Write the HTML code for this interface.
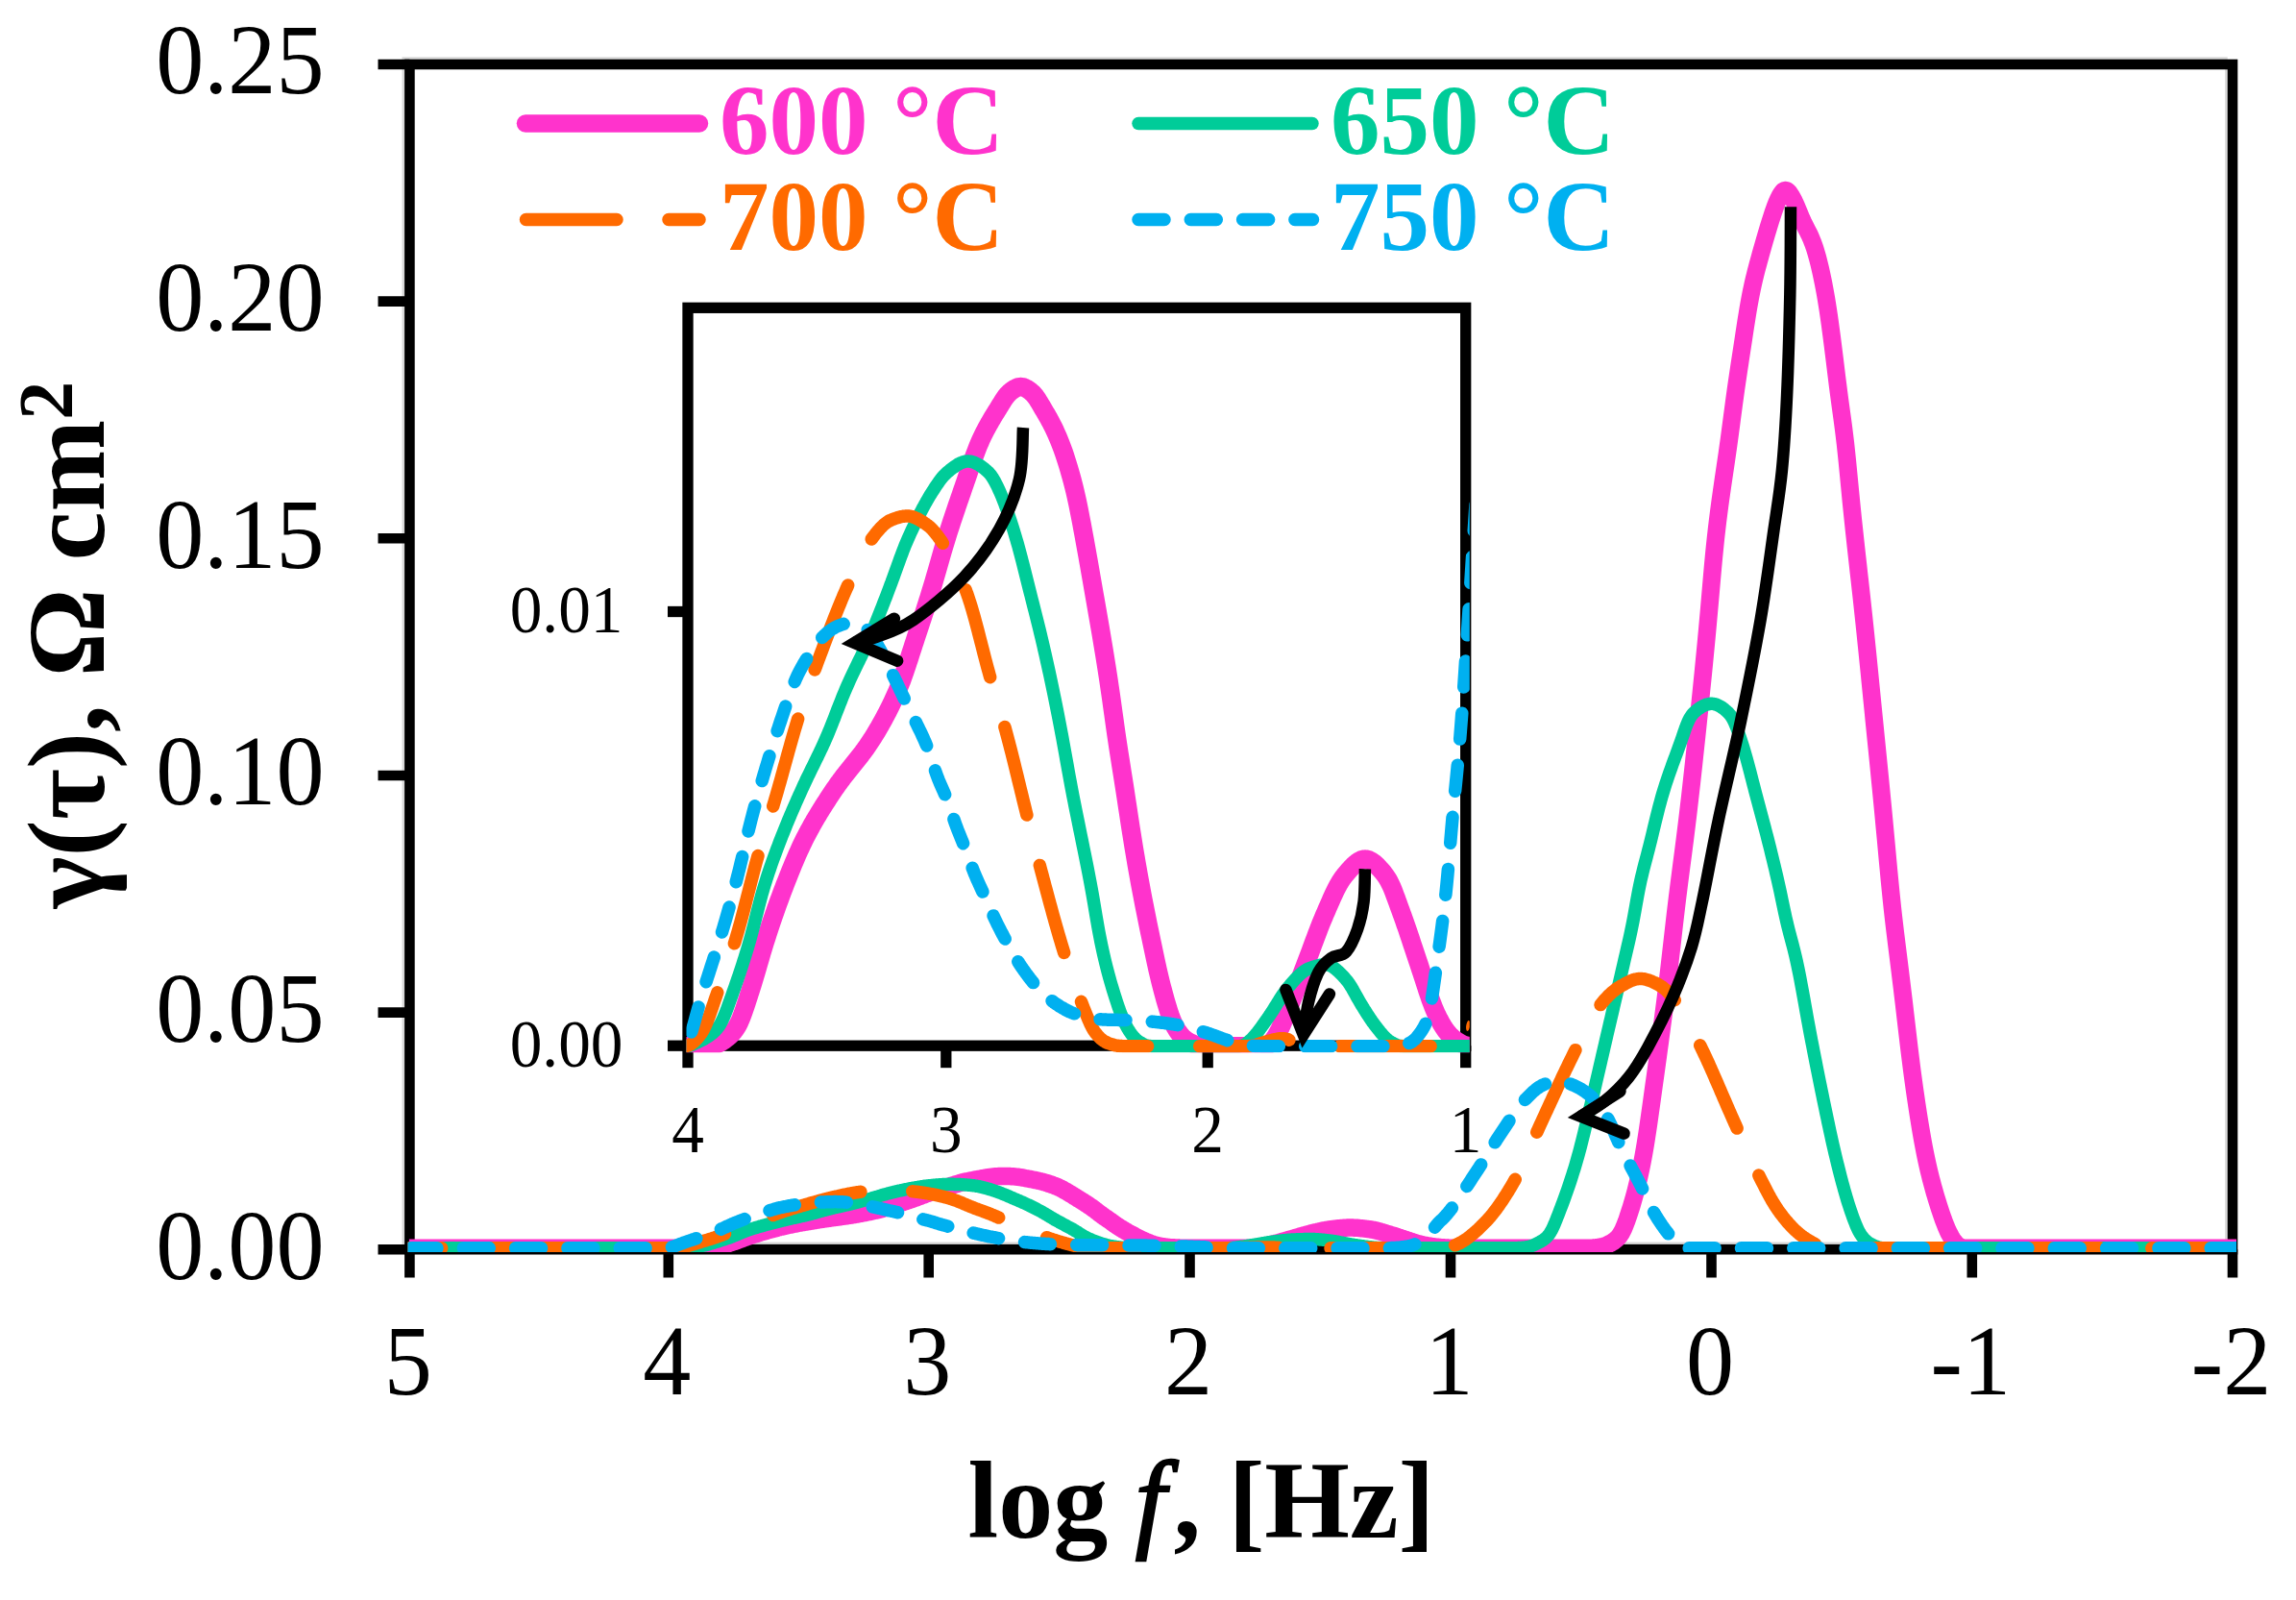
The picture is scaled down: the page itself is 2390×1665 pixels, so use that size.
<!DOCTYPE html>
<html lang="en">
<head>
<meta charset="utf-8">
<title>DRT spectra: γ(τ) vs log f</title>
<style>
html,body{margin:0;padding:0;background:#fff;}
body{width:2390px;height:1665px;overflow:hidden;font-family:'Liberation Serif','Times New Roman',serif;}
svg{display:block;}
</style>
</head>
<body>
<svg width="2390" height="1665" viewBox="0 0 2390 1665">
<rect width="2390" height="1665" fill="#fff"/>
<defs>
<clipPath id="cm"><rect x="424.4" y="67.0" width="1903.6" height="1236.1"/></clipPath>
<clipPath id="ci"><rect x="714.5" y="320.3" width="815.3" height="775.0"/></clipPath>
</defs>
<rect x="419.79999999999995" y="60.6" width="1897.6" height="1233.2" fill="none" stroke="#d9d9d9" stroke-width="2.6"/>
<g stroke="#000" stroke-width="10.6" fill="none" stroke-linecap="butt">
<rect x="426.4" y="67.0" width="1897.6" height="1233.2"/>
<line x1="426.4" y1="1300.2" x2="426.4" y2="1329.5"/>
<line x1="695.8" y1="1300.2" x2="695.8" y2="1329.5"/>
<line x1="966.7" y1="1300.2" x2="966.7" y2="1329.5"/>
<line x1="1238.5" y1="1300.2" x2="1238.5" y2="1329.5"/>
<line x1="1510.0" y1="1300.2" x2="1510.0" y2="1329.5"/>
<line x1="1781.5" y1="1300.2" x2="1781.5" y2="1329.5"/>
<line x1="2052.8" y1="1300.2" x2="2052.8" y2="1329.5"/>
<line x1="2324.0" y1="1300.2" x2="2324.0" y2="1329.5"/>
<line x1="393.5" y1="67.0" x2="426.4" y2="67.0"/>
<line x1="393.5" y1="313.6" x2="426.4" y2="313.6"/>
<line x1="393.5" y1="560.3" x2="426.4" y2="560.3"/>
<line x1="393.5" y1="807.0" x2="426.4" y2="807.0"/>
<line x1="393.5" y1="1053.6" x2="426.4" y2="1053.6"/>
<line x1="393.5" y1="1300.2" x2="426.4" y2="1300.2"/>
</g>
<g clip-path="url(#cm)" fill="none" stroke-linejoin="round">
<path d="M425.9,1298.8 L426.9,1298.8 L427.9,1298.8 L428.9,1298.8 L429.9,1298.8 L430.9,1298.8 L431.9,1298.8 L432.9,1298.8 L433.9,1298.8 L434.9,1298.8 L435.9,1298.8 L436.9,1298.8 L437.9,1298.8 L438.9,1298.8 L439.9,1298.8 L440.9,1298.8 L441.9,1298.8 L442.9,1298.8 L443.9,1298.8 L444.9,1298.8 L445.9,1298.8 L446.9,1298.8 L447.9,1298.8 L448.9,1298.8 L449.9,1298.8 L450.9,1298.8 L451.9,1298.8 L452.9,1298.8 L453.9,1298.8 L454.9,1298.8 L455.9,1298.8 L456.9,1298.8 L457.9,1298.8 L458.9,1298.8 L459.9,1298.8 L460.9,1298.8 L461.9,1298.8 L462.9,1298.8 L463.9,1298.8 L464.9,1298.8 L465.9,1298.8 L466.9,1298.8 L467.9,1298.8 L468.9,1298.8 L469.9,1298.8 L470.9,1298.8 L471.9,1298.8 L472.9,1298.8 L473.9,1298.8 L474.9,1298.8 L475.9,1298.8 L476.9,1298.8 L477.9,1298.8 L478.9,1298.8 L479.9,1298.8 L480.9,1298.8 L481.9,1298.8 L482.9,1298.8 L483.9,1298.8 L484.9,1298.8 L485.9,1298.8 L486.9,1298.8 L487.9,1298.8 L488.9,1298.8 L489.9,1298.8 L490.9,1298.8 L491.9,1298.8 L492.9,1298.8 L493.9,1298.8 L494.9,1298.8 L495.9,1298.8 L496.9,1298.8 L497.9,1298.8 L498.9,1298.8 L499.9,1298.8 L500.9,1298.8 L501.9,1298.8 L502.9,1298.8 L503.9,1298.8 L504.9,1298.8 L505.9,1298.8 L506.9,1298.8 L507.9,1298.8 L508.9,1298.8 L509.9,1298.8 L510.9,1298.8 L511.9,1298.8 L512.9,1298.8 L513.9,1298.8 L514.9,1298.8 L515.9,1298.8 L516.9,1298.8 L517.9,1298.8 L518.9,1298.8 L519.9,1298.8 L520.9,1298.8 L521.9,1298.8 L522.9,1298.8 L523.9,1298.8 L524.9,1298.8 L525.9,1298.8 L526.9,1298.8 L527.9,1298.8 L528.9,1298.8 L529.9,1298.8 L530.9,1298.8 L531.9,1298.8 L532.9,1298.8 L533.9,1298.8 L534.9,1298.8 L535.9,1298.8 L536.9,1298.8 L537.9,1298.8 L538.9,1298.8 L539.9,1298.8 L540.9,1298.8 L541.9,1298.8 L542.9,1298.8 L543.9,1298.8 L544.9,1298.8 L545.9,1298.8 L546.9,1298.8 L547.9,1298.8 L548.9,1298.8 L549.9,1298.8 L550.9,1298.8 L551.9,1298.8 L552.9,1298.8 L553.9,1298.8 L554.9,1298.8 L555.9,1298.8 L556.9,1298.8 L557.9,1298.8 L558.9,1298.8 L559.9,1298.8 L560.9,1298.8 L561.9,1298.8 L562.9,1298.8 L563.9,1298.8 L564.9,1298.8 L565.9,1298.8 L566.9,1298.8 L567.9,1298.8 L568.9,1298.8 L569.9,1298.8 L570.9,1298.8 L571.9,1298.8 L572.9,1298.8 L573.9,1298.8 L574.9,1298.8 L575.9,1298.8 L576.9,1298.8 L577.9,1298.8 L578.9,1298.8 L579.9,1298.8 L580.9,1298.8 L581.9,1298.8 L582.9,1298.8 L583.9,1298.8 L584.9,1298.8 L585.9,1298.8 L586.9,1298.8 L587.9,1298.8 L588.9,1298.8 L589.9,1298.8 L590.9,1298.8 L591.9,1298.8 L592.9,1298.8 L593.9,1298.8 L594.9,1298.8 L595.9,1298.8 L596.9,1298.8 L597.9,1298.8 L598.9,1298.8 L599.9,1298.8 L600.9,1298.8 L601.9,1298.8 L602.9,1298.8 L603.9,1298.8 L604.9,1298.8 L605.9,1298.8 L606.9,1298.8 L607.9,1298.8 L608.9,1298.8 L609.9,1298.8 L610.9,1298.8 L611.9,1298.8 L612.9,1298.8 L613.9,1298.8 L614.9,1298.8 L615.9,1298.8 L616.9,1298.8 L617.9,1298.8 L618.9,1298.8 L619.9,1298.8 L620.9,1298.8 L621.9,1298.8 L622.9,1298.8 L623.9,1298.8 L624.9,1298.8 L625.9,1298.8 L626.9,1298.8 L627.9,1298.8 L628.9,1298.8 L629.9,1298.8 L630.9,1298.8 L631.9,1298.8 L632.9,1298.8 L633.9,1298.8 L634.9,1298.8 L635.9,1298.8 L636.9,1298.8 L637.9,1298.8 L638.9,1298.8 L639.9,1298.8 L640.9,1298.8 L641.9,1298.8 L642.9,1298.8 L643.9,1298.8 L644.9,1298.8 L645.9,1298.8 L646.9,1298.8 L647.9,1298.8 L648.9,1298.8 L649.9,1298.8 L650.9,1298.8 L651.9,1298.8 L652.9,1298.8 L653.9,1298.8 L654.9,1298.8 L655.9,1298.8 L656.9,1298.8 L657.9,1298.8 L658.9,1298.8 L659.9,1298.8 L660.9,1298.8 L661.9,1298.8 L662.9,1298.8 L663.9,1298.8 L664.9,1298.8 L665.9,1298.8 L666.9,1298.8 L667.9,1298.8 L668.9,1298.8 L669.9,1298.8 L670.9,1298.8 L671.9,1298.8 L672.9,1298.8 L673.9,1298.8 L674.9,1298.8 L675.9,1298.8 L676.9,1298.8 L677.9,1298.8 L678.9,1298.8 L679.9,1298.8 L680.9,1298.8 L681.9,1298.8 L682.9,1298.8 L683.9,1298.8 L684.9,1298.8 L685.9,1298.8 L686.9,1298.8 L687.9,1298.8 L688.9,1298.8 L689.9,1298.8 L690.9,1298.8 L691.9,1298.8 L692.9,1298.8 L693.9,1298.8 L694.9,1298.8 L695.9,1298.8 L696.9,1298.8 L697.9,1298.8 L698.9,1298.8 L699.9,1298.8 L700.9,1298.8 L701.9,1298.8 L702.9,1298.8 L703.9,1298.8 L704.9,1298.8 L705.9,1298.8 L706.9,1298.8 L707.9,1298.8 L708.9,1298.8 L709.9,1298.8 L710.9,1298.8 L711.9,1298.8 L712.9,1298.8 L713.9,1298.8 L714.9,1298.8 L715.9,1298.8 L716.9,1298.8 L717.9,1298.8 L718.9,1298.8 L719.9,1298.8 L720.9,1298.7 L721.9,1298.7 L722.9,1298.7 L723.9,1298.7 L724.9,1298.7 L725.9,1298.6 L726.9,1298.6 L727.9,1298.6 L728.9,1298.5 L729.9,1298.5 L730.9,1298.4 L731.9,1298.4 L732.9,1298.3 L733.9,1298.2 L734.9,1298.1 L735.9,1298.1 L736.9,1298.0 L737.9,1297.9 L738.9,1297.8 L739.9,1297.7 L740.9,1297.6 L741.9,1297.5 L742.9,1297.4 L743.9,1297.3 L744.9,1297.2 L745.9,1297.0 L746.9,1296.9 L747.9,1296.7 L748.9,1296.6 L749.9,1296.4 L750.9,1296.2 L751.9,1295.9 L752.9,1295.7 L753.9,1295.4 L754.9,1295.1 L755.9,1294.8 L756.9,1294.5 L757.9,1294.2 L758.9,1293.8 L759.9,1293.5 L760.9,1293.2 L761.9,1292.8 L762.9,1292.5 L763.9,1292.1 L764.9,1291.8 L765.9,1291.4 L766.9,1291.1 L767.9,1290.7 L768.9,1290.3 L769.9,1290.0 L770.9,1289.6 L771.9,1289.2 L772.9,1288.9 L773.9,1288.5 L774.9,1288.1 L775.9,1287.7 L776.9,1287.4 L777.9,1287.0 L778.9,1286.7 L779.9,1286.3 L780.9,1286.0 L781.9,1285.7 L782.9,1285.4 L783.9,1285.0 L784.9,1284.7 L785.9,1284.4 L786.9,1284.1 L787.9,1283.8 L788.9,1283.4 L789.9,1283.1 L790.9,1282.8 L791.9,1282.5 L792.9,1282.2 L793.9,1281.9 L794.9,1281.6 L795.9,1281.4 L796.9,1281.1 L797.9,1280.8 L798.9,1280.5 L799.9,1280.2 L800.9,1279.9 L801.9,1279.7 L802.9,1279.4 L803.9,1279.1 L804.9,1278.9 L805.9,1278.6 L806.9,1278.3 L807.9,1278.1 L808.9,1277.8 L809.9,1277.5 L810.9,1277.3 L811.9,1277.0 L812.9,1276.8 L813.9,1276.6 L814.9,1276.3 L815.9,1276.1 L816.9,1275.8 L817.9,1275.6 L818.9,1275.4 L819.9,1275.2 L820.9,1275.0 L821.9,1274.8 L822.9,1274.6 L823.9,1274.4 L824.9,1274.2 L825.9,1274.0 L826.9,1273.8 L827.9,1273.6 L828.9,1273.4 L829.9,1273.2 L830.9,1273.0 L831.9,1272.8 L832.9,1272.6 L833.9,1272.4 L834.9,1272.3 L835.9,1272.1 L836.9,1271.9 L837.9,1271.7 L838.9,1271.6 L839.9,1271.4 L840.9,1271.2 L841.9,1271.1 L842.9,1270.9 L843.9,1270.7 L844.9,1270.6 L845.9,1270.4 L846.9,1270.2 L847.9,1270.1 L848.9,1269.9 L849.9,1269.7 L850.9,1269.6 L851.9,1269.4 L852.9,1269.3 L853.9,1269.1 L854.9,1269.0 L855.9,1268.8 L856.9,1268.7 L857.9,1268.5 L858.9,1268.4 L859.9,1268.2 L860.9,1268.1 L861.9,1267.9 L862.9,1267.8 L863.9,1267.7 L864.9,1267.5 L865.9,1267.4 L866.9,1267.3 L867.9,1267.1 L868.9,1267.0 L869.9,1266.9 L870.9,1266.7 L871.9,1266.6 L872.9,1266.5 L873.9,1266.3 L874.9,1266.2 L875.9,1266.0 L876.9,1265.9 L877.9,1265.8 L878.9,1265.6 L879.9,1265.5 L880.9,1265.3 L881.9,1265.2 L882.9,1265.0 L883.9,1264.9 L884.9,1264.7 L885.9,1264.6 L886.9,1264.4 L887.9,1264.3 L888.9,1264.1 L889.9,1263.9 L890.9,1263.7 L891.9,1263.6 L892.9,1263.4 L893.9,1263.2 L894.9,1263.0 L895.9,1262.9 L896.9,1262.7 L897.9,1262.5 L898.9,1262.3 L899.9,1262.1 L900.9,1261.9 L901.9,1261.7 L902.9,1261.5 L903.9,1261.3 L904.9,1261.1 L905.9,1260.9 L906.9,1260.7 L907.9,1260.5 L908.9,1260.2 L909.9,1260.0 L910.9,1259.8 L911.9,1259.6 L912.9,1259.3 L913.9,1259.1 L914.9,1258.8 L915.9,1258.6 L916.9,1258.3 L917.9,1258.1 L918.9,1257.8 L919.9,1257.5 L920.9,1257.3 L921.9,1257.0 L922.9,1256.7 L923.9,1256.4 L924.9,1256.0 L925.9,1255.7 L926.9,1255.4 L927.9,1255.1 L928.9,1254.7 L929.9,1254.4 L930.9,1254.0 L931.9,1253.7 L932.9,1253.4 L933.9,1253.0 L934.9,1252.7 L935.9,1252.4 L936.9,1252.1 L937.9,1251.7 L938.9,1251.4 L939.9,1251.1 L940.9,1250.7 L941.9,1250.4 L942.9,1250.1 L943.9,1249.7 L944.9,1249.4 L945.9,1249.1 L946.9,1248.7 L947.9,1248.4 L948.9,1248.1 L949.9,1247.7 L950.9,1247.4 L951.9,1247.0 L952.9,1246.6 L953.9,1246.3 L954.9,1245.9 L955.9,1245.5 L956.9,1245.2 L957.9,1244.8 L958.9,1244.4 L959.9,1244.0 L960.9,1243.6 L961.9,1243.3 L962.9,1242.9 L963.9,1242.5 L964.9,1242.1 L965.9,1241.8 L966.9,1241.4 L967.9,1241.1 L968.9,1240.7 L969.9,1240.4 L970.9,1240.0 L971.9,1239.7 L972.9,1239.4 L973.9,1239.0 L974.9,1238.7 L975.9,1238.4 L976.9,1238.1 L977.9,1237.7 L978.9,1237.4 L979.9,1237.1 L980.9,1236.8 L981.9,1236.5 L982.9,1236.2 L983.9,1235.8 L984.9,1235.5 L985.9,1235.2 L986.9,1234.9 L987.9,1234.6 L988.9,1234.3 L989.9,1233.9 L990.9,1233.6 L991.9,1233.3 L992.9,1233.0 L993.9,1232.7 L994.9,1232.4 L995.9,1232.1 L996.9,1231.8 L997.9,1231.5 L998.9,1231.2 L999.9,1230.9 L1000.9,1230.6 L1001.9,1230.4 L1002.9,1230.1 L1003.9,1229.9 L1004.9,1229.6 L1005.9,1229.4 L1006.9,1229.2 L1007.9,1229.0 L1008.9,1228.8 L1009.9,1228.6 L1010.9,1228.4 L1011.9,1228.2 L1012.9,1228.0 L1013.9,1227.8 L1014.9,1227.6 L1015.9,1227.4 L1016.9,1227.2 L1017.9,1227.1 L1018.9,1226.9 L1019.9,1226.7 L1020.9,1226.5 L1021.9,1226.3 L1022.9,1226.2 L1023.9,1226.0 L1024.9,1225.8 L1025.9,1225.6 L1026.9,1225.5 L1027.9,1225.3 L1028.9,1225.1 L1029.9,1225.0 L1030.9,1224.9 L1031.9,1224.7 L1032.9,1224.6 L1033.9,1224.5 L1034.9,1224.4 L1035.9,1224.3 L1036.9,1224.2 L1037.9,1224.2 L1038.9,1224.1 L1039.9,1224.0 L1040.9,1224.0 L1041.9,1223.9 L1042.9,1223.9 L1043.9,1223.9 L1044.9,1223.9 L1045.9,1223.9 L1046.9,1223.9 L1047.9,1223.9 L1048.9,1223.9 L1049.9,1224.0 L1050.9,1224.0 L1051.9,1224.1 L1052.9,1224.2 L1053.9,1224.2 L1054.9,1224.3 L1055.9,1224.4 L1056.9,1224.5 L1057.9,1224.6 L1058.9,1224.7 L1059.9,1224.8 L1060.9,1225.0 L1061.9,1225.1 L1062.9,1225.3 L1063.9,1225.4 L1064.9,1225.6 L1065.9,1225.8 L1066.9,1226.0 L1067.9,1226.2 L1068.9,1226.4 L1069.9,1226.5 L1070.9,1226.7 L1071.9,1226.9 L1072.9,1227.1 L1073.9,1227.3 L1074.9,1227.5 L1075.9,1227.7 L1076.9,1227.9 L1077.9,1228.1 L1078.9,1228.3 L1079.9,1228.5 L1080.9,1228.8 L1081.9,1229.0 L1082.9,1229.2 L1083.9,1229.5 L1084.9,1229.7 L1085.9,1230.0 L1086.9,1230.3 L1087.9,1230.5 L1088.9,1230.8 L1089.9,1231.1 L1090.9,1231.4 L1091.9,1231.8 L1092.9,1232.1 L1093.9,1232.4 L1094.9,1232.8 L1095.9,1233.2 L1096.9,1233.5 L1097.9,1233.9 L1098.9,1234.3 L1099.9,1234.7 L1100.9,1235.1 L1101.9,1235.6 L1102.9,1236.0 L1103.9,1236.5 L1104.9,1237.0 L1105.9,1237.6 L1106.9,1238.1 L1107.9,1238.7 L1108.9,1239.2 L1109.9,1239.8 L1110.9,1240.4 L1111.9,1241.0 L1112.9,1241.6 L1113.9,1242.2 L1114.9,1242.8 L1115.9,1243.4 L1116.9,1244.0 L1117.9,1244.6 L1118.9,1245.3 L1119.9,1245.9 L1120.9,1246.5 L1121.9,1247.1 L1122.9,1247.8 L1123.9,1248.4 L1124.9,1249.0 L1125.9,1249.6 L1126.9,1250.2 L1127.9,1250.9 L1128.9,1251.5 L1129.9,1252.1 L1130.9,1252.8 L1131.9,1253.4 L1132.9,1254.1 L1133.9,1254.8 L1134.9,1255.5 L1135.9,1256.2 L1136.9,1256.9 L1137.9,1257.6 L1138.9,1258.3 L1139.9,1259.1 L1140.9,1259.9 L1141.9,1260.6 L1142.9,1261.4 L1143.9,1262.2 L1144.9,1263.0 L1145.9,1263.7 L1146.9,1264.4 L1147.9,1265.2 L1148.9,1265.9 L1149.9,1266.6 L1150.9,1267.2 L1151.9,1267.9 L1152.9,1268.6 L1153.9,1269.3 L1154.9,1270.0 L1155.9,1270.7 L1156.9,1271.4 L1157.9,1272.2 L1158.9,1272.9 L1159.9,1273.6 L1160.9,1274.3 L1161.9,1275.0 L1162.9,1275.6 L1163.9,1276.3 L1164.9,1277.0 L1165.9,1277.6 L1166.9,1278.2 L1167.9,1278.8 L1168.9,1279.5 L1169.9,1280.1 L1170.9,1280.6 L1171.9,1281.2 L1172.9,1281.8 L1173.9,1282.4 L1174.9,1282.9 L1175.9,1283.5 L1176.9,1284.0 L1177.9,1284.6 L1178.9,1285.1 L1179.9,1285.6 L1180.9,1286.1 L1181.9,1286.7 L1182.9,1287.2 L1183.9,1287.7 L1184.9,1288.2 L1185.9,1288.7 L1186.9,1289.2 L1187.9,1289.7 L1188.9,1290.2 L1189.9,1290.7 L1190.9,1291.1 L1191.9,1291.6 L1192.9,1292.0 L1193.9,1292.4 L1194.9,1292.8 L1195.9,1293.2 L1196.9,1293.6 L1197.9,1294.0 L1198.9,1294.3 L1199.9,1294.7 L1200.9,1295.0 L1201.9,1295.3 L1202.9,1295.6 L1203.9,1295.9 L1204.9,1296.2 L1205.9,1296.4 L1206.9,1296.6 L1207.9,1296.8 L1208.9,1297.0 L1209.9,1297.1 L1210.9,1297.3 L1211.9,1297.4 L1212.9,1297.6 L1213.9,1297.7 L1214.9,1297.8 L1215.9,1297.9 L1216.9,1298.0 L1217.9,1298.1 L1218.9,1298.2 L1219.9,1298.2 L1220.9,1298.3 L1221.9,1298.3 L1222.9,1298.4 L1223.9,1298.4 L1224.9,1298.5 L1225.9,1298.5 L1226.9,1298.6 L1227.9,1298.6 L1228.9,1298.7 L1229.9,1298.7 L1230.9,1298.7 L1231.9,1298.7 L1232.9,1298.8 L1233.9,1298.8 L1234.9,1298.8 L1235.9,1298.8 L1236.9,1298.8 L1237.9,1298.8 L1238.9,1298.8 L1239.9,1298.8 L1240.9,1298.8 L1241.9,1298.8 L1242.9,1298.8 L1243.9,1298.8 L1244.9,1298.8 L1245.9,1298.8 L1246.9,1298.8 L1247.9,1298.8 L1248.9,1298.8 L1249.9,1298.8 L1250.9,1298.8 L1251.9,1298.8 L1252.9,1298.8 L1253.9,1298.8 L1254.9,1298.8 L1255.9,1298.8 L1256.9,1298.8 L1257.9,1298.8 L1258.9,1298.8 L1259.9,1298.8 L1260.9,1298.8 L1261.9,1298.8 L1262.9,1298.8 L1263.9,1298.8 L1264.9,1298.8 L1265.9,1298.8 L1266.9,1298.8 L1267.9,1298.8 L1268.9,1298.8 L1269.9,1298.8 L1270.9,1298.8 L1271.9,1298.8 L1272.9,1298.8 L1273.9,1298.8 L1274.9,1298.8 L1275.9,1298.8 L1276.9,1298.8 L1277.9,1298.8 L1278.9,1298.8 L1279.9,1298.8 L1280.9,1298.8 L1281.9,1298.8 L1282.9,1298.8 L1283.9,1298.8 L1284.9,1298.8 L1285.9,1298.8 L1286.9,1298.8 L1287.9,1298.8 L1288.9,1298.8 L1289.9,1298.8 L1290.9,1298.8 L1291.9,1298.8 L1292.9,1298.8 L1293.9,1298.8 L1294.9,1298.8 L1295.9,1298.8 L1296.9,1298.8 L1297.9,1298.8 L1298.9,1298.8 L1299.9,1298.8 L1300.9,1298.8 L1301.9,1298.8 L1302.9,1298.7 L1303.9,1298.7 L1304.9,1298.6 L1305.9,1298.5 L1306.9,1298.4 L1307.9,1298.3 L1308.9,1298.2 L1309.9,1298.1 L1310.9,1297.9 L1311.9,1297.7 L1312.9,1297.6 L1313.9,1297.4 L1314.9,1297.2 L1315.9,1297.0 L1316.9,1296.7 L1317.9,1296.5 L1318.9,1296.2 L1319.9,1296.0 L1320.9,1295.7 L1321.9,1295.5 L1322.9,1295.2 L1323.9,1294.9 L1324.9,1294.7 L1325.9,1294.4 L1326.9,1294.1 L1327.9,1293.9 L1328.9,1293.6 L1329.9,1293.3 L1330.9,1293.0 L1331.9,1292.8 L1332.9,1292.5 L1333.9,1292.2 L1334.9,1291.9 L1335.9,1291.6 L1336.9,1291.3 L1337.9,1291.0 L1338.9,1290.8 L1339.9,1290.5 L1340.9,1290.2 L1341.9,1289.9 L1342.9,1289.6 L1343.9,1289.3 L1344.9,1289.0 L1345.9,1288.8 L1346.9,1288.5 L1347.9,1288.2 L1348.9,1287.9 L1349.9,1287.6 L1350.9,1287.3 L1351.9,1287.0 L1352.9,1286.7 L1353.9,1286.4 L1354.9,1286.1 L1355.9,1285.8 L1356.9,1285.6 L1357.9,1285.3 L1358.9,1285.0 L1359.9,1284.7 L1360.9,1284.5 L1361.9,1284.2 L1362.9,1284.0 L1363.9,1283.7 L1364.9,1283.4 L1365.9,1283.2 L1366.9,1282.9 L1367.9,1282.7 L1368.9,1282.4 L1369.9,1282.2 L1370.9,1282.0 L1371.9,1281.7 L1372.9,1281.5 L1373.9,1281.3 L1374.9,1281.0 L1375.9,1280.8 L1376.9,1280.6 L1377.9,1280.4 L1378.9,1280.2 L1379.9,1280.0 L1380.9,1279.9 L1381.9,1279.7 L1382.9,1279.6 L1383.9,1279.4 L1384.9,1279.3 L1385.9,1279.2 L1386.9,1279.0 L1387.9,1278.9 L1388.9,1278.8 L1389.9,1278.7 L1390.9,1278.6 L1391.9,1278.4 L1392.9,1278.3 L1393.9,1278.2 L1394.9,1278.1 L1395.9,1278.0 L1396.9,1277.9 L1397.9,1277.9 L1398.9,1277.8 L1399.9,1277.7 L1400.9,1277.7 L1401.9,1277.6 L1402.9,1277.6 L1403.9,1277.6 L1404.9,1277.6 L1405.9,1277.6 L1406.9,1277.6 L1407.9,1277.6 L1408.9,1277.6 L1409.9,1277.7 L1410.9,1277.7 L1411.9,1277.8 L1412.9,1277.8 L1413.9,1277.9 L1414.9,1278.0 L1415.9,1278.1 L1416.9,1278.2 L1417.9,1278.3 L1418.9,1278.4 L1419.9,1278.5 L1420.9,1278.6 L1421.9,1278.7 L1422.9,1278.9 L1423.9,1279.0 L1424.9,1279.1 L1425.9,1279.3 L1426.9,1279.4 L1427.9,1279.6 L1428.9,1279.7 L1429.9,1279.9 L1430.9,1280.1 L1431.9,1280.3 L1432.9,1280.6 L1433.9,1280.8 L1434.9,1281.1 L1435.9,1281.4 L1436.9,1281.7 L1437.9,1282.0 L1438.9,1282.2 L1439.9,1282.5 L1440.9,1282.8 L1441.9,1283.1 L1442.9,1283.5 L1443.9,1283.8 L1444.9,1284.1 L1445.9,1284.4 L1446.9,1284.7 L1447.9,1285.0 L1448.9,1285.3 L1449.9,1285.6 L1450.9,1285.9 L1451.9,1286.2 L1452.9,1286.6 L1453.9,1286.9 L1454.9,1287.2 L1455.9,1287.5 L1456.9,1287.9 L1457.9,1288.2 L1458.9,1288.5 L1459.9,1288.9 L1460.9,1289.2 L1461.9,1289.5 L1462.9,1289.8 L1463.9,1290.2 L1464.9,1290.5 L1465.9,1290.8 L1466.9,1291.2 L1467.9,1291.5 L1468.9,1291.8 L1469.9,1292.2 L1470.9,1292.5 L1471.9,1292.8 L1472.9,1293.1 L1473.9,1293.5 L1474.9,1293.8 L1475.9,1294.0 L1476.9,1294.3 L1477.9,1294.6 L1478.9,1294.8 L1479.9,1295.1 L1480.9,1295.3 L1481.9,1295.5 L1482.9,1295.7 L1483.9,1295.9 L1484.9,1296.1 L1485.9,1296.3 L1486.9,1296.5 L1487.9,1296.7 L1488.9,1296.8 L1489.9,1297.0 L1490.9,1297.1 L1491.9,1297.3 L1492.9,1297.4 L1493.9,1297.5 L1494.9,1297.6 L1495.9,1297.7 L1496.9,1297.8 L1497.9,1297.9 L1498.9,1298.0 L1499.9,1298.1 L1500.9,1298.2 L1501.9,1298.2 L1502.9,1298.3 L1503.9,1298.4 L1504.9,1298.4 L1505.9,1298.5 L1506.9,1298.6 L1507.9,1298.6 L1508.9,1298.7 L1509.9,1298.7 L1510.9,1298.7 L1511.9,1298.8 L1512.9,1298.8 L1513.9,1298.8 L1514.9,1298.8 L1515.9,1298.8 L1516.9,1298.8 L1517.9,1298.8 L1518.9,1298.8 L1519.9,1298.8 L1520.9,1298.8 L1521.9,1298.8 L1522.9,1298.8 L1523.9,1298.8 L1524.9,1298.8 L1525.9,1298.8 L1526.9,1298.8 L1527.9,1298.8 L1528.9,1298.8 L1529.9,1298.8 L1530.9,1298.8 L1531.9,1298.8 L1532.9,1298.8 L1533.9,1298.8 L1534.9,1298.8 L1535.9,1298.8 L1536.9,1298.8 L1537.9,1298.8 L1538.9,1298.8 L1539.9,1298.8 L1540.9,1298.8 L1541.9,1298.8 L1542.9,1298.8 L1543.9,1298.8 L1544.9,1298.8 L1545.9,1298.8 L1546.9,1298.8 L1547.9,1298.8 L1548.9,1298.8 L1549.9,1298.8 L1550.9,1298.8 L1551.9,1298.8 L1552.9,1298.8 L1553.9,1298.8 L1554.9,1298.8 L1555.9,1298.8 L1556.9,1298.8 L1557.9,1298.8 L1558.9,1298.8 L1559.9,1298.8 L1560.9,1298.8 L1561.9,1298.8 L1562.9,1298.8 L1563.9,1298.8 L1564.9,1298.8 L1565.9,1298.8 L1566.9,1298.8 L1567.9,1298.8 L1568.9,1298.8 L1569.9,1298.8 L1570.9,1298.8 L1571.9,1298.8 L1572.9,1298.8 L1573.9,1298.8 L1574.9,1298.8 L1575.9,1298.8 L1576.9,1298.8 L1577.9,1298.8 L1578.9,1298.8 L1579.9,1298.8 L1580.9,1298.8 L1581.9,1298.8 L1582.9,1298.8 L1583.9,1298.8 L1584.9,1298.8 L1585.9,1298.8 L1586.9,1298.8 L1587.9,1298.8 L1588.9,1298.8 L1589.9,1298.8 L1590.9,1298.8 L1591.9,1298.8 L1592.9,1298.8 L1593.9,1298.8 L1594.9,1298.8 L1595.9,1298.8 L1596.9,1298.8 L1597.9,1298.8 L1598.9,1298.8 L1599.9,1298.8 L1600.9,1298.8 L1601.9,1298.8 L1602.9,1298.8 L1603.9,1298.8 L1604.9,1298.8 L1605.9,1298.8 L1606.9,1298.8 L1607.9,1298.8 L1608.9,1298.8 L1609.9,1298.8 L1610.9,1298.8 L1611.9,1298.8 L1612.9,1298.8 L1613.9,1298.8 L1614.9,1298.8 L1615.9,1298.8 L1616.9,1298.8 L1617.9,1298.8 L1618.9,1298.8 L1619.9,1298.8 L1620.9,1298.8 L1621.9,1298.8 L1622.9,1298.8 L1623.9,1298.8 L1624.9,1298.8 L1625.9,1298.8 L1626.9,1298.8 L1627.9,1298.8 L1628.9,1298.8 L1629.9,1298.8 L1630.9,1298.8 L1631.9,1298.8 L1632.9,1298.8 L1633.9,1298.8 L1634.9,1298.8 L1635.9,1298.8 L1636.9,1298.8 L1637.9,1298.8 L1638.9,1298.8 L1639.9,1298.8 L1640.9,1298.8 L1641.9,1298.8 L1642.9,1298.8 L1643.9,1298.8 L1644.9,1298.8 L1645.9,1298.8 L1646.9,1298.8 L1647.9,1298.8 L1648.9,1298.8 L1649.9,1298.8 L1650.9,1298.8 L1651.9,1298.8 L1652.9,1298.8 L1653.9,1298.8 L1654.9,1298.8 L1655.9,1298.7 L1656.9,1298.7 L1657.9,1298.6 L1658.9,1298.6 L1659.9,1298.5 L1660.9,1298.4 L1661.9,1298.3 L1662.9,1298.1 L1663.9,1298.0 L1664.9,1297.8 L1665.9,1297.6 L1666.9,1297.4 L1667.9,1297.2 L1668.9,1297.0 L1669.9,1296.7 L1670.9,1296.3 L1671.9,1296.0 L1672.9,1295.6 L1673.9,1295.1 L1674.9,1294.6 L1675.9,1294.1 L1676.9,1293.5 L1677.9,1293.0 L1678.9,1292.3 L1679.9,1291.6 L1680.9,1290.9 L1681.9,1290.1 L1682.9,1289.2 L1683.9,1288.2 L1684.9,1287.1 L1685.9,1285.8 L1686.9,1284.4 L1687.9,1282.7 L1688.9,1280.8 L1689.9,1278.7 L1690.9,1276.4 L1691.9,1273.9 L1692.9,1271.3 L1693.9,1268.5 L1694.9,1265.5 L1695.9,1262.5 L1696.9,1259.4 L1697.9,1256.3 L1698.9,1253.0 L1699.9,1249.5 L1700.9,1246.0 L1701.9,1242.3 L1702.9,1238.5 L1703.9,1234.5 L1704.9,1230.4 L1705.9,1226.1 L1706.9,1221.6 L1707.9,1217.0 L1708.9,1212.1 L1709.9,1207.0 L1710.9,1201.6 L1711.9,1195.9 L1712.9,1189.9 L1713.9,1183.6 L1714.9,1177.1 L1715.9,1170.3 L1716.9,1163.4 L1717.9,1156.3 L1718.9,1149.2 L1719.9,1142.0 L1720.9,1134.8 L1721.9,1127.6 L1722.9,1120.4 L1723.9,1113.2 L1724.9,1106.0 L1725.9,1098.7 L1726.9,1091.3 L1727.9,1083.9 L1728.9,1076.4 L1729.9,1068.9 L1730.9,1061.3 L1731.9,1053.5 L1732.9,1045.7 L1733.9,1037.8 L1734.9,1029.7 L1735.9,1021.4 L1736.9,1013.1 L1737.9,1004.5 L1738.9,995.8 L1739.9,987.1 L1740.9,978.3 L1741.9,969.5 L1742.9,960.7 L1743.9,952.1 L1744.9,943.7 L1745.9,935.4 L1746.9,927.4 L1747.9,919.4 L1748.9,911.7 L1749.9,904.0 L1750.9,896.3 L1751.9,888.7 L1752.9,881.0 L1753.9,873.2 L1754.9,865.2 L1755.9,857.1 L1756.9,848.8 L1757.9,840.4 L1758.9,831.7 L1759.9,823.0 L1760.9,814.1 L1761.9,805.0 L1762.9,795.9 L1763.9,786.6 L1764.9,777.3 L1765.9,767.9 L1766.9,758.5 L1767.9,748.9 L1768.9,739.3 L1769.9,729.6 L1770.9,719.9 L1771.9,710.0 L1772.9,700.1 L1773.9,690.0 L1774.9,679.7 L1775.9,669.3 L1776.9,658.6 L1777.9,647.7 L1778.9,636.5 L1779.9,625.1 L1780.9,613.6 L1781.9,602.1 L1782.9,590.9 L1783.9,580.2 L1784.9,570.0 L1785.9,560.4 L1786.9,551.5 L1787.9,543.0 L1788.9,535.1 L1789.9,527.4 L1790.9,520.1 L1791.9,512.9 L1792.9,506.0 L1793.9,499.1 L1794.9,492.4 L1795.9,485.6 L1796.9,478.9 L1797.9,472.0 L1798.9,464.9 L1799.9,457.7 L1800.9,450.3 L1801.9,442.7 L1802.9,435.1 L1803.9,427.6 L1804.9,420.1 L1805.9,412.8 L1806.9,405.6 L1807.9,398.6 L1808.9,391.8 L1809.9,385.1 L1810.9,378.5 L1811.9,371.9 L1812.9,365.4 L1813.9,358.8 L1814.9,352.3 L1815.9,345.7 L1816.9,339.2 L1817.9,332.8 L1818.9,326.6 L1819.9,320.6 L1820.9,314.9 L1821.9,309.5 L1822.9,304.4 L1823.9,299.6 L1824.9,295.0 L1825.9,290.7 L1826.9,286.6 L1827.9,282.6 L1828.9,278.7 L1829.9,275.0 L1830.9,271.3 L1831.9,267.7 L1832.9,264.1 L1833.9,260.5 L1834.9,257.0 L1835.9,253.5 L1836.9,250.0 L1837.9,246.6 L1838.9,243.2 L1839.9,239.8 L1840.9,236.5 L1841.9,233.3 L1842.9,230.1 L1843.9,226.9 L1844.9,223.8 L1845.9,220.8 L1846.9,217.9 L1847.9,215.1 L1848.9,212.5 L1849.9,210.0 L1850.9,207.8 L1851.9,205.7 L1852.9,203.8 L1853.9,202.1 L1854.9,200.6 L1855.9,199.4 L1856.9,198.5 L1857.9,198.1 L1858.9,198.0 L1859.9,198.3 L1860.9,199.0 L1861.9,200.0 L1862.9,201.3 L1863.9,202.8 L1864.9,204.4 L1865.9,206.2 L1866.9,208.1 L1867.9,210.2 L1868.9,212.4 L1869.9,214.6 L1870.9,217.0 L1871.9,219.5 L1872.9,221.9 L1873.9,224.3 L1874.9,226.6 L1875.9,228.9 L1876.9,231.1 L1877.9,233.1 L1878.9,235.1 L1879.9,237.1 L1880.9,239.1 L1881.9,241.0 L1882.9,243.0 L1883.9,245.1 L1884.9,247.3 L1885.9,249.7 L1886.9,252.2 L1887.9,254.9 L1888.9,257.8 L1889.9,261.0 L1890.9,264.4 L1891.9,267.9 L1892.9,271.8 L1893.9,275.8 L1894.9,280.0 L1895.9,284.5 L1896.9,289.2 L1897.9,294.0 L1898.9,299.2 L1899.9,304.6 L1900.9,310.3 L1901.9,316.4 L1902.9,322.9 L1903.9,329.7 L1904.9,336.8 L1905.9,344.2 L1906.9,351.8 L1907.9,359.6 L1908.9,367.6 L1909.9,375.7 L1910.9,383.8 L1911.9,392.0 L1912.9,400.0 L1913.9,407.8 L1914.9,415.4 L1915.9,422.8 L1916.9,430.0 L1917.9,437.3 L1918.9,444.8 L1919.9,452.8 L1920.9,461.2 L1921.9,470.4 L1922.9,480.1 L1923.9,490.3 L1924.9,500.8 L1925.9,511.2 L1926.9,521.5 L1927.9,531.4 L1928.9,541.1 L1929.9,550.5 L1930.9,559.8 L1931.9,568.9 L1932.9,578.0 L1933.9,586.9 L1934.9,595.9 L1935.9,604.8 L1936.9,613.8 L1937.9,622.8 L1938.9,632.0 L1939.9,641.3 L1940.9,650.7 L1941.9,660.3 L1942.9,670.0 L1943.9,679.8 L1944.9,689.7 L1945.9,699.7 L1946.9,709.8 L1947.9,719.8 L1948.9,729.9 L1949.9,739.9 L1950.9,750.0 L1951.9,760.0 L1952.9,770.0 L1953.9,779.9 L1954.9,789.9 L1955.9,799.9 L1956.9,810.0 L1957.9,820.1 L1958.9,830.3 L1959.9,840.6 L1960.9,851.1 L1961.9,861.8 L1962.9,872.5 L1963.9,883.4 L1964.9,894.3 L1965.9,905.0 L1966.9,915.5 L1967.9,925.7 L1968.9,935.5 L1969.9,944.9 L1970.9,953.9 L1971.9,962.6 L1972.9,971.0 L1973.9,979.2 L1974.9,987.2 L1975.9,995.2 L1976.9,1003.2 L1977.9,1011.2 L1978.9,1019.3 L1979.9,1027.5 L1980.9,1035.8 L1981.9,1044.2 L1982.9,1052.8 L1983.9,1061.3 L1984.9,1069.9 L1985.9,1078.4 L1986.9,1086.9 L1987.9,1095.1 L1988.9,1103.2 L1989.9,1111.1 L1990.9,1118.7 L1991.9,1126.1 L1992.9,1133.3 L1993.9,1140.2 L1994.9,1147.0 L1995.9,1153.6 L1996.9,1160.1 L1997.9,1166.4 L1998.9,1172.5 L1999.9,1178.4 L2000.9,1184.1 L2001.9,1189.6 L2002.9,1194.9 L2003.9,1200.0 L2004.9,1204.9 L2005.9,1209.5 L2006.9,1214.0 L2007.9,1218.3 L2008.9,1222.4 L2009.9,1226.4 L2010.9,1230.2 L2011.9,1234.0 L2012.9,1237.6 L2013.9,1241.1 L2014.9,1244.5 L2015.9,1247.9 L2016.9,1251.1 L2017.9,1254.3 L2018.9,1257.4 L2019.9,1260.4 L2020.9,1263.4 L2021.9,1266.3 L2022.9,1269.1 L2023.9,1271.7 L2024.9,1274.3 L2025.9,1276.8 L2026.9,1279.1 L2027.9,1281.3 L2028.9,1283.4 L2029.9,1285.3 L2030.9,1287.1 L2031.9,1288.8 L2032.9,1290.3 L2033.9,1291.7 L2034.9,1293.0 L2035.9,1294.1 L2036.9,1295.1 L2037.9,1296.0 L2038.9,1296.7 L2039.9,1297.3 L2040.9,1297.7 L2041.9,1298.1 L2042.9,1298.3 L2043.9,1298.5 L2044.9,1298.6 L2045.9,1298.7 L2046.9,1298.7 L2047.9,1298.8 L2048.9,1298.8 L2049.9,1298.8 L2050.9,1298.8 L2051.9,1298.8 L2052.9,1298.8 L2053.9,1298.8 L2054.9,1298.8 L2055.9,1298.8 L2056.9,1298.8 L2057.9,1298.8 L2058.9,1298.8 L2059.9,1298.8 L2060.9,1298.8 L2061.9,1298.8 L2062.9,1298.8 L2063.9,1298.8 L2064.9,1298.8 L2065.9,1298.8 L2066.9,1298.8 L2067.9,1298.8 L2068.9,1298.8 L2069.9,1298.8 L2070.9,1298.8 L2071.9,1298.8 L2072.9,1298.8 L2073.9,1298.8 L2074.9,1298.8 L2075.9,1298.8 L2076.9,1298.8 L2077.9,1298.8 L2078.9,1298.8 L2079.9,1298.8 L2080.9,1298.8 L2081.9,1298.8 L2082.9,1298.8 L2083.9,1298.8 L2084.9,1298.8 L2085.9,1298.8 L2086.9,1298.8 L2087.9,1298.8 L2088.9,1298.8 L2089.9,1298.8 L2090.9,1298.8 L2091.9,1298.8 L2092.9,1298.8 L2093.9,1298.8 L2094.9,1298.8 L2095.9,1298.8 L2096.9,1298.8 L2097.9,1298.8 L2098.9,1298.8 L2099.9,1298.8 L2100.9,1298.8 L2101.9,1298.8 L2102.9,1298.8 L2103.9,1298.8 L2104.9,1298.8 L2105.9,1298.8 L2106.9,1298.8 L2107.9,1298.8 L2108.9,1298.8 L2109.9,1298.8 L2110.9,1298.8 L2111.9,1298.8 L2112.9,1298.8 L2113.9,1298.8 L2114.9,1298.8 L2115.9,1298.8 L2116.9,1298.8 L2117.9,1298.8 L2118.9,1298.8 L2119.9,1298.8 L2120.9,1298.8 L2121.9,1298.8 L2122.9,1298.8 L2123.9,1298.8 L2124.9,1298.8 L2125.9,1298.8 L2126.9,1298.8 L2127.9,1298.8 L2128.9,1298.8 L2129.9,1298.8 L2130.9,1298.8 L2131.9,1298.8 L2132.9,1298.8 L2133.9,1298.8 L2134.9,1298.8 L2135.9,1298.8 L2136.9,1298.8 L2137.9,1298.8 L2138.9,1298.8 L2139.9,1298.8 L2140.9,1298.8 L2141.9,1298.8 L2142.9,1298.8 L2143.9,1298.8 L2144.9,1298.8 L2145.9,1298.8 L2146.9,1298.8 L2147.9,1298.8 L2148.9,1298.8 L2149.9,1298.8 L2150.9,1298.8 L2151.9,1298.8 L2152.9,1298.8 L2153.9,1298.8 L2154.9,1298.8 L2155.9,1298.8 L2156.9,1298.8 L2157.9,1298.8 L2158.9,1298.8 L2159.9,1298.8 L2160.9,1298.8 L2161.9,1298.8 L2162.9,1298.8 L2163.9,1298.8 L2164.9,1298.8 L2165.9,1298.8 L2166.9,1298.8 L2167.9,1298.8 L2168.9,1298.8 L2169.9,1298.8 L2170.9,1298.8 L2171.9,1298.8 L2172.9,1298.8 L2173.9,1298.8 L2174.9,1298.8 L2175.9,1298.8 L2176.9,1298.8 L2177.9,1298.8 L2178.9,1298.8 L2179.9,1298.8 L2180.9,1298.8 L2181.9,1298.8 L2182.9,1298.8 L2183.9,1298.8 L2184.9,1298.8 L2185.9,1298.8 L2186.9,1298.8 L2187.9,1298.8 L2188.9,1298.8 L2189.9,1298.8 L2190.9,1298.8 L2191.9,1298.8 L2192.9,1298.8 L2193.9,1298.8 L2194.9,1298.8 L2195.9,1298.8 L2196.9,1298.8 L2197.9,1298.8 L2198.9,1298.8 L2199.9,1298.8 L2200.9,1298.8 L2201.9,1298.8 L2202.9,1298.8 L2203.9,1298.8 L2204.9,1298.8 L2205.9,1298.8 L2206.9,1298.8 L2207.9,1298.8 L2208.9,1298.8 L2209.9,1298.8 L2210.9,1298.8 L2211.9,1298.8 L2212.9,1298.8 L2213.9,1298.8 L2214.9,1298.8 L2215.9,1298.8 L2216.9,1298.8 L2217.9,1298.8 L2218.9,1298.8 L2219.9,1298.8 L2220.9,1298.8 L2221.9,1298.8 L2222.9,1298.8 L2223.9,1298.8 L2224.9,1298.8 L2225.9,1298.8 L2226.9,1298.8 L2227.9,1298.8 L2228.9,1298.8 L2229.9,1298.8 L2230.9,1298.8 L2231.9,1298.8 L2232.9,1298.8 L2233.9,1298.8 L2234.9,1298.8 L2235.9,1298.8 L2236.9,1298.8 L2237.9,1298.8 L2238.9,1298.8 L2239.9,1298.8 L2240.9,1298.8 L2241.9,1298.8 L2242.9,1298.8 L2243.9,1298.8 L2244.9,1298.8 L2245.9,1298.8 L2246.9,1298.8 L2247.9,1298.8 L2248.9,1298.8 L2249.9,1298.8 L2250.9,1298.8 L2251.9,1298.8 L2252.9,1298.8 L2253.9,1298.8 L2254.9,1298.8 L2255.9,1298.8 L2256.9,1298.8 L2257.9,1298.8 L2258.9,1298.8 L2259.9,1298.8 L2260.9,1298.8 L2261.9,1298.8 L2262.9,1298.8 L2263.9,1298.8 L2264.9,1298.8 L2265.9,1298.8 L2266.9,1298.8 L2267.9,1298.8 L2268.9,1298.8 L2269.9,1298.8 L2270.9,1298.8 L2271.9,1298.8 L2272.9,1298.8 L2273.9,1298.8 L2274.9,1298.8 L2275.9,1298.8 L2276.9,1298.8 L2277.9,1298.8 L2278.9,1298.8 L2279.9,1298.8 L2280.9,1298.8 L2281.9,1298.8 L2282.9,1298.8 L2283.9,1298.8 L2284.9,1298.8 L2285.9,1298.8 L2286.9,1298.8 L2287.9,1298.8 L2288.9,1298.8 L2289.9,1298.8 L2290.9,1298.8 L2291.9,1298.8 L2292.9,1298.8 L2293.9,1298.8 L2294.9,1298.8 L2295.9,1298.8 L2296.9,1298.8 L2297.9,1298.8 L2298.9,1298.8 L2299.9,1298.8 L2300.9,1298.8 L2301.9,1298.8 L2302.9,1298.8 L2303.9,1298.8 L2304.9,1298.8 L2305.9,1298.8 L2306.9,1298.8 L2307.9,1298.8 L2308.9,1298.8 L2309.9,1298.8 L2310.9,1298.8 L2311.9,1298.8 L2312.9,1298.8 L2313.9,1298.8 L2314.9,1298.8 L2315.9,1298.8 L2316.9,1298.8 L2317.9,1298.8 L2318.9,1298.8 L2319.9,1298.8 L2320.9,1298.8 L2321.9,1298.8 L2322.9,1298.8 L2323.9,1298.8 L2324.9,1298.8 L2325.9,1298.8 L2326.9,1298.8 L2327.9,1298.8 L2328.9,1298.8 L2329.9,1298.8 L2330.9,1298.8 L2331.9,1298.8 L2332.9,1298.8 L2333.9,1298.8 L2334.9,1298.8 L2335.9,1298.8 L2336.9,1298.8 L2337.9,1298.8 L2338.9,1298.8 L2339.9,1298.8 L2340.0,1298.8" stroke="#ff33cc" stroke-width="18.5"/>
<path d="M425.9,1298.8 L426.9,1298.8 L427.9,1298.8 L428.9,1298.8 L429.9,1298.8 L430.9,1298.8 L431.9,1298.8 L432.9,1298.8 L433.9,1298.8 L434.9,1298.8 L435.9,1298.8 L436.9,1298.8 L437.9,1298.8 L438.9,1298.8 L439.9,1298.8 L440.9,1298.8 L441.9,1298.8 L442.9,1298.8 L443.9,1298.8 L444.9,1298.8 L445.9,1298.8 L446.9,1298.8 L447.9,1298.8 L448.9,1298.8 L449.9,1298.8 L450.9,1298.8 L451.9,1298.8 L452.9,1298.8 L453.9,1298.8 L454.9,1298.8 L455.9,1298.8 L456.9,1298.8 L457.9,1298.8 L458.9,1298.8 L459.9,1298.8 L460.9,1298.8 L461.9,1298.8 L462.9,1298.8 L463.9,1298.8 L464.9,1298.8 L465.9,1298.8 L466.9,1298.8 L467.9,1298.8 L468.9,1298.8 L469.9,1298.8 L470.9,1298.8 L471.9,1298.8 L472.9,1298.8 L473.9,1298.8 L474.9,1298.8 L475.9,1298.8 L476.9,1298.8 L477.9,1298.8 L478.9,1298.8 L479.9,1298.8 L480.9,1298.8 L481.9,1298.8 L482.9,1298.8 L483.9,1298.8 L484.9,1298.8 L485.9,1298.8 L486.9,1298.8 L487.9,1298.8 L488.9,1298.8 L489.9,1298.8 L490.9,1298.8 L491.9,1298.8 L492.9,1298.8 L493.9,1298.8 L494.9,1298.8 L495.9,1298.8 L496.9,1298.8 L497.9,1298.8 L498.9,1298.8 L499.9,1298.8 L500.9,1298.8 L501.9,1298.8 L502.9,1298.8 L503.9,1298.8 L504.9,1298.8 L505.9,1298.8 L506.9,1298.8 L507.9,1298.8 L508.9,1298.8 L509.9,1298.8 L510.9,1298.8 L511.9,1298.8 L512.9,1298.8 L513.9,1298.8 L514.9,1298.8 L515.9,1298.8 L516.9,1298.8 L517.9,1298.8 L518.9,1298.8 L519.9,1298.8 L520.9,1298.8 L521.9,1298.8 L522.9,1298.8 L523.9,1298.8 L524.9,1298.8 L525.9,1298.8 L526.9,1298.8 L527.9,1298.8 L528.9,1298.8 L529.9,1298.8 L530.9,1298.8 L531.9,1298.8 L532.9,1298.8 L533.9,1298.8 L534.9,1298.8 L535.9,1298.8 L536.9,1298.8 L537.9,1298.8 L538.9,1298.8 L539.9,1298.8 L540.9,1298.8 L541.9,1298.8 L542.9,1298.8 L543.9,1298.8 L544.9,1298.8 L545.9,1298.8 L546.9,1298.8 L547.9,1298.8 L548.9,1298.8 L549.9,1298.8 L550.9,1298.8 L551.9,1298.8 L552.9,1298.8 L553.9,1298.8 L554.9,1298.8 L555.9,1298.8 L556.9,1298.8 L557.9,1298.8 L558.9,1298.8 L559.9,1298.8 L560.9,1298.8 L561.9,1298.8 L562.9,1298.8 L563.9,1298.8 L564.9,1298.8 L565.9,1298.8 L566.9,1298.8 L567.9,1298.8 L568.9,1298.8 L569.9,1298.8 L570.9,1298.8 L571.9,1298.8 L572.9,1298.8 L573.9,1298.8 L574.9,1298.8 L575.9,1298.8 L576.9,1298.8 L577.9,1298.8 L578.9,1298.8 L579.9,1298.8 L580.9,1298.8 L581.9,1298.8 L582.9,1298.8 L583.9,1298.8 L584.9,1298.8 L585.9,1298.8 L586.9,1298.8 L587.9,1298.8 L588.9,1298.8 L589.9,1298.8 L590.9,1298.8 L591.9,1298.8 L592.9,1298.8 L593.9,1298.8 L594.9,1298.8 L595.9,1298.8 L596.9,1298.8 L597.9,1298.8 L598.9,1298.8 L599.9,1298.8 L600.9,1298.8 L601.9,1298.8 L602.9,1298.8 L603.9,1298.8 L604.9,1298.8 L605.9,1298.8 L606.9,1298.8 L607.9,1298.8 L608.9,1298.8 L609.9,1298.8 L610.9,1298.8 L611.9,1298.8 L612.9,1298.8 L613.9,1298.8 L614.9,1298.8 L615.9,1298.8 L616.9,1298.8 L617.9,1298.8 L618.9,1298.8 L619.9,1298.8 L620.9,1298.8 L621.9,1298.8 L622.9,1298.8 L623.9,1298.8 L624.9,1298.8 L625.9,1298.8 L626.9,1298.8 L627.9,1298.8 L628.9,1298.8 L629.9,1298.8 L630.9,1298.8 L631.9,1298.8 L632.9,1298.8 L633.9,1298.8 L634.9,1298.8 L635.9,1298.8 L636.9,1298.8 L637.9,1298.8 L638.9,1298.8 L639.9,1298.8 L640.9,1298.8 L641.9,1298.8 L642.9,1298.8 L643.9,1298.8 L644.9,1298.8 L645.9,1298.8 L646.9,1298.8 L647.9,1298.8 L648.9,1298.8 L649.9,1298.8 L650.9,1298.8 L651.9,1298.8 L652.9,1298.8 L653.9,1298.8 L654.9,1298.8 L655.9,1298.8 L656.9,1298.8 L657.9,1298.8 L658.9,1298.8 L659.9,1298.8 L660.9,1298.8 L661.9,1298.8 L662.9,1298.8 L663.9,1298.8 L664.9,1298.8 L665.9,1298.8 L666.9,1298.8 L667.9,1298.8 L668.9,1298.8 L669.9,1298.8 L670.9,1298.8 L671.9,1298.8 L672.9,1298.8 L673.9,1298.8 L674.9,1298.8 L675.9,1298.8 L676.9,1298.8 L677.9,1298.8 L678.9,1298.8 L679.9,1298.8 L680.9,1298.8 L681.9,1298.8 L682.9,1298.8 L683.9,1298.8 L684.9,1298.8 L685.9,1298.8 L686.9,1298.8 L687.9,1298.8 L688.9,1298.8 L689.9,1298.8 L690.9,1298.8 L691.9,1298.8 L692.9,1298.8 L693.9,1298.8 L694.9,1298.8 L695.9,1298.8 L696.9,1298.8 L697.9,1298.8 L698.9,1298.7 L699.9,1298.7 L700.9,1298.7 L701.9,1298.6 L702.9,1298.6 L703.9,1298.5 L704.9,1298.5 L705.9,1298.4 L706.9,1298.4 L707.9,1298.3 L708.9,1298.3 L709.9,1298.2 L710.9,1298.2 L711.9,1298.1 L712.9,1298.1 L713.9,1298.0 L714.9,1297.9 L715.9,1297.9 L716.9,1297.8 L717.9,1297.8 L718.9,1297.7 L719.9,1297.6 L720.9,1297.5 L721.9,1297.4 L722.9,1297.4 L723.9,1297.3 L724.9,1297.2 L725.9,1297.1 L726.9,1296.9 L727.9,1296.8 L728.9,1296.7 L729.9,1296.5 L730.9,1296.4 L731.9,1296.2 L732.9,1296.0 L733.9,1295.8 L734.9,1295.5 L735.9,1295.3 L736.9,1295.0 L737.9,1294.7 L738.9,1294.4 L739.9,1294.1 L740.9,1293.8 L741.9,1293.5 L742.9,1293.2 L743.9,1292.9 L744.9,1292.6 L745.9,1292.3 L746.9,1292.0 L747.9,1291.7 L748.9,1291.4 L749.9,1291.1 L750.9,1290.7 L751.9,1290.4 L752.9,1290.1 L753.9,1289.8 L754.9,1289.4 L755.9,1289.1 L756.9,1288.7 L757.9,1288.4 L758.9,1288.0 L759.9,1287.7 L760.9,1287.3 L761.9,1286.9 L762.9,1286.5 L763.9,1286.1 L764.9,1285.7 L765.9,1285.3 L766.9,1284.9 L767.9,1284.5 L768.9,1284.0 L769.9,1283.6 L770.9,1283.2 L771.9,1282.7 L772.9,1282.3 L773.9,1281.9 L774.9,1281.5 L775.9,1281.1 L776.9,1280.8 L777.9,1280.4 L778.9,1280.1 L779.9,1279.7 L780.9,1279.4 L781.9,1279.1 L782.9,1278.7 L783.9,1278.4 L784.9,1278.1 L785.9,1277.8 L786.9,1277.5 L787.9,1277.2 L788.9,1276.9 L789.9,1276.6 L790.9,1276.3 L791.9,1276.0 L792.9,1275.8 L793.9,1275.5 L794.9,1275.2 L795.9,1274.9 L796.9,1274.6 L797.9,1274.4 L798.9,1274.1 L799.9,1273.8 L800.9,1273.6 L801.9,1273.3 L802.9,1273.0 L803.9,1272.8 L804.9,1272.5 L805.9,1272.3 L806.9,1272.0 L807.9,1271.8 L808.9,1271.5 L809.9,1271.3 L810.9,1271.0 L811.9,1270.8 L812.9,1270.5 L813.9,1270.3 L814.9,1270.0 L815.9,1269.8 L816.9,1269.6 L817.9,1269.3 L818.9,1269.1 L819.9,1268.9 L820.9,1268.6 L821.9,1268.4 L822.9,1268.2 L823.9,1267.9 L824.9,1267.7 L825.9,1267.5 L826.9,1267.3 L827.9,1267.1 L828.9,1266.8 L829.9,1266.6 L830.9,1266.4 L831.9,1266.2 L832.9,1265.9 L833.9,1265.7 L834.9,1265.5 L835.9,1265.3 L836.9,1265.0 L837.9,1264.8 L838.9,1264.6 L839.9,1264.3 L840.9,1264.1 L841.9,1263.8 L842.9,1263.6 L843.9,1263.3 L844.9,1263.1 L845.9,1262.8 L846.9,1262.5 L847.9,1262.3 L848.9,1262.0 L849.9,1261.7 L850.9,1261.4 L851.9,1261.1 L852.9,1260.9 L853.9,1260.6 L854.9,1260.3 L855.9,1260.0 L856.9,1259.7 L857.9,1259.5 L858.9,1259.2 L859.9,1258.9 L860.9,1258.7 L861.9,1258.4 L862.9,1258.2 L863.9,1257.9 L864.9,1257.7 L865.9,1257.4 L866.9,1257.2 L867.9,1256.9 L868.9,1256.7 L869.9,1256.5 L870.9,1256.2 L871.9,1256.0 L872.9,1255.8 L873.9,1255.6 L874.9,1255.3 L875.9,1255.1 L876.9,1254.9 L877.9,1254.7 L878.9,1254.4 L879.9,1254.2 L880.9,1254.0 L881.9,1253.8 L882.9,1253.5 L883.9,1253.3 L884.9,1253.0 L885.9,1252.8 L886.9,1252.5 L887.9,1252.3 L888.9,1252.0 L889.9,1251.8 L890.9,1251.5 L891.9,1251.3 L892.9,1251.0 L893.9,1250.7 L894.9,1250.4 L895.9,1250.2 L896.9,1249.9 L897.9,1249.6 L898.9,1249.4 L899.9,1249.1 L900.9,1248.8 L901.9,1248.5 L902.9,1248.2 L903.9,1248.0 L904.9,1247.7 L905.9,1247.4 L906.9,1247.1 L907.9,1246.8 L908.9,1246.5 L909.9,1246.2 L910.9,1245.9 L911.9,1245.7 L912.9,1245.4 L913.9,1245.1 L914.9,1244.7 L915.9,1244.4 L916.9,1244.1 L917.9,1243.8 L918.9,1243.5 L919.9,1243.2 L920.9,1243.0 L921.9,1242.7 L922.9,1242.4 L923.9,1242.1 L924.9,1241.8 L925.9,1241.6 L926.9,1241.3 L927.9,1241.1 L928.9,1240.8 L929.9,1240.6 L930.9,1240.3 L931.9,1240.1 L932.9,1239.9 L933.9,1239.6 L934.9,1239.4 L935.9,1239.2 L936.9,1239.0 L937.9,1238.8 L938.9,1238.5 L939.9,1238.3 L940.9,1238.1 L941.9,1237.9 L942.9,1237.7 L943.9,1237.5 L944.9,1237.3 L945.9,1237.1 L946.9,1236.9 L947.9,1236.7 L948.9,1236.5 L949.9,1236.4 L950.9,1236.2 L951.9,1236.0 L952.9,1235.8 L953.9,1235.7 L954.9,1235.5 L955.9,1235.3 L956.9,1235.2 L957.9,1235.0 L958.9,1234.8 L959.9,1234.7 L960.9,1234.5 L961.9,1234.4 L962.9,1234.2 L963.9,1234.1 L964.9,1234.0 L965.9,1233.9 L966.9,1233.8 L967.9,1233.7 L968.9,1233.6 L969.9,1233.5 L970.9,1233.4 L971.9,1233.3 L972.9,1233.2 L973.9,1233.1 L974.9,1233.1 L975.9,1233.0 L976.9,1232.9 L977.9,1232.8 L978.9,1232.8 L979.9,1232.7 L980.9,1232.6 L981.9,1232.6 L982.9,1232.5 L983.9,1232.5 L984.9,1232.4 L985.9,1232.4 L986.9,1232.4 L987.9,1232.3 L988.9,1232.3 L989.9,1232.3 L990.9,1232.3 L991.9,1232.3 L992.9,1232.4 L993.9,1232.4 L994.9,1232.4 L995.9,1232.4 L996.9,1232.5 L997.9,1232.5 L998.9,1232.6 L999.9,1232.6 L1000.9,1232.7 L1001.9,1232.7 L1002.9,1232.8 L1003.9,1232.9 L1004.9,1233.0 L1005.9,1233.0 L1006.9,1233.1 L1007.9,1233.2 L1008.9,1233.3 L1009.9,1233.4 L1010.9,1233.5 L1011.9,1233.6 L1012.9,1233.7 L1013.9,1233.8 L1014.9,1234.0 L1015.9,1234.2 L1016.9,1234.3 L1017.9,1234.5 L1018.9,1234.7 L1019.9,1234.9 L1020.9,1235.1 L1021.9,1235.4 L1022.9,1235.6 L1023.9,1235.9 L1024.9,1236.1 L1025.9,1236.4 L1026.9,1236.6 L1027.9,1236.9 L1028.9,1237.2 L1029.9,1237.5 L1030.9,1237.8 L1031.9,1238.1 L1032.9,1238.4 L1033.9,1238.8 L1034.9,1239.1 L1035.9,1239.4 L1036.9,1239.8 L1037.9,1240.1 L1038.9,1240.5 L1039.9,1240.8 L1040.9,1241.2 L1041.9,1241.6 L1042.9,1242.0 L1043.9,1242.4 L1044.9,1242.8 L1045.9,1243.2 L1046.9,1243.6 L1047.9,1244.0 L1048.9,1244.4 L1049.9,1244.9 L1050.9,1245.3 L1051.9,1245.8 L1052.9,1246.2 L1053.9,1246.6 L1054.9,1247.1 L1055.9,1247.5 L1056.9,1247.9 L1057.9,1248.3 L1058.9,1248.8 L1059.9,1249.2 L1060.9,1249.6 L1061.9,1250.1 L1062.9,1250.5 L1063.9,1250.9 L1064.9,1251.4 L1065.9,1251.8 L1066.9,1252.3 L1067.9,1252.7 L1068.9,1253.2 L1069.9,1253.7 L1070.9,1254.1 L1071.9,1254.6 L1072.9,1255.1 L1073.9,1255.6 L1074.9,1256.1 L1075.9,1256.6 L1076.9,1257.1 L1077.9,1257.6 L1078.9,1258.1 L1079.9,1258.7 L1080.9,1259.2 L1081.9,1259.7 L1082.9,1260.3 L1083.9,1260.8 L1084.9,1261.4 L1085.9,1262.0 L1086.9,1262.5 L1087.9,1263.1 L1088.9,1263.7 L1089.9,1264.3 L1090.9,1264.9 L1091.9,1265.5 L1092.9,1266.1 L1093.9,1266.7 L1094.9,1267.3 L1095.9,1267.9 L1096.9,1268.5 L1097.9,1269.1 L1098.9,1269.6 L1099.9,1270.2 L1100.9,1270.8 L1101.9,1271.3 L1102.9,1271.9 L1103.9,1272.4 L1104.9,1272.9 L1105.9,1273.5 L1106.9,1274.0 L1107.9,1274.5 L1108.9,1275.1 L1109.9,1275.6 L1110.9,1276.2 L1111.9,1276.7 L1112.9,1277.2 L1113.9,1277.8 L1114.9,1278.3 L1115.9,1278.9 L1116.9,1279.4 L1117.9,1280.0 L1118.9,1280.6 L1119.9,1281.2 L1120.9,1281.8 L1121.9,1282.4 L1122.9,1283.1 L1123.9,1283.7 L1124.9,1284.4 L1125.9,1285.0 L1126.9,1285.6 L1127.9,1286.2 L1128.9,1286.7 L1129.9,1287.3 L1130.9,1287.8 L1131.9,1288.3 L1132.9,1288.7 L1133.9,1289.2 L1134.9,1289.6 L1135.9,1290.1 L1136.9,1290.5 L1137.9,1290.9 L1138.9,1291.3 L1139.9,1291.7 L1140.9,1292.0 L1141.9,1292.4 L1142.9,1292.7 L1143.9,1293.1 L1144.9,1293.4 L1145.9,1293.8 L1146.9,1294.1 L1147.9,1294.4 L1148.9,1294.7 L1149.9,1295.0 L1150.9,1295.3 L1151.9,1295.6 L1152.9,1295.8 L1153.9,1296.1 L1154.9,1296.3 L1155.9,1296.5 L1156.9,1296.7 L1157.9,1296.9 L1158.9,1297.1 L1159.9,1297.2 L1160.9,1297.4 L1161.9,1297.5 L1162.9,1297.7 L1163.9,1297.8 L1164.9,1297.9 L1165.9,1298.0 L1166.9,1298.1 L1167.9,1298.2 L1168.9,1298.3 L1169.9,1298.3 L1170.9,1298.4 L1171.9,1298.5 L1172.9,1298.5 L1173.9,1298.6 L1174.9,1298.6 L1175.9,1298.7 L1176.9,1298.7 L1177.9,1298.7 L1178.9,1298.8 L1179.9,1298.8 L1180.9,1298.8 L1181.9,1298.8 L1182.9,1298.8 L1183.9,1298.8 L1184.9,1298.8 L1185.9,1298.8 L1186.9,1298.8 L1187.9,1298.8 L1188.9,1298.8 L1189.9,1298.8 L1190.9,1298.8 L1191.9,1298.8 L1192.9,1298.8 L1193.9,1298.8 L1194.9,1298.8 L1195.9,1298.8 L1196.9,1298.8 L1197.9,1298.8 L1198.9,1298.8 L1199.9,1298.8 L1200.9,1298.8 L1201.9,1298.8 L1202.9,1298.8 L1203.9,1298.8 L1204.9,1298.8 L1205.9,1298.8 L1206.9,1298.8 L1207.9,1298.8 L1208.9,1298.8 L1209.9,1298.8 L1210.9,1298.8 L1211.9,1298.8 L1212.9,1298.8 L1213.9,1298.8 L1214.9,1298.8 L1215.9,1298.8 L1216.9,1298.8 L1217.9,1298.8 L1218.9,1298.8 L1219.9,1298.8 L1220.9,1298.8 L1221.9,1298.8 L1222.9,1298.8 L1223.9,1298.8 L1224.9,1298.8 L1225.9,1298.8 L1226.9,1298.8 L1227.9,1298.8 L1228.9,1298.8 L1229.9,1298.8 L1230.9,1298.8 L1231.9,1298.8 L1232.9,1298.8 L1233.9,1298.8 L1234.9,1298.8 L1235.9,1298.8 L1236.9,1298.8 L1237.9,1298.8 L1238.9,1298.8 L1239.9,1298.8 L1240.9,1298.8 L1241.9,1298.8 L1242.9,1298.8 L1243.9,1298.8 L1244.9,1298.8 L1245.9,1298.8 L1246.9,1298.8 L1247.9,1298.8 L1248.9,1298.8 L1249.9,1298.8 L1250.9,1298.8 L1251.9,1298.8 L1252.9,1298.8 L1253.9,1298.8 L1254.9,1298.8 L1255.9,1298.8 L1256.9,1298.8 L1257.9,1298.8 L1258.9,1298.8 L1259.9,1298.8 L1260.9,1298.8 L1261.9,1298.8 L1262.9,1298.8 L1263.9,1298.8 L1264.9,1298.8 L1265.9,1298.8 L1266.9,1298.8 L1267.9,1298.8 L1268.9,1298.8 L1269.9,1298.8 L1270.9,1298.8 L1271.9,1298.8 L1272.9,1298.8 L1273.9,1298.8 L1274.9,1298.8 L1275.9,1298.8 L1276.9,1298.7 L1277.9,1298.7 L1278.9,1298.7 L1279.9,1298.6 L1280.9,1298.5 L1281.9,1298.5 L1282.9,1298.4 L1283.9,1298.3 L1284.9,1298.2 L1285.9,1298.1 L1286.9,1298.0 L1287.9,1297.9 L1288.9,1297.8 L1289.9,1297.6 L1290.9,1297.5 L1291.9,1297.4 L1292.9,1297.2 L1293.9,1297.1 L1294.9,1297.0 L1295.9,1296.8 L1296.9,1296.7 L1297.9,1296.5 L1298.9,1296.4 L1299.9,1296.2 L1300.9,1296.0 L1301.9,1295.9 L1302.9,1295.7 L1303.9,1295.6 L1304.9,1295.4 L1305.9,1295.3 L1306.9,1295.1 L1307.9,1294.9 L1308.9,1294.8 L1309.9,1294.6 L1310.9,1294.4 L1311.9,1294.3 L1312.9,1294.1 L1313.9,1293.9 L1314.9,1293.7 L1315.9,1293.6 L1316.9,1293.4 L1317.9,1293.2 L1318.9,1293.0 L1319.9,1292.9 L1320.9,1292.7 L1321.9,1292.6 L1322.9,1292.4 L1323.9,1292.3 L1324.9,1292.2 L1325.9,1292.0 L1326.9,1291.9 L1327.9,1291.8 L1328.9,1291.6 L1329.9,1291.5 L1330.9,1291.4 L1331.9,1291.3 L1332.9,1291.2 L1333.9,1291.0 L1334.9,1290.9 L1335.9,1290.8 L1336.9,1290.7 L1337.9,1290.6 L1338.9,1290.5 L1339.9,1290.4 L1340.9,1290.3 L1341.9,1290.3 L1342.9,1290.2 L1343.9,1290.1 L1344.9,1290.1 L1345.9,1290.0 L1346.9,1290.0 L1347.9,1289.9 L1348.9,1289.9 L1349.9,1289.8 L1350.9,1289.8 L1351.9,1289.8 L1352.9,1289.7 L1353.9,1289.7 L1354.9,1289.7 L1355.9,1289.7 L1356.9,1289.6 L1357.9,1289.6 L1358.9,1289.6 L1359.9,1289.6 L1360.9,1289.5 L1361.9,1289.5 L1362.9,1289.5 L1363.9,1289.5 L1364.9,1289.5 L1365.9,1289.5 L1366.9,1289.6 L1367.9,1289.6 L1368.9,1289.6 L1369.9,1289.7 L1370.9,1289.7 L1371.9,1289.8 L1372.9,1289.9 L1373.9,1290.0 L1374.9,1290.0 L1375.9,1290.1 L1376.9,1290.2 L1377.9,1290.3 L1378.9,1290.4 L1379.9,1290.5 L1380.9,1290.7 L1381.9,1290.8 L1382.9,1290.9 L1383.9,1291.0 L1384.9,1291.1 L1385.9,1291.3 L1386.9,1291.4 L1387.9,1291.5 L1388.9,1291.7 L1389.9,1291.9 L1390.9,1292.0 L1391.9,1292.2 L1392.9,1292.4 L1393.9,1292.6 L1394.9,1292.8 L1395.9,1293.0 L1396.9,1293.2 L1397.9,1293.4 L1398.9,1293.6 L1399.9,1293.8 L1400.9,1293.9 L1401.9,1294.1 L1402.9,1294.3 L1403.9,1294.5 L1404.9,1294.6 L1405.9,1294.8 L1406.9,1295.0 L1407.9,1295.2 L1408.9,1295.3 L1409.9,1295.5 L1410.9,1295.7 L1411.9,1295.8 L1412.9,1296.0 L1413.9,1296.1 L1414.9,1296.3 L1415.9,1296.4 L1416.9,1296.6 L1417.9,1296.7 L1418.9,1296.8 L1419.9,1297.0 L1420.9,1297.1 L1421.9,1297.2 L1422.9,1297.4 L1423.9,1297.5 L1424.9,1297.6 L1425.9,1297.7 L1426.9,1297.8 L1427.9,1297.9 L1428.9,1298.0 L1429.9,1298.1 L1430.9,1298.2 L1431.9,1298.3 L1432.9,1298.4 L1433.9,1298.4 L1434.9,1298.5 L1435.9,1298.5 L1436.9,1298.6 L1437.9,1298.6 L1438.9,1298.7 L1439.9,1298.7 L1440.9,1298.7 L1441.9,1298.8 L1442.9,1298.8 L1443.9,1298.8 L1444.9,1298.8 L1445.9,1298.8 L1446.9,1298.8 L1447.9,1298.8 L1448.9,1298.8 L1449.9,1298.8 L1450.9,1298.8 L1451.9,1298.8 L1452.9,1298.8 L1453.9,1298.8 L1454.9,1298.8 L1455.9,1298.8 L1456.9,1298.8 L1457.9,1298.8 L1458.9,1298.8 L1459.9,1298.8 L1460.9,1298.8 L1461.9,1298.8 L1462.9,1298.8 L1463.9,1298.8 L1464.9,1298.8 L1465.9,1298.8 L1466.9,1298.8 L1467.9,1298.8 L1468.9,1298.8 L1469.9,1298.8 L1470.9,1298.8 L1471.9,1298.8 L1472.9,1298.8 L1473.9,1298.8 L1474.9,1298.8 L1475.9,1298.8 L1476.9,1298.8 L1477.9,1298.8 L1478.9,1298.8 L1479.9,1298.8 L1480.9,1298.8 L1481.9,1298.8 L1482.9,1298.8 L1483.9,1298.8 L1484.9,1298.8 L1485.9,1298.8 L1486.9,1298.8 L1487.9,1298.8 L1488.9,1298.8 L1489.9,1298.8 L1490.9,1298.8 L1491.9,1298.8 L1492.9,1298.8 L1493.9,1298.8 L1494.9,1298.8 L1495.9,1298.8 L1496.9,1298.8 L1497.9,1298.8 L1498.9,1298.8 L1499.9,1298.8 L1500.9,1298.8 L1501.9,1298.8 L1502.9,1298.8 L1503.9,1298.8 L1504.9,1298.8 L1505.9,1298.8 L1506.9,1298.8 L1507.9,1298.8 L1508.9,1298.8 L1509.9,1298.8 L1510.9,1298.8 L1511.9,1298.8 L1512.9,1298.8 L1513.9,1298.8 L1514.9,1298.8 L1515.9,1298.8 L1516.9,1298.8 L1517.9,1298.8 L1518.9,1298.8 L1519.9,1298.8 L1520.9,1298.8 L1521.9,1298.8 L1522.9,1298.8 L1523.9,1298.8 L1524.9,1298.8 L1525.9,1298.8 L1526.9,1298.8 L1527.9,1298.8 L1528.9,1298.8 L1529.9,1298.8 L1530.9,1298.8 L1531.9,1298.8 L1532.9,1298.8 L1533.9,1298.8 L1534.9,1298.8 L1535.9,1298.8 L1536.9,1298.8 L1537.9,1298.8 L1538.9,1298.8 L1539.9,1298.8 L1540.9,1298.8 L1541.9,1298.8 L1542.9,1298.8 L1543.9,1298.8 L1544.9,1298.8 L1545.9,1298.8 L1546.9,1298.8 L1547.9,1298.8 L1548.9,1298.8 L1549.9,1298.8 L1550.9,1298.8 L1551.9,1298.8 L1552.9,1298.8 L1553.9,1298.8 L1554.9,1298.8 L1555.9,1298.8 L1556.9,1298.8 L1557.9,1298.8 L1558.9,1298.8 L1559.9,1298.8 L1560.9,1298.8 L1561.9,1298.8 L1562.9,1298.8 L1563.9,1298.8 L1564.9,1298.8 L1565.9,1298.8 L1566.9,1298.8 L1567.9,1298.8 L1568.9,1298.8 L1569.9,1298.8 L1570.9,1298.8 L1571.9,1298.8 L1572.9,1298.8 L1573.9,1298.8 L1574.9,1298.8 L1575.9,1298.8 L1576.9,1298.8 L1577.9,1298.7 L1578.9,1298.7 L1579.9,1298.6 L1580.9,1298.6 L1581.9,1298.5 L1582.9,1298.5 L1583.9,1298.4 L1584.9,1298.3 L1585.9,1298.2 L1586.9,1298.1 L1587.9,1298.0 L1588.9,1297.8 L1589.9,1297.7 L1590.9,1297.5 L1591.9,1297.3 L1592.9,1297.0 L1593.9,1296.7 L1594.9,1296.3 L1595.9,1295.9 L1596.9,1295.5 L1597.9,1295.0 L1598.9,1294.5 L1599.9,1294.0 L1600.9,1293.5 L1601.9,1293.0 L1602.9,1292.5 L1603.9,1291.9 L1604.9,1291.3 L1605.9,1290.7 L1606.9,1290.0 L1607.9,1289.3 L1608.9,1288.4 L1609.9,1287.5 L1610.9,1286.5 L1611.9,1285.3 L1612.9,1284.0 L1613.9,1282.4 L1614.9,1280.7 L1615.9,1278.7 L1616.9,1276.6 L1617.9,1274.4 L1618.9,1272.0 L1619.9,1269.5 L1620.9,1266.9 L1621.9,1264.4 L1622.9,1261.8 L1623.9,1259.2 L1624.9,1256.6 L1625.9,1254.0 L1626.9,1251.3 L1627.9,1248.6 L1628.9,1245.9 L1629.9,1243.1 L1630.9,1240.3 L1631.9,1237.4 L1632.9,1234.5 L1633.9,1231.5 L1634.9,1228.5 L1635.9,1225.4 L1636.9,1222.3 L1637.9,1219.1 L1638.9,1215.9 L1639.9,1212.6 L1640.9,1209.2 L1641.9,1205.7 L1642.9,1202.1 L1643.9,1198.5 L1644.9,1194.7 L1645.9,1190.8 L1646.9,1186.9 L1647.9,1182.9 L1648.9,1178.8 L1649.9,1174.7 L1650.9,1170.6 L1651.9,1166.4 L1652.9,1162.3 L1653.9,1158.1 L1654.9,1153.9 L1655.9,1149.8 L1656.9,1145.6 L1657.9,1141.4 L1658.9,1137.1 L1659.9,1132.9 L1660.9,1128.6 L1661.9,1124.3 L1662.9,1120.0 L1663.9,1115.7 L1664.9,1111.4 L1665.9,1107.1 L1666.9,1102.7 L1667.9,1098.4 L1668.9,1094.1 L1669.9,1089.8 L1670.9,1085.4 L1671.9,1081.1 L1672.9,1076.8 L1673.9,1072.5 L1674.9,1068.2 L1675.9,1063.9 L1676.9,1059.7 L1677.9,1055.4 L1678.9,1051.1 L1679.9,1046.8 L1680.9,1042.5 L1681.9,1038.2 L1682.9,1033.9 L1683.9,1029.6 L1684.9,1025.3 L1685.9,1021.0 L1686.9,1016.7 L1687.9,1012.4 L1688.9,1008.0 L1689.9,1003.7 L1690.9,999.3 L1691.9,995.0 L1692.9,990.7 L1693.9,986.4 L1694.9,982.1 L1695.9,977.7 L1696.9,973.2 L1697.9,968.5 L1698.9,963.7 L1699.9,958.6 L1700.9,953.3 L1701.9,947.8 L1702.9,942.1 L1703.9,936.5 L1704.9,931.1 L1705.9,925.8 L1706.9,920.9 L1707.9,916.2 L1708.9,911.9 L1709.9,907.7 L1710.9,903.7 L1711.9,899.8 L1712.9,896.0 L1713.9,892.2 L1714.9,888.4 L1715.9,884.5 L1716.9,880.6 L1717.9,876.6 L1718.9,872.6 L1719.9,868.5 L1720.9,864.3 L1721.9,860.2 L1722.9,856.0 L1723.9,851.9 L1724.9,847.8 L1725.9,843.8 L1726.9,839.9 L1727.9,836.2 L1728.9,832.5 L1729.9,828.9 L1730.9,825.5 L1731.9,822.2 L1732.9,819.0 L1733.9,815.8 L1734.9,812.8 L1735.9,809.8 L1736.9,806.9 L1737.9,804.0 L1738.9,801.2 L1739.9,798.4 L1740.9,795.6 L1741.9,792.9 L1742.9,790.2 L1743.9,787.5 L1744.9,784.8 L1745.9,782.1 L1746.9,779.4 L1747.9,776.6 L1748.9,773.8 L1749.9,771.0 L1750.9,768.1 L1751.9,765.2 L1752.9,762.3 L1753.9,759.4 L1754.9,756.6 L1755.9,754.0 L1756.9,751.6 L1757.9,749.4 L1758.9,747.5 L1759.9,745.8 L1760.9,744.4 L1761.9,743.1 L1762.9,742.0 L1763.9,741.1 L1764.9,740.2 L1765.9,739.3 L1766.9,738.5 L1767.9,737.8 L1768.9,737.1 L1769.9,736.4 L1770.9,735.8 L1771.9,735.2 L1772.9,734.6 L1773.9,734.2 L1774.9,733.7 L1775.9,733.3 L1776.9,733.0 L1777.9,732.8 L1778.9,732.6 L1779.9,732.4 L1780.9,732.3 L1781.9,732.3 L1782.9,732.4 L1783.9,732.5 L1784.9,732.7 L1785.9,733.0 L1786.9,733.3 L1787.9,733.7 L1788.9,734.2 L1789.9,734.7 L1790.9,735.3 L1791.9,735.9 L1792.9,736.6 L1793.9,737.3 L1794.9,738.1 L1795.9,738.9 L1796.9,739.8 L1797.9,740.7 L1798.9,741.6 L1799.9,742.7 L1800.9,743.9 L1801.9,745.2 L1802.9,746.7 L1803.9,748.5 L1804.9,750.5 L1805.9,752.7 L1806.9,755.1 L1807.9,757.7 L1808.9,760.4 L1809.9,763.3 L1810.9,766.2 L1811.9,769.2 L1812.9,772.3 L1813.9,775.4 L1814.9,778.6 L1815.9,781.9 L1816.9,785.3 L1817.9,788.8 L1818.9,792.5 L1819.9,796.2 L1820.9,800.0 L1821.9,803.8 L1822.9,807.7 L1823.9,811.6 L1824.9,815.5 L1825.9,819.3 L1826.9,823.2 L1827.9,827.0 L1828.9,830.8 L1829.9,834.5 L1830.9,838.3 L1831.9,842.0 L1832.9,845.7 L1833.9,849.5 L1834.9,853.2 L1835.9,857.0 L1836.9,860.8 L1837.9,864.6 L1838.9,868.4 L1839.9,872.3 L1840.9,876.2 L1841.9,880.2 L1842.9,884.2 L1843.9,888.3 L1844.9,892.3 L1845.9,896.5 L1846.9,900.6 L1847.9,904.8 L1848.9,909.1 L1849.9,913.4 L1850.9,917.8 L1851.9,922.3 L1852.9,926.8 L1853.9,931.5 L1854.9,936.3 L1855.9,941.1 L1856.9,945.9 L1857.9,950.5 L1858.9,955.1 L1859.9,959.4 L1860.9,963.6 L1861.9,967.6 L1862.9,971.5 L1863.9,975.2 L1864.9,979.0 L1865.9,982.8 L1866.9,986.6 L1867.9,990.6 L1868.9,994.8 L1869.9,999.1 L1870.9,1003.7 L1871.9,1008.5 L1872.9,1013.4 L1873.9,1018.6 L1874.9,1023.9 L1875.9,1029.3 L1876.9,1034.8 L1877.9,1040.3 L1878.9,1045.9 L1879.9,1051.5 L1880.9,1057.1 L1881.9,1062.6 L1882.9,1068.0 L1883.9,1073.4 L1884.9,1078.7 L1885.9,1083.9 L1886.9,1089.1 L1887.9,1094.2 L1888.9,1099.3 L1889.9,1104.4 L1890.9,1109.5 L1891.9,1114.5 L1892.9,1119.5 L1893.9,1124.5 L1894.9,1129.4 L1895.9,1134.3 L1896.9,1139.2 L1897.9,1144.1 L1898.9,1148.9 L1899.9,1153.7 L1900.9,1158.5 L1901.9,1163.2 L1902.9,1168.0 L1903.9,1172.6 L1904.9,1177.3 L1905.9,1181.9 L1906.9,1186.5 L1907.9,1190.9 L1908.9,1195.3 L1909.9,1199.6 L1910.9,1203.8 L1911.9,1208.0 L1912.9,1212.0 L1913.9,1216.0 L1914.9,1220.0 L1915.9,1223.9 L1916.9,1227.7 L1917.9,1231.4 L1918.9,1235.1 L1919.9,1238.7 L1920.9,1242.2 L1921.9,1245.6 L1922.9,1249.0 L1923.9,1252.2 L1924.9,1255.3 L1925.9,1258.3 L1926.9,1261.2 L1927.9,1264.1 L1928.9,1266.9 L1929.9,1269.6 L1930.9,1272.2 L1931.9,1274.7 L1932.9,1277.0 L1933.9,1279.2 L1934.9,1281.2 L1935.9,1283.0 L1936.9,1284.7 L1937.9,1286.1 L1938.9,1287.4 L1939.9,1288.6 L1940.9,1289.7 L1941.9,1290.6 L1942.9,1291.5 L1943.9,1292.3 L1944.9,1293.0 L1945.9,1293.7 L1946.9,1294.3 L1947.9,1294.9 L1948.9,1295.4 L1949.9,1295.8 L1950.9,1296.3 L1951.9,1296.7 L1952.9,1297.1 L1953.9,1297.5 L1954.9,1297.8 L1955.9,1298.1 L1956.9,1298.3 L1957.9,1298.5 L1958.9,1298.6 L1959.9,1298.7 L1960.9,1298.7 L1961.9,1298.8 L1962.9,1298.8 L1963.9,1298.8 L1964.9,1298.8 L1965.9,1298.8 L1966.9,1298.8 L1967.9,1298.8 L1968.9,1298.8 L1969.9,1298.8 L1970.9,1298.8 L1971.9,1298.8 L1972.9,1298.8 L1973.9,1298.8 L1974.9,1298.8 L1975.9,1298.8 L1976.9,1298.8 L1977.9,1298.8 L1978.9,1298.8 L1979.9,1298.8 L1980.9,1298.8 L1981.9,1298.8 L1982.9,1298.8 L1983.9,1298.8 L1984.9,1298.8 L1985.9,1298.8 L1986.9,1298.8 L1987.9,1298.8 L1988.9,1298.8 L1989.9,1298.8 L1990.9,1298.8 L1991.9,1298.8 L1992.9,1298.8 L1993.9,1298.8 L1994.9,1298.8 L1995.9,1298.8 L1996.9,1298.8 L1997.9,1298.8 L1998.9,1298.8 L1999.9,1298.8 L2000.9,1298.8 L2001.9,1298.8 L2002.9,1298.8 L2003.9,1298.8 L2004.9,1298.8 L2005.9,1298.8 L2006.9,1298.8 L2007.9,1298.8 L2008.9,1298.8 L2009.9,1298.8 L2010.9,1298.8 L2011.9,1298.8 L2012.9,1298.8 L2013.9,1298.8 L2014.9,1298.8 L2015.9,1298.8 L2016.9,1298.8 L2017.9,1298.8 L2018.9,1298.8 L2019.9,1298.8 L2020.9,1298.8 L2021.9,1298.8 L2022.9,1298.8 L2023.9,1298.8 L2024.9,1298.8 L2025.9,1298.8 L2026.9,1298.8 L2027.9,1298.8 L2028.9,1298.8 L2029.9,1298.8 L2030.9,1298.8 L2031.9,1298.8 L2032.9,1298.8 L2033.9,1298.8 L2034.9,1298.8 L2035.9,1298.8 L2036.9,1298.8 L2037.9,1298.8 L2038.9,1298.8 L2039.9,1298.8 L2040.9,1298.8 L2041.9,1298.8 L2042.9,1298.8 L2043.9,1298.8 L2044.9,1298.8 L2045.9,1298.8 L2046.9,1298.8 L2047.9,1298.8 L2048.9,1298.8 L2049.9,1298.8 L2050.9,1298.8 L2051.9,1298.8 L2052.9,1298.8 L2053.9,1298.8 L2054.9,1298.8 L2055.9,1298.8 L2056.9,1298.8 L2057.9,1298.8 L2058.9,1298.8 L2059.9,1298.8 L2060.9,1298.8 L2061.9,1298.8 L2062.9,1298.8 L2063.9,1298.8 L2064.9,1298.8 L2065.9,1298.8 L2066.9,1298.8 L2067.9,1298.8 L2068.9,1298.8 L2069.9,1298.8 L2070.9,1298.8 L2071.9,1298.8 L2072.9,1298.8 L2073.9,1298.8 L2074.9,1298.8 L2075.9,1298.8 L2076.9,1298.8 L2077.9,1298.8 L2078.9,1298.8 L2079.9,1298.8 L2080.9,1298.8 L2081.9,1298.8 L2082.9,1298.8 L2083.9,1298.8 L2084.9,1298.8 L2085.9,1298.8 L2086.9,1298.8 L2087.9,1298.8 L2088.9,1298.8 L2089.9,1298.8 L2090.9,1298.8 L2091.9,1298.8 L2092.9,1298.8 L2093.9,1298.8 L2094.9,1298.8 L2095.9,1298.8 L2096.9,1298.8 L2097.9,1298.8 L2098.9,1298.8 L2099.9,1298.8 L2100.9,1298.8 L2101.9,1298.8 L2102.9,1298.8 L2103.9,1298.8 L2104.9,1298.8 L2105.9,1298.8 L2106.9,1298.8 L2107.9,1298.8 L2108.9,1298.8 L2109.9,1298.8 L2110.9,1298.8 L2111.9,1298.8 L2112.9,1298.8 L2113.9,1298.8 L2114.9,1298.8 L2115.9,1298.8 L2116.9,1298.8 L2117.9,1298.8 L2118.9,1298.8 L2119.9,1298.8 L2120.9,1298.8 L2121.9,1298.8 L2122.9,1298.8 L2123.9,1298.8 L2124.9,1298.8 L2125.9,1298.8 L2126.9,1298.8 L2127.9,1298.8 L2128.9,1298.8 L2129.9,1298.8 L2130.9,1298.8 L2131.9,1298.8 L2132.9,1298.8 L2133.9,1298.8 L2134.9,1298.8 L2135.9,1298.8 L2136.9,1298.8 L2137.9,1298.8 L2138.9,1298.8 L2139.9,1298.8 L2140.9,1298.8 L2141.9,1298.8 L2142.9,1298.8 L2143.9,1298.8 L2144.9,1298.8 L2145.9,1298.8 L2146.9,1298.8 L2147.9,1298.8 L2148.9,1298.8 L2149.9,1298.8 L2150.9,1298.8 L2151.9,1298.8 L2152.9,1298.8 L2153.9,1298.8 L2154.9,1298.8 L2155.9,1298.8 L2156.9,1298.8 L2157.9,1298.8 L2158.9,1298.8 L2159.9,1298.8 L2160.9,1298.8 L2161.9,1298.8 L2162.9,1298.8 L2163.9,1298.8 L2164.9,1298.8 L2165.9,1298.8 L2166.9,1298.8 L2167.9,1298.8 L2168.9,1298.8 L2169.9,1298.8 L2170.9,1298.8 L2171.9,1298.8 L2172.9,1298.8 L2173.9,1298.8 L2174.9,1298.8 L2175.9,1298.8 L2176.9,1298.8 L2177.9,1298.8 L2178.9,1298.8 L2179.9,1298.8 L2180.9,1298.8 L2181.9,1298.8 L2182.9,1298.8 L2183.9,1298.8 L2184.9,1298.8 L2185.9,1298.8 L2186.9,1298.8 L2187.9,1298.8 L2188.9,1298.8 L2189.9,1298.8 L2190.9,1298.8 L2191.9,1298.8 L2192.9,1298.8 L2193.9,1298.8 L2194.9,1298.8 L2195.9,1298.8 L2196.9,1298.8 L2197.9,1298.8 L2198.9,1298.8 L2199.9,1298.8 L2200.9,1298.8 L2201.9,1298.8 L2202.9,1298.8 L2203.9,1298.8 L2204.9,1298.8 L2205.9,1298.8 L2206.9,1298.8 L2207.9,1298.8 L2208.9,1298.8 L2209.9,1298.8 L2210.9,1298.8 L2211.9,1298.8 L2212.9,1298.8 L2213.9,1298.8 L2214.9,1298.8 L2215.9,1298.8 L2216.9,1298.8 L2217.9,1298.8 L2218.9,1298.8 L2219.9,1298.8 L2220.9,1298.8 L2221.9,1298.8 L2222.9,1298.8 L2223.9,1298.8 L2224.9,1298.8 L2225.9,1298.8 L2226.9,1298.8 L2227.9,1298.8 L2228.9,1298.8 L2229.9,1298.8 L2230.9,1298.8 L2231.9,1298.8 L2232.9,1298.8 L2233.9,1298.8 L2234.9,1298.8 L2235.9,1298.8 L2236.9,1298.8 L2237.9,1298.8 L2238.9,1298.8 L2239.9,1298.8 L2240.9,1298.8 L2241.9,1298.8 L2242.9,1298.8 L2243.9,1298.8 L2244.9,1298.8 L2245.9,1298.8 L2246.9,1298.8 L2247.9,1298.8 L2248.9,1298.8 L2249.9,1298.8 L2250.9,1298.8 L2251.9,1298.8 L2252.9,1298.8 L2253.9,1298.8 L2254.9,1298.8 L2255.9,1298.8 L2256.9,1298.8 L2257.9,1298.8 L2258.9,1298.8 L2259.9,1298.8 L2260.9,1298.8 L2261.9,1298.8 L2262.9,1298.8 L2263.9,1298.8 L2264.9,1298.8 L2265.9,1298.8 L2266.9,1298.8 L2267.9,1298.8 L2268.9,1298.8 L2269.9,1298.8 L2270.9,1298.8 L2271.9,1298.8 L2272.9,1298.8 L2273.9,1298.8 L2274.9,1298.8 L2275.9,1298.8 L2276.9,1298.8 L2277.9,1298.8 L2278.9,1298.8 L2279.9,1298.8 L2280.9,1298.8 L2281.9,1298.8 L2282.9,1298.8 L2283.9,1298.8 L2284.9,1298.8 L2285.9,1298.8 L2286.9,1298.8 L2287.9,1298.8 L2288.9,1298.8 L2289.9,1298.8 L2290.9,1298.8 L2291.9,1298.8 L2292.9,1298.8 L2293.9,1298.8 L2294.9,1298.8 L2295.9,1298.8 L2296.9,1298.8 L2297.9,1298.8 L2298.9,1298.8 L2299.9,1298.8 L2300.9,1298.8 L2301.9,1298.8 L2302.9,1298.8 L2303.9,1298.8 L2304.9,1298.8 L2305.9,1298.8 L2306.9,1298.8 L2307.9,1298.8 L2308.9,1298.8 L2309.9,1298.8 L2310.9,1298.8 L2311.9,1298.8 L2312.9,1298.8 L2313.9,1298.8 L2314.9,1298.8 L2315.9,1298.8 L2316.9,1298.8 L2317.9,1298.8 L2318.9,1298.8 L2319.9,1298.8 L2320.9,1298.8 L2321.9,1298.8 L2322.9,1298.8 L2323.9,1298.8 L2324.9,1298.8 L2325.9,1298.8 L2326.9,1298.8 L2327.9,1298.8 L2328.9,1298.8 L2329.9,1298.8 L2330.9,1298.8 L2331.9,1298.8 L2332.9,1298.8 L2333.9,1298.8 L2334.9,1298.8 L2335.9,1298.8 L2336.9,1298.8 L2337.9,1298.8 L2338.9,1298.8 L2339.9,1298.8 L2340.0,1298.8" stroke="#00cc99" stroke-width="13.5"/>
<path d="M425.9,1298.8 L426.9,1298.8 L427.9,1298.8 L428.9,1298.8 L429.9,1298.8 L430.9,1298.8 L431.9,1298.8 L432.9,1298.8 L433.9,1298.8 L434.9,1298.8 L435.9,1298.8 L436.9,1298.8 L437.9,1298.8 L438.9,1298.8 L439.9,1298.8 L440.9,1298.8 L441.9,1298.8 L442.9,1298.8 L443.9,1298.8 L444.9,1298.8 L445.9,1298.8 L446.9,1298.8 L447.9,1298.8 L448.9,1298.8 L449.9,1298.8 L450.9,1298.8 L451.9,1298.8 L452.9,1298.8 L453.9,1298.8 L454.9,1298.8 L455.9,1298.8 L456.9,1298.8 L457.9,1298.8 L458.9,1298.8 L459.9,1298.8 L460.9,1298.8 L461.9,1298.8 L462.9,1298.8 L463.9,1298.8 L464.9,1298.8 L465.9,1298.8 L466.9,1298.8 L467.9,1298.8 L468.9,1298.8 L469.9,1298.8 L470.9,1298.8 L471.9,1298.8 L472.9,1298.8 L473.9,1298.8 L474.9,1298.8 L475.9,1298.8 L476.9,1298.8 L477.9,1298.8 L478.9,1298.8 L479.9,1298.8 L480.9,1298.8 L481.9,1298.8 L482.9,1298.8 L483.9,1298.8 L484.9,1298.8 L485.9,1298.8 L486.9,1298.8 L487.9,1298.8 L488.9,1298.8 L489.9,1298.8 L490.9,1298.8 L491.9,1298.8 L492.9,1298.8 L493.9,1298.8 L494.9,1298.8 L495.9,1298.8 L496.9,1298.8 L497.9,1298.8 L498.9,1298.8 L499.9,1298.8 L500.9,1298.8 L501.9,1298.8 L502.9,1298.8 L503.9,1298.8 L504.9,1298.8 L505.9,1298.8 L506.9,1298.8 L507.9,1298.8 L508.9,1298.8 L509.9,1298.8 L510.9,1298.8 L511.9,1298.8 L512.9,1298.8 L513.9,1298.8 L514.9,1298.8 L515.9,1298.8 L516.9,1298.8 L517.9,1298.8 L518.9,1298.8 L519.9,1298.8 L520.9,1298.8 L521.9,1298.8 L522.9,1298.8 L523.9,1298.8 L524.9,1298.8 L525.9,1298.8 L526.9,1298.8 L527.9,1298.8 L528.9,1298.8 L529.9,1298.8 L530.9,1298.8 L531.9,1298.8 L532.9,1298.8 L533.9,1298.8 L534.9,1298.8 L535.9,1298.8 L536.9,1298.8 L537.9,1298.8 L538.9,1298.8 L539.9,1298.8 L540.9,1298.8 L541.9,1298.8 L542.9,1298.8 L543.9,1298.8 L544.9,1298.8 L545.9,1298.8 L546.9,1298.8 L547.9,1298.8 L548.9,1298.8 L549.9,1298.8 L550.9,1298.8 L551.9,1298.8 L552.9,1298.8 L553.9,1298.8 L554.9,1298.8 L555.9,1298.8 L556.9,1298.8 L557.9,1298.8 L558.9,1298.8 L559.9,1298.8 L560.9,1298.8 L561.9,1298.8 L562.9,1298.8 L563.9,1298.8 L564.9,1298.8 L565.9,1298.8 L566.9,1298.8 L567.9,1298.8 L568.9,1298.8 L569.9,1298.8 L570.9,1298.8 L571.9,1298.8 L572.9,1298.8 L573.9,1298.8 L574.9,1298.8 L575.9,1298.8 L576.9,1298.8 L577.9,1298.8 L578.9,1298.8 L579.9,1298.8 L580.9,1298.8 L581.9,1298.8 L582.9,1298.8 L583.9,1298.8 L584.9,1298.8 L585.9,1298.8 L586.9,1298.8 L587.9,1298.8 L588.9,1298.8 L589.9,1298.8 L590.9,1298.8 L591.9,1298.8 L592.9,1298.8 L593.9,1298.8 L594.9,1298.8 L595.9,1298.8 L596.9,1298.8 L597.9,1298.8 L598.9,1298.8 L599.9,1298.8 L600.9,1298.8 L601.9,1298.8 L602.9,1298.8 L603.9,1298.8 L604.9,1298.8 L605.9,1298.8 L606.9,1298.8 L607.9,1298.8 L608.9,1298.8 L609.9,1298.8 L610.9,1298.8 L611.9,1298.8 L612.9,1298.8 L613.9,1298.8 L614.9,1298.8 L615.9,1298.8 L616.9,1298.8 L617.9,1298.8 L618.9,1298.8 L619.9,1298.8 L620.9,1298.8 L621.9,1298.8 L622.9,1298.8 L623.9,1298.8 L624.9,1298.8 L625.9,1298.8 L626.9,1298.8 L627.9,1298.8 L628.9,1298.8 L629.9,1298.8 L630.9,1298.8 L631.9,1298.8 L632.9,1298.8 L633.9,1298.8 L634.9,1298.8 L635.9,1298.8 L636.9,1298.8 L637.9,1298.8 L638.9,1298.8 L639.9,1298.8 L640.9,1298.8 L641.9,1298.8 L642.9,1298.8 L643.9,1298.8 L644.9,1298.8 L645.9,1298.8 L646.9,1298.8 L647.9,1298.8 L648.9,1298.8 L649.9,1298.8 L650.9,1298.8 L651.9,1298.8 L652.9,1298.8 L653.9,1298.8 L654.9,1298.8 L655.9,1298.8 L656.9,1298.8 L657.9,1298.8 L658.9,1298.8 L659.9,1298.8 L660.9,1298.8 L661.9,1298.8 L662.9,1298.8 L663.9,1298.8 L664.9,1298.8 L665.9,1298.8 L666.9,1298.8 L667.9,1298.8 L668.9,1298.8 L669.9,1298.8 L670.9,1298.8 L671.9,1298.8 L672.9,1298.8 L673.9,1298.8 L674.9,1298.8 L675.9,1298.8 L676.9,1298.8 L677.9,1298.8 L678.9,1298.8 L679.9,1298.8 L680.9,1298.8 L681.9,1298.8 L682.9,1298.8 L683.9,1298.8 L684.9,1298.8 L685.9,1298.8 L686.9,1298.8 L687.9,1298.8 L688.9,1298.8 L689.9,1298.8 L690.9,1298.8 L691.9,1298.8 L692.9,1298.8 L693.9,1298.8 L694.9,1298.8 L695.9,1298.8 L696.9,1298.7 L697.9,1298.7 L698.9,1298.7 L699.9,1298.6 L700.9,1298.5 L701.9,1298.5 L702.9,1298.4 L703.9,1298.3 L704.9,1298.2 L705.9,1298.1 L706.9,1298.0 L707.9,1297.8 L708.9,1297.7 L709.9,1297.6 L710.9,1297.4 L711.9,1297.3 L712.9,1297.1 L713.9,1296.9 L714.9,1296.7 L715.9,1296.5 L716.9,1296.2 L717.9,1295.9 L718.9,1295.7 L719.9,1295.4 L720.9,1295.1 L721.9,1294.8 L722.9,1294.5 L723.9,1294.1 L724.9,1293.8 L725.9,1293.5 L726.9,1293.2 L727.9,1292.9 L728.9,1292.5 L729.9,1292.2 L730.9,1291.9 L731.9,1291.6 L732.9,1291.3 L733.9,1291.0 L734.9,1290.7 L735.9,1290.4 L736.9,1290.1 L737.9,1289.8 L738.9,1289.5 L739.9,1289.2 L740.9,1288.9 L741.9,1288.5 L742.9,1288.2 L743.9,1287.9 L744.9,1287.5 L745.9,1287.2 L746.9,1286.8 L747.9,1286.5 L748.9,1286.1 L749.9,1285.8 L750.9,1285.4 L751.9,1285.0 L752.9,1284.6 L753.9,1284.2 L754.9,1283.8 L755.9,1283.4 L756.9,1283.0 L757.9,1282.5 L758.9,1282.1 L759.9,1281.7 L760.9,1281.3 L761.9,1280.8 L762.9,1280.4 L763.9,1280.0 L764.9,1279.6 L765.9,1279.1 L766.9,1278.7 L767.9,1278.3 L768.9,1277.9 L769.9,1277.5 L770.9,1277.1 L771.9,1276.7 L772.9,1276.4 L773.9,1276.0 L774.9,1275.6 L775.9,1275.3 L776.9,1274.9 L777.9,1274.6 L778.9,1274.2 L779.9,1273.9 L780.9,1273.5 L781.9,1273.2 L782.9,1272.8 L783.9,1272.5 L784.9,1272.1 L785.9,1271.8 L786.9,1271.4 L787.9,1271.0 L788.9,1270.7 L789.9,1270.3 L790.9,1269.9 L791.9,1269.5 L792.9,1269.2 L793.9,1268.8 L794.9,1268.4 L795.9,1268.0 L796.9,1267.6 L797.9,1267.2 L798.9,1266.8 L799.9,1266.4 L800.9,1266.0 L801.9,1265.6 L802.9,1265.3 L803.9,1264.9 L804.9,1264.5 L805.9,1264.1 L806.9,1263.7 L807.9,1263.3 L808.9,1263.0 L809.9,1262.6 L810.9,1262.2 L811.9,1261.9 L812.9,1261.5 L813.9,1261.2 L814.9,1260.8 L815.9,1260.5 L816.9,1260.1 L817.9,1259.8 L818.9,1259.5 L819.9,1259.2 L820.9,1258.9 L821.9,1258.5 L822.9,1258.2 L823.9,1257.9 L824.9,1257.6 L825.9,1257.3 L826.9,1257.0 L827.9,1256.7 L828.9,1256.4 L829.9,1256.1 L830.9,1255.8 L831.9,1255.5 L832.9,1255.2 L833.9,1254.9 L834.9,1254.6 L835.9,1254.3 L836.9,1254.1 L837.9,1253.8 L838.9,1253.5 L839.9,1253.2 L840.9,1252.9 L841.9,1252.6 L842.9,1252.3 L843.9,1252.0 L844.9,1251.7 L845.9,1251.5 L846.9,1251.2 L847.9,1250.9 L848.9,1250.6 L849.9,1250.3 L850.9,1250.1 L851.9,1249.8 L852.9,1249.5 L853.9,1249.2 L854.9,1249.0 L855.9,1248.7 L856.9,1248.4 L857.9,1248.2 L858.9,1247.9 L859.9,1247.7 L860.9,1247.4 L861.9,1247.2 L862.9,1246.9 L863.9,1246.7 L864.9,1246.4 L865.9,1246.2 L866.9,1245.9 L867.9,1245.7 L868.9,1245.5 L869.9,1245.2 L870.9,1245.0 L871.9,1244.8 L872.9,1244.6 L873.9,1244.3 L874.9,1244.1 L875.9,1243.9 L876.9,1243.7 L877.9,1243.4 L878.9,1243.2 L879.9,1243.0 L880.9,1242.8 L881.9,1242.6 L882.9,1242.4 L883.9,1242.2 L884.9,1242.0 L885.9,1241.8 L886.9,1241.6 L887.9,1241.5 L888.9,1241.3 L889.9,1241.1 L890.9,1241.0 L891.9,1240.8 L892.9,1240.7 L893.9,1240.5 L894.9,1240.4 L895.9,1240.3 L896.9,1240.2 L897.9,1240.0 L898.9,1239.9 L899.9,1239.8 L900.9,1239.7 L901.9,1239.6 L902.9,1239.5 L903.9,1239.4 L904.9,1239.3 L905.9,1239.2 L906.9,1239.2 L907.9,1239.1 L908.9,1239.1 L909.9,1239.0 L910.9,1239.0 L911.9,1238.9 L912.9,1238.9 L913.9,1238.8 L914.9,1238.8 L915.9,1238.8 L916.9,1238.7 L917.9,1238.7 L918.9,1238.7 L919.9,1238.6 L920.9,1238.6 L921.9,1238.6 L922.9,1238.6 L923.9,1238.6 L924.9,1238.6 L925.9,1238.5 L926.9,1238.5 L927.9,1238.5 L928.9,1238.6 L929.9,1238.6 L930.9,1238.6 L931.9,1238.6 L932.9,1238.7 L933.9,1238.7 L934.9,1238.7 L935.9,1238.8 L936.9,1238.8 L937.9,1238.9 L938.9,1238.9 L939.9,1239.0 L940.9,1239.1 L941.9,1239.1 L942.9,1239.2 L943.9,1239.3 L944.9,1239.3 L945.9,1239.4 L946.9,1239.5 L947.9,1239.6 L948.9,1239.7 L949.9,1239.8 L950.9,1239.9 L951.9,1240.0 L952.9,1240.1 L953.9,1240.2 L954.9,1240.3 L955.9,1240.4 L956.9,1240.6 L957.9,1240.7 L958.9,1240.9 L959.9,1241.0 L960.9,1241.2 L961.9,1241.3 L962.9,1241.5 L963.9,1241.6 L964.9,1241.8 L965.9,1242.0 L966.9,1242.1 L967.9,1242.3 L968.9,1242.5 L969.9,1242.7 L970.9,1242.8 L971.9,1243.0 L972.9,1243.2 L973.9,1243.4 L974.9,1243.7 L975.9,1243.9 L976.9,1244.1 L977.9,1244.3 L978.9,1244.6 L979.9,1244.8 L980.9,1245.0 L981.9,1245.3 L982.9,1245.6 L983.9,1245.8 L984.9,1246.1 L985.9,1246.4 L986.9,1246.6 L987.9,1246.9 L988.9,1247.2 L989.9,1247.5 L990.9,1247.8 L991.9,1248.2 L992.9,1248.5 L993.9,1248.9 L994.9,1249.2 L995.9,1249.6 L996.9,1250.0 L997.9,1250.4 L998.9,1250.8 L999.9,1251.2 L1000.9,1251.6 L1001.9,1252.0 L1002.9,1252.5 L1003.9,1252.9 L1004.9,1253.3 L1005.9,1253.7 L1006.9,1254.2 L1007.9,1254.6 L1008.9,1255.0 L1009.9,1255.4 L1010.9,1255.8 L1011.9,1256.2 L1012.9,1256.6 L1013.9,1257.0 L1014.9,1257.4 L1015.9,1257.8 L1016.9,1258.1 L1017.9,1258.5 L1018.9,1258.9 L1019.9,1259.2 L1020.9,1259.6 L1021.9,1259.9 L1022.9,1260.3 L1023.9,1260.7 L1024.9,1261.0 L1025.9,1261.4 L1026.9,1261.8 L1027.9,1262.2 L1028.9,1262.5 L1029.9,1262.9 L1030.9,1263.3 L1031.9,1263.8 L1032.9,1264.2 L1033.9,1264.6 L1034.9,1265.0 L1035.9,1265.4 L1036.9,1265.9 L1037.9,1266.3 L1038.9,1266.7 L1039.9,1267.2 L1040.9,1267.6 L1041.9,1268.1 L1042.9,1268.5 L1043.9,1269.0 L1044.9,1269.4 L1045.9,1269.9 L1046.9,1270.3 L1047.9,1270.7 L1048.9,1271.2 L1049.9,1271.6 L1050.9,1272.1 L1051.9,1272.5 L1052.9,1272.9 L1053.9,1273.4 L1054.9,1273.8 L1055.9,1274.2 L1056.9,1274.7 L1057.9,1275.1 L1058.9,1275.5 L1059.9,1275.9 L1060.9,1276.4 L1061.9,1276.8 L1062.9,1277.2 L1063.9,1277.6 L1064.9,1278.0 L1065.9,1278.5 L1066.9,1278.9 L1067.9,1279.3 L1068.9,1279.7 L1069.9,1280.1 L1070.9,1280.5 L1071.9,1280.9 L1072.9,1281.3 L1073.9,1281.7 L1074.9,1282.1 L1075.9,1282.5 L1076.9,1282.9 L1077.9,1283.3 L1078.9,1283.7 L1079.9,1284.1 L1080.9,1284.5 L1081.9,1284.9 L1082.9,1285.3 L1083.9,1285.6 L1084.9,1286.0 L1085.9,1286.4 L1086.9,1286.8 L1087.9,1287.1 L1088.9,1287.5 L1089.9,1287.8 L1090.9,1288.2 L1091.9,1288.5 L1092.9,1288.9 L1093.9,1289.2 L1094.9,1289.5 L1095.9,1289.9 L1096.9,1290.2 L1097.9,1290.5 L1098.9,1290.8 L1099.9,1291.1 L1100.9,1291.4 L1101.9,1291.8 L1102.9,1292.1 L1103.9,1292.3 L1104.9,1292.6 L1105.9,1292.9 L1106.9,1293.2 L1107.9,1293.5 L1108.9,1293.8 L1109.9,1294.1 L1110.9,1294.3 L1111.9,1294.6 L1112.9,1294.9 L1113.9,1295.1 L1114.9,1295.4 L1115.9,1295.7 L1116.9,1295.9 L1117.9,1296.2 L1118.9,1296.4 L1119.9,1296.6 L1120.9,1296.8 L1121.9,1297.0 L1122.9,1297.2 L1123.9,1297.3 L1124.9,1297.4 L1125.9,1297.6 L1126.9,1297.7 L1127.9,1297.8 L1128.9,1297.9 L1129.9,1298.0 L1130.9,1298.1 L1131.9,1298.2 L1132.9,1298.2 L1133.9,1298.3 L1134.9,1298.4 L1135.9,1298.4 L1136.9,1298.5 L1137.9,1298.5 L1138.9,1298.5 L1139.9,1298.6 L1140.9,1298.6 L1141.9,1298.6 L1142.9,1298.7 L1143.9,1298.7 L1144.9,1298.7 L1145.9,1298.7 L1146.9,1298.7 L1147.9,1298.8 L1148.9,1298.8 L1149.9,1298.8 L1150.9,1298.8 L1151.9,1298.8 L1152.9,1298.8 L1153.9,1298.8 L1154.9,1298.8 L1155.9,1298.8 L1156.9,1298.8 L1157.9,1298.8 L1158.9,1298.8 L1159.9,1298.8 L1160.9,1298.8 L1161.9,1298.8 L1162.9,1298.8 L1163.9,1298.8 L1164.9,1298.8 L1165.9,1298.8 L1166.9,1298.8 L1167.9,1298.8 L1168.9,1298.8 L1169.9,1298.8 L1170.9,1298.8 L1171.9,1298.8 L1172.9,1298.8 L1173.9,1298.8 L1174.9,1298.8 L1175.9,1298.8 L1176.9,1298.8 L1177.9,1298.8 L1178.9,1298.8 L1179.9,1298.8 L1180.9,1298.8 L1181.9,1298.8 L1182.9,1298.8 L1183.9,1298.8 L1184.9,1298.8 L1185.9,1298.8 L1186.9,1298.8 L1187.9,1298.8 L1188.9,1298.8 L1189.9,1298.8 L1190.9,1298.8 L1191.9,1298.8 L1192.9,1298.8 L1193.9,1298.8 L1194.9,1298.8 L1195.9,1298.8 L1196.9,1298.8 L1197.9,1298.8 L1198.9,1298.8 L1199.9,1298.8 L1200.9,1298.8 L1201.9,1298.8 L1202.9,1298.8 L1203.9,1298.8 L1204.9,1298.8 L1205.9,1298.8 L1206.9,1298.8 L1207.9,1298.8 L1208.9,1298.8 L1209.9,1298.8 L1210.9,1298.8 L1211.9,1298.8 L1212.9,1298.8 L1213.9,1298.8 L1214.9,1298.8 L1215.9,1298.8 L1216.9,1298.8 L1217.9,1298.8 L1218.9,1298.8 L1219.9,1298.8 L1220.9,1298.8 L1221.9,1298.8 L1222.9,1298.8 L1223.9,1298.8 L1224.9,1298.8 L1225.9,1298.8 L1226.9,1298.8 L1227.9,1298.8 L1228.9,1298.8 L1229.9,1298.8 L1230.9,1298.8 L1231.9,1298.8 L1232.9,1298.8 L1233.9,1298.8 L1234.9,1298.8 L1235.9,1298.8 L1236.9,1298.8 L1237.9,1298.8 L1238.9,1298.8 L1239.9,1298.8 L1240.9,1298.8 L1241.9,1298.8 L1242.9,1298.8 L1243.9,1298.8 L1244.9,1298.8 L1245.9,1298.8 L1246.9,1298.8 L1247.9,1298.8 L1248.9,1298.8 L1249.9,1298.8 L1250.9,1298.8 L1251.9,1298.8 L1252.9,1298.8 L1253.9,1298.8 L1254.9,1298.8 L1255.9,1298.8 L1256.9,1298.8 L1257.9,1298.8 L1258.9,1298.8 L1259.9,1298.8 L1260.9,1298.8 L1261.9,1298.8 L1262.9,1298.8 L1263.9,1298.8 L1264.9,1298.8 L1265.9,1298.8 L1266.9,1298.8 L1267.9,1298.8 L1268.9,1298.8 L1269.9,1298.8 L1270.9,1298.8 L1271.9,1298.8 L1272.9,1298.8 L1273.9,1298.8 L1274.9,1298.8 L1275.9,1298.8 L1276.9,1298.8 L1277.9,1298.8 L1278.9,1298.8 L1279.9,1298.8 L1280.9,1298.8 L1281.9,1298.8 L1282.9,1298.8 L1283.9,1298.8 L1284.9,1298.8 L1285.9,1298.8 L1286.9,1298.8 L1287.9,1298.7 L1288.9,1298.7 L1289.9,1298.7 L1290.9,1298.7 L1291.9,1298.6 L1292.9,1298.6 L1293.9,1298.6 L1294.9,1298.5 L1295.9,1298.5 L1296.9,1298.5 L1297.9,1298.4 L1298.9,1298.4 L1299.9,1298.4 L1300.9,1298.3 L1301.9,1298.3 L1302.9,1298.3 L1303.9,1298.2 L1304.9,1298.2 L1305.9,1298.2 L1306.9,1298.2 L1307.9,1298.1 L1308.9,1298.1 L1309.9,1298.1 L1310.9,1298.0 L1311.9,1298.0 L1312.9,1298.0 L1313.9,1298.0 L1314.9,1298.0 L1315.9,1297.9 L1316.9,1297.9 L1317.9,1297.9 L1318.9,1297.9 L1319.9,1297.9 L1320.9,1297.9 L1321.9,1298.0 L1322.9,1298.0 L1323.9,1298.0 L1324.9,1298.0 L1325.9,1298.1 L1326.9,1298.1 L1327.9,1298.2 L1328.9,1298.2 L1329.9,1298.3 L1330.9,1298.3 L1331.9,1298.3 L1332.9,1298.4 L1333.9,1298.4 L1334.9,1298.5 L1335.9,1298.5 L1336.9,1298.6 L1337.9,1298.6 L1338.9,1298.7 L1339.9,1298.7 L1340.9,1298.7 L1341.9,1298.8 L1342.9,1298.8 L1343.9,1298.8 L1344.9,1298.8 L1345.9,1298.8 L1346.9,1298.8 L1347.9,1298.8 L1348.9,1298.8 L1349.9,1298.8 L1350.9,1298.8 L1351.9,1298.8 L1352.9,1298.8 L1353.9,1298.8 L1354.9,1298.8 L1355.9,1298.8 L1356.9,1298.8 L1357.9,1298.8 L1358.9,1298.8 L1359.9,1298.8 L1360.9,1298.8 L1361.9,1298.8 L1362.9,1298.8 L1363.9,1298.8 L1364.9,1298.8 L1365.9,1298.8 L1366.9,1298.8 L1367.9,1298.8 L1368.9,1298.8 L1369.9,1298.8 L1370.9,1298.8 L1371.9,1298.8 L1372.9,1298.8 L1373.9,1298.8 L1374.9,1298.8 L1375.9,1298.8 L1376.9,1298.8 L1377.9,1298.8 L1378.9,1298.8 L1379.9,1298.8 L1380.9,1298.8 L1381.9,1298.8 L1382.9,1298.8 L1383.9,1298.8 L1384.9,1298.8 L1385.9,1298.8 L1386.9,1298.8 L1387.9,1298.8 L1388.9,1298.8 L1389.9,1298.8 L1390.9,1298.8 L1391.9,1298.8 L1392.9,1298.8 L1393.9,1298.8 L1394.9,1298.8 L1395.9,1298.8 L1396.9,1298.8 L1397.9,1298.8 L1398.9,1298.8 L1399.9,1298.8" stroke="#ff6a00" stroke-width="13.5" stroke-linecap="round" stroke-dasharray="94.5 54" stroke-dashoffset="60.7"/>
<path d="M1400.9,1298.8 L1401.9,1298.8 L1402.9,1298.8 L1403.9,1298.8 L1404.9,1298.8 L1405.9,1298.8 L1406.9,1298.8 L1407.9,1298.8 L1408.9,1298.8 L1409.9,1298.8 L1410.9,1298.8 L1411.9,1298.8 L1412.9,1298.8 L1413.9,1298.8 L1414.9,1298.8 L1415.9,1298.8 L1416.9,1298.8 L1417.9,1298.8 L1418.9,1298.8 L1419.9,1298.8 L1420.9,1298.8 L1421.9,1298.8 L1422.9,1298.8 L1423.9,1298.8 L1424.9,1298.8 L1425.9,1298.8 L1426.9,1298.8 L1427.9,1298.8 L1428.9,1298.8 L1429.9,1298.8 L1430.9,1298.8 L1431.9,1298.8 L1432.9,1298.8 L1433.9,1298.8 L1434.9,1298.8 L1435.9,1298.8 L1436.9,1298.8 L1437.9,1298.8 L1438.9,1298.8 L1439.9,1298.8 L1440.9,1298.8 L1441.9,1298.8 L1442.9,1298.8 L1443.9,1298.8 L1444.9,1298.8 L1445.9,1298.8 L1446.9,1298.8 L1447.9,1298.8 L1448.9,1298.8 L1449.9,1298.8 L1450.9,1298.8 L1451.9,1298.8 L1452.9,1298.8 L1453.9,1298.8 L1454.9,1298.8 L1455.9,1298.8 L1456.9,1298.8 L1457.9,1298.8 L1458.9,1298.8 L1459.9,1298.8 L1460.9,1298.8 L1461.9,1298.8 L1462.9,1298.8 L1463.9,1298.8 L1464.9,1298.8 L1465.9,1298.8 L1466.9,1298.8 L1467.9,1298.8 L1468.9,1298.8 L1469.9,1298.8 L1470.9,1298.8 L1471.9,1298.8 L1472.9,1298.8 L1473.9,1298.8 L1474.9,1298.8 L1475.9,1298.8 L1476.9,1298.8 L1477.9,1298.8 L1478.9,1298.8 L1479.9,1298.8 L1480.9,1298.8 L1481.9,1298.8 L1482.9,1298.8 L1483.9,1298.8 L1484.9,1298.8 L1485.9,1298.8 L1486.9,1298.8 L1487.9,1298.8 L1488.9,1298.8 L1489.9,1298.8 L1490.9,1298.8 L1491.9,1298.7 L1492.9,1298.7 L1493.9,1298.7 L1494.9,1298.7 L1495.9,1298.7 L1496.9,1298.6 L1497.9,1298.6 L1498.9,1298.6 L1499.9,1298.5 L1500.9,1298.5 L1501.9,1298.5 L1502.9,1298.4 L1503.9,1298.4 L1504.9,1298.3 L1505.9,1298.2 L1506.9,1298.1 L1507.9,1297.9 L1508.9,1297.7 L1509.9,1297.5 L1510.9,1297.2 L1511.9,1296.8 L1512.9,1296.5 L1513.9,1296.1 L1514.9,1295.7 L1515.9,1295.3 L1516.9,1294.8 L1517.9,1294.3 L1518.9,1293.9 L1519.9,1293.4 L1520.9,1292.8 L1521.9,1292.2 L1522.9,1291.6 L1523.9,1291.0 L1524.9,1290.4 L1525.9,1289.7 L1526.9,1289.0 L1527.9,1288.3 L1528.9,1287.5 L1529.9,1286.7 L1530.9,1286.0 L1531.9,1285.1 L1532.9,1284.3 L1533.9,1283.5 L1534.9,1282.6 L1535.9,1281.7 L1536.9,1280.8 L1537.9,1279.9 L1538.9,1279.0 L1539.9,1278.0 L1540.9,1277.1 L1541.9,1276.1 L1542.9,1275.1 L1543.9,1274.1 L1544.9,1273.1 L1545.9,1272.1 L1546.9,1271.1 L1547.9,1270.0 L1548.9,1268.9 L1549.9,1267.8 L1550.9,1266.6 L1551.9,1265.5 L1552.9,1264.2 L1553.9,1263.0 L1554.9,1261.7 L1555.9,1260.4 L1556.9,1259.1 L1557.9,1257.8 L1558.9,1256.4 L1559.9,1255.0 L1560.9,1253.6 L1561.9,1252.1 L1562.9,1250.7 L1563.9,1249.2 L1564.9,1247.7 L1565.9,1246.1 L1566.9,1244.6 L1567.9,1243.0 L1568.9,1241.4 L1569.9,1239.8 L1570.9,1238.2 L1571.9,1236.5 L1572.9,1234.8 L1573.9,1233.1 L1574.9,1231.4 L1575.9,1229.7 L1576.9,1227.9 L1577.9,1226.1 L1578.9,1224.2 L1579.9,1222.3 L1580.9,1220.3 L1581.9,1218.2 L1582.9,1216.1 L1583.9,1214.0 L1584.9,1211.8 L1585.9,1209.6 L1586.9,1207.3 L1587.9,1205.1 L1588.9,1202.8 L1589.9,1200.5 L1590.9,1198.2 L1591.9,1195.9 L1592.9,1193.6 L1593.9,1191.3 L1594.9,1189.0 L1595.9,1186.7 L1596.9,1184.5 L1597.9,1182.3 L1598.9,1180.1 L1599.9,1177.9 L1600.9,1175.7 L1601.9,1173.5 L1602.9,1171.3 L1603.9,1169.2 L1604.9,1167.0 L1605.9,1164.8 L1606.9,1162.7 L1607.9,1160.5 L1608.9,1158.3 L1609.9,1156.1 L1610.9,1154.0 L1611.9,1151.8 L1612.9,1149.6 L1613.9,1147.4 L1614.9,1145.3 L1615.9,1143.1 L1616.9,1140.9 L1617.9,1138.8 L1618.9,1136.6 L1619.9,1134.5 L1620.9,1132.3 L1621.9,1130.2 L1622.9,1128.0 L1623.9,1125.9 L1624.9,1123.8 L1625.9,1121.6 L1626.9,1119.5 L1627.9,1117.4 L1628.9,1115.3 L1629.9,1113.2 L1630.9,1111.2 L1631.9,1109.1 L1632.9,1107.0 L1633.9,1105.0 L1634.9,1102.9 L1635.9,1100.9 L1636.9,1098.8 L1637.9,1096.8 L1638.9,1094.8 L1639.9,1092.8 L1640.9,1090.7 L1641.9,1088.7 L1642.9,1086.6 L1643.9,1084.6 L1644.9,1082.5 L1645.9,1080.4 L1646.9,1078.3 L1647.9,1076.3 L1648.9,1074.2 L1649.9,1072.2 L1650.9,1070.1 L1651.9,1068.2 L1652.9,1066.2 L1653.9,1064.3 L1654.9,1062.4 L1655.9,1060.6 L1656.9,1058.8 L1657.9,1057.1 L1658.9,1055.5 L1659.9,1053.9 L1660.9,1052.4 L1661.9,1051.0 L1662.9,1049.6 L1663.9,1048.2 L1664.9,1046.9 L1665.9,1045.7 L1666.9,1044.5 L1667.9,1043.3 L1668.9,1042.1 L1669.9,1040.9 L1670.9,1039.8 L1671.9,1038.7 L1672.9,1037.7 L1673.9,1036.6 L1674.9,1035.6 L1675.9,1034.7 L1676.9,1033.7 L1677.9,1032.8 L1678.9,1032.0 L1679.9,1031.2 L1680.9,1030.4 L1681.9,1029.6 L1682.9,1028.9 L1683.9,1028.3 L1684.9,1027.6 L1685.9,1027.0 L1686.9,1026.4 L1687.9,1025.8 L1688.9,1025.2 L1689.9,1024.7 L1690.9,1024.1 L1691.9,1023.5 L1692.9,1023.0 L1693.9,1022.5 L1694.9,1022.0 L1695.9,1021.5 L1696.9,1021.0 L1697.9,1020.6 L1698.9,1020.2 L1699.9,1019.8 L1700.9,1019.5 L1701.9,1019.2 L1702.9,1019.0 L1703.9,1018.8 L1704.9,1018.6 L1705.9,1018.5 L1706.9,1018.5 L1707.9,1018.5 L1708.9,1018.5 L1709.9,1018.6 L1710.9,1018.7 L1711.9,1018.9 L1712.9,1019.1 L1713.9,1019.4 L1714.9,1019.7 L1715.9,1020.0 L1716.9,1020.3 L1717.9,1020.7 L1718.9,1021.1 L1719.9,1021.5 L1720.9,1022.0 L1721.9,1022.4 L1722.9,1022.9 L1723.9,1023.4 L1724.9,1023.9 L1725.9,1024.4 L1726.9,1025.0 L1727.9,1025.6 L1728.9,1026.2 L1729.9,1026.9 L1730.9,1027.6 L1731.9,1028.4 L1732.9,1029.2 L1733.9,1030.1 L1734.9,1031.1 L1735.9,1032.1 L1736.9,1033.1 L1737.9,1034.2 L1738.9,1035.4 L1739.9,1036.5 L1740.9,1037.7 L1741.9,1039.0 L1742.9,1040.2 L1743.9,1041.5 L1744.9,1042.8 L1745.9,1044.2 L1746.9,1045.6 L1747.9,1047.1 L1748.9,1048.6 L1749.9,1050.2 L1750.9,1051.9 L1751.9,1053.6 L1752.9,1055.3 L1753.9,1057.1 L1754.9,1058.9 L1755.9,1060.7 L1756.9,1062.6 L1757.9,1064.5 L1758.9,1066.4 L1759.9,1068.3 L1760.9,1070.3 L1761.9,1072.2 L1762.9,1074.2 L1763.9,1076.2 L1764.9,1078.2 L1765.9,1080.1 L1766.9,1082.1 L1767.9,1084.1 L1768.9,1086.1 L1769.9,1088.2 L1770.9,1090.2 L1771.9,1092.3 L1772.9,1094.4 L1773.9,1096.5 L1774.9,1098.6 L1775.9,1100.8 L1776.9,1102.9 L1777.9,1105.1 L1778.9,1107.3 L1779.9,1109.6 L1780.9,1111.8 L1781.9,1114.1 L1782.9,1116.3 L1783.9,1118.6 L1784.9,1120.9 L1785.9,1123.2 L1786.9,1125.5 L1787.9,1127.8 L1788.9,1130.1 L1789.9,1132.4 L1790.9,1134.7 L1791.9,1137.1 L1792.9,1139.4 L1793.9,1141.7 L1794.9,1144.0 L1795.9,1146.3 L1796.9,1148.7 L1797.9,1151.0 L1798.9,1153.3 L1799.9,1155.6 L1800.9,1157.8 L1801.9,1160.1 L1802.9,1162.4 L1803.9,1164.6 L1804.9,1166.9 L1805.9,1169.1 L1806.9,1171.3 L1807.9,1173.6 L1808.9,1175.8 L1809.9,1178.0 L1810.9,1180.2 L1811.9,1182.5 L1812.9,1184.7 L1813.9,1186.9 L1814.9,1189.2 L1815.9,1191.4 L1816.9,1193.6 L1817.9,1195.8 L1818.9,1198.0 L1819.9,1200.2 L1820.9,1202.4 L1821.9,1204.6 L1822.9,1206.7 L1823.9,1208.9 L1824.9,1211.0 L1825.9,1213.0 L1826.9,1215.1 L1827.9,1217.1 L1828.9,1219.2 L1829.9,1221.2 L1830.9,1223.2 L1831.9,1225.2 L1832.9,1227.2 L1833.9,1229.2 L1834.9,1231.1 L1835.9,1233.1 L1836.9,1235.1 L1837.9,1237.0 L1838.9,1238.9 L1839.9,1240.8 L1840.9,1242.7 L1841.9,1244.5 L1842.9,1246.4 L1843.9,1248.1 L1844.9,1249.9 L1845.9,1251.5 L1846.9,1253.2 L1847.9,1254.8 L1848.9,1256.3 L1849.9,1257.8 L1850.9,1259.3 L1851.9,1260.7 L1852.9,1262.1 L1853.9,1263.4 L1854.9,1264.7 L1855.9,1266.0 L1856.9,1267.3 L1857.9,1268.5 L1858.9,1269.7 L1859.9,1270.9 L1860.9,1272.1 L1861.9,1273.2 L1862.9,1274.3 L1863.9,1275.4 L1864.9,1276.5 L1865.9,1277.5 L1866.9,1278.5 L1867.9,1279.5 L1868.9,1280.4 L1869.9,1281.3 L1870.9,1282.2 L1871.9,1283.0 L1872.9,1283.9 L1873.9,1284.7 L1874.9,1285.5 L1875.9,1286.2 L1876.9,1287.0 L1877.9,1287.7 L1878.9,1288.4 L1879.9,1289.1 L1880.9,1289.7 L1881.9,1290.3 L1882.9,1291.0 L1883.9,1291.6 L1884.9,1292.1 L1885.9,1292.7 L1886.9,1293.3 L1887.9,1293.8 L1888.9,1294.4 L1889.9,1294.9 L1890.9,1295.4 L1891.9,1295.9 L1892.9,1296.5 L1893.9,1296.9 L1894.9,1297.4 L1895.9,1297.7 L1896.9,1298.1 L1897.9,1298.3 L1898.9,1298.5 L1899.9,1298.6 L1900.9,1298.7 L1901.9,1298.8 L1902.9,1298.8 L1903.9,1298.8 L1904.9,1298.8 L1905.9,1298.8 L1906.9,1298.8 L1907.9,1298.8 L1908.9,1298.8 L1909.9,1298.8 L1910.9,1298.8 L1911.9,1298.8 L1912.9,1298.8 L1913.9,1298.8 L1914.9,1298.8 L1915.9,1298.8 L1916.9,1298.8 L1917.9,1298.8 L1918.9,1298.8 L1919.9,1298.8 L1920.9,1298.8 L1921.9,1298.8 L1922.9,1298.8 L1923.9,1298.8 L1924.9,1298.8 L1925.9,1298.8 L1926.9,1298.8 L1927.9,1298.8 L1928.9,1298.8 L1929.9,1298.8 L1930.9,1298.8 L1931.9,1298.8 L1932.9,1298.8 L1933.9,1298.8 L1934.9,1298.8 L1935.9,1298.8 L1936.9,1298.8 L1937.9,1298.8 L1938.9,1298.8 L1939.9,1298.8 L1940.9,1298.8 L1941.9,1298.8 L1942.9,1298.8 L1943.9,1298.8 L1944.9,1298.8 L1945.9,1298.8 L1946.9,1298.8 L1947.9,1298.8 L1948.9,1298.8 L1949.9,1298.8 L1950.9,1298.8 L1951.9,1298.8 L1952.9,1298.8 L1953.9,1298.8 L1954.9,1298.8 L1955.9,1298.8 L1956.9,1298.8 L1957.9,1298.8 L1958.9,1298.8 L1959.9,1298.8 L1960.9,1298.8 L1961.9,1298.8 L1962.9,1298.8 L1963.9,1298.8 L1964.9,1298.8 L1965.9,1298.8 L1966.9,1298.8 L1967.9,1298.8 L1968.9,1298.8 L1969.9,1298.8 L1970.9,1298.8 L1971.9,1298.8 L1972.9,1298.8 L1973.9,1298.8 L1974.9,1298.8 L1975.9,1298.8 L1976.9,1298.8 L1977.9,1298.8 L1978.9,1298.8 L1979.9,1298.8 L1980.9,1298.8 L1981.9,1298.8 L1982.9,1298.8 L1983.9,1298.8 L1984.9,1298.8 L1985.9,1298.8 L1986.9,1298.8 L1987.9,1298.8 L1988.9,1298.8 L1989.9,1298.8 L1990.9,1298.8 L1991.9,1298.8 L1992.9,1298.8 L1993.9,1298.8 L1994.9,1298.8 L1995.9,1298.8 L1996.9,1298.8 L1997.9,1298.8 L1998.9,1298.8 L1999.9,1298.8 L2000.9,1298.8 L2001.9,1298.8 L2002.9,1298.8 L2003.9,1298.8 L2004.9,1298.8 L2005.9,1298.8 L2006.9,1298.8 L2007.9,1298.8 L2008.9,1298.8 L2009.9,1298.8 L2010.9,1298.8 L2011.9,1298.8 L2012.9,1298.8 L2013.9,1298.8 L2014.9,1298.8 L2015.9,1298.8 L2016.9,1298.8 L2017.9,1298.8 L2018.9,1298.8 L2019.9,1298.8 L2020.9,1298.8 L2021.9,1298.8 L2022.9,1298.8 L2023.9,1298.8 L2024.9,1298.8 L2025.9,1298.8 L2026.9,1298.8 L2027.9,1298.8 L2028.9,1298.8 L2029.9,1298.8 L2030.9,1298.8 L2031.9,1298.8 L2032.9,1298.8 L2033.9,1298.8 L2034.9,1298.8 L2035.9,1298.8 L2036.9,1298.8 L2037.9,1298.8 L2038.9,1298.8 L2039.9,1298.8 L2040.9,1298.8 L2041.9,1298.8 L2042.9,1298.8 L2043.9,1298.8 L2044.9,1298.8 L2045.9,1298.8 L2046.9,1298.8 L2047.9,1298.8 L2048.9,1298.8 L2049.9,1298.8 L2050.9,1298.8 L2051.9,1298.8 L2052.9,1298.8 L2053.9,1298.8 L2054.9,1298.8 L2055.9,1298.8 L2056.9,1298.8 L2057.9,1298.8 L2058.9,1298.8 L2059.9,1298.8 L2060.9,1298.8 L2061.9,1298.8 L2062.9,1298.8 L2063.9,1298.8 L2064.9,1298.8 L2065.9,1298.8 L2066.9,1298.8 L2067.9,1298.8 L2068.9,1298.8 L2069.9,1298.8 L2070.9,1298.8 L2071.9,1298.8 L2072.9,1298.8 L2073.9,1298.8 L2074.9,1298.8 L2075.9,1298.8 L2076.9,1298.8 L2077.9,1298.8 L2078.9,1298.8 L2079.9,1298.8 L2080.9,1298.8 L2081.9,1298.8 L2082.9,1298.8 L2083.9,1298.8 L2084.9,1298.8 L2085.9,1298.8 L2086.9,1298.8 L2087.9,1298.8 L2088.9,1298.8 L2089.9,1298.8 L2090.9,1298.8 L2091.9,1298.8 L2092.9,1298.8 L2093.9,1298.8 L2094.9,1298.8 L2095.9,1298.8 L2096.9,1298.8 L2097.9,1298.8 L2098.9,1298.8 L2099.9,1298.8 L2100.9,1298.8 L2101.9,1298.8 L2102.9,1298.8 L2103.9,1298.8 L2104.9,1298.8 L2105.9,1298.8 L2106.9,1298.8 L2107.9,1298.8 L2108.9,1298.8 L2109.9,1298.8 L2110.9,1298.8 L2111.9,1298.8 L2112.9,1298.8 L2113.9,1298.8 L2114.9,1298.8 L2115.9,1298.8 L2116.9,1298.8 L2117.9,1298.8 L2118.9,1298.8 L2119.9,1298.8 L2120.9,1298.8 L2121.9,1298.8 L2122.9,1298.8 L2123.9,1298.8 L2124.9,1298.8 L2125.9,1298.8 L2126.9,1298.8 L2127.9,1298.8 L2128.9,1298.8 L2129.9,1298.8 L2130.9,1298.8 L2131.9,1298.8 L2132.9,1298.8 L2133.9,1298.8 L2134.9,1298.8 L2135.9,1298.8 L2136.9,1298.8 L2137.9,1298.8 L2138.9,1298.8 L2139.9,1298.8 L2140.9,1298.8 L2141.9,1298.8 L2142.9,1298.8 L2143.9,1298.8 L2144.9,1298.8 L2145.9,1298.8 L2146.9,1298.8 L2147.9,1298.8 L2148.9,1298.8 L2149.9,1298.8 L2150.9,1298.8 L2151.9,1298.8 L2152.9,1298.8 L2153.9,1298.8 L2154.9,1298.8 L2155.9,1298.8 L2156.9,1298.8 L2157.9,1298.8 L2158.9,1298.8 L2159.9,1298.8 L2160.9,1298.8 L2161.9,1298.8 L2162.9,1298.8 L2163.9,1298.8 L2164.9,1298.8 L2165.9,1298.8 L2166.9,1298.8 L2167.9,1298.8 L2168.9,1298.8 L2169.9,1298.8 L2170.9,1298.8 L2171.9,1298.8 L2172.9,1298.8 L2173.9,1298.8 L2174.9,1298.8 L2175.9,1298.8 L2176.9,1298.8 L2177.9,1298.8 L2178.9,1298.8 L2179.9,1298.8 L2180.9,1298.8 L2181.9,1298.8 L2182.9,1298.8 L2183.9,1298.8 L2184.9,1298.8 L2185.9,1298.8 L2186.9,1298.8 L2187.9,1298.8 L2188.9,1298.8 L2189.9,1298.8 L2190.9,1298.8 L2191.9,1298.8 L2192.9,1298.8 L2193.9,1298.8 L2194.9,1298.8 L2195.9,1298.8 L2196.9,1298.8 L2197.9,1298.8 L2198.9,1298.8 L2199.9,1298.8 L2200.9,1298.8 L2201.9,1298.8 L2202.9,1298.8 L2203.9,1298.8 L2204.9,1298.8 L2205.9,1298.8 L2206.9,1298.8 L2207.9,1298.8 L2208.9,1298.8 L2209.9,1298.8 L2210.9,1298.8 L2211.9,1298.8 L2212.9,1298.8 L2213.9,1298.8 L2214.9,1298.8 L2215.9,1298.8 L2216.9,1298.8 L2217.9,1298.8 L2218.9,1298.8 L2219.9,1298.8 L2220.9,1298.8 L2221.9,1298.8 L2222.9,1298.8 L2223.9,1298.8 L2224.9,1298.8 L2225.9,1298.8 L2226.9,1298.8 L2227.9,1298.8 L2228.9,1298.8 L2229.9,1298.8 L2230.9,1298.8 L2231.9,1298.8 L2232.9,1298.8 L2233.9,1298.8 L2234.9,1298.8 L2235.9,1298.8 L2236.9,1298.8 L2237.9,1298.8 L2238.9,1298.8 L2239.9,1298.8 L2240.9,1298.8 L2241.9,1298.8 L2242.9,1298.8 L2243.9,1298.8 L2244.9,1298.8 L2245.9,1298.8 L2246.9,1298.8 L2247.9,1298.8 L2248.9,1298.8 L2249.9,1298.8 L2250.9,1298.8 L2251.9,1298.8 L2252.9,1298.8 L2253.9,1298.8 L2254.9,1298.8 L2255.9,1298.8 L2256.9,1298.8 L2257.9,1298.8 L2258.9,1298.8 L2259.9,1298.8 L2260.9,1298.8 L2261.9,1298.8 L2262.9,1298.8 L2263.9,1298.8 L2264.9,1298.8 L2265.9,1298.8 L2266.9,1298.8 L2267.9,1298.8 L2268.9,1298.8 L2269.9,1298.8 L2270.9,1298.8 L2271.9,1298.8 L2272.9,1298.8 L2273.9,1298.8 L2274.9,1298.8 L2275.9,1298.8 L2276.9,1298.8 L2277.9,1298.8 L2278.9,1298.8 L2279.9,1298.8 L2280.9,1298.8 L2281.9,1298.8 L2282.9,1298.8 L2283.9,1298.8 L2284.9,1298.8 L2285.9,1298.8 L2286.9,1298.8 L2287.9,1298.8 L2288.9,1298.8 L2289.9,1298.8 L2290.9,1298.8 L2291.9,1298.8 L2292.9,1298.8 L2293.9,1298.8 L2294.9,1298.8 L2295.9,1298.8 L2296.9,1298.8 L2297.9,1298.8 L2298.9,1298.8 L2299.9,1298.8 L2300.9,1298.8 L2301.9,1298.8 L2302.9,1298.8 L2303.9,1298.8 L2304.9,1298.8 L2305.9,1298.8 L2306.9,1298.8 L2307.9,1298.8 L2308.9,1298.8 L2309.9,1298.8 L2310.9,1298.8 L2311.9,1298.8 L2312.9,1298.8 L2313.9,1298.8 L2314.9,1298.8 L2315.9,1298.8 L2316.9,1298.8 L2317.9,1298.8 L2318.9,1298.8 L2319.9,1298.8 L2320.9,1298.8 L2321.9,1298.8 L2322.9,1298.8 L2323.9,1298.8 L2324.9,1298.8 L2325.9,1298.8 L2326.9,1298.8 L2327.9,1298.8 L2328.9,1298.8 L2329.9,1298.8 L2330.9,1298.8 L2331.9,1298.8 L2332.9,1298.8 L2333.9,1298.8 L2334.9,1298.8 L2335.9,1298.8 L2336.9,1298.8 L2337.9,1298.8 L2338.9,1298.8 L2339.9,1298.8 L2340.0,1298.8" stroke="#ff6a00" stroke-width="13.5" stroke-linecap="round" stroke-dasharray="94.5 54" stroke-dashoffset="34.5"/>
<path d="M425.9,1298.8 L426.9,1298.8 L427.9,1298.8 L428.9,1298.8 L429.9,1298.8 L430.9,1298.8 L431.9,1298.8 L432.9,1298.8 L433.9,1298.8 L434.9,1298.8 L435.9,1298.8 L436.9,1298.8 L437.9,1298.8 L438.9,1298.8 L439.9,1298.8 L440.9,1298.8 L441.9,1298.8 L442.9,1298.8 L443.9,1298.8 L444.9,1298.8 L445.9,1298.8 L446.9,1298.8 L447.9,1298.8 L448.9,1298.8 L449.9,1298.8 L450.9,1298.8 L451.9,1298.8 L452.9,1298.8 L453.9,1298.8 L454.9,1298.8 L455.9,1298.8 L456.9,1298.8 L457.9,1298.8 L458.9,1298.8 L459.9,1298.8 L460.9,1298.8 L461.9,1298.8 L462.9,1298.8 L463.9,1298.8 L464.9,1298.8 L465.9,1298.8 L466.9,1298.8 L467.9,1298.8 L468.9,1298.8 L469.9,1298.8 L470.9,1298.8 L471.9,1298.8 L472.9,1298.8 L473.9,1298.8 L474.9,1298.8 L475.9,1298.8 L476.9,1298.8 L477.9,1298.8 L478.9,1298.8 L479.9,1298.8 L480.9,1298.8 L481.9,1298.8 L482.9,1298.8 L483.9,1298.8 L484.9,1298.8 L485.9,1298.8 L486.9,1298.8 L487.9,1298.8 L488.9,1298.8 L489.9,1298.8 L490.9,1298.8 L491.9,1298.8 L492.9,1298.8 L493.9,1298.8 L494.9,1298.8 L495.9,1298.8 L496.9,1298.8 L497.9,1298.8 L498.9,1298.8 L499.9,1298.8 L500.9,1298.8 L501.9,1298.8 L502.9,1298.8 L503.9,1298.8 L504.9,1298.8 L505.9,1298.8 L506.9,1298.8 L507.9,1298.8 L508.9,1298.8 L509.9,1298.8 L510.9,1298.8 L511.9,1298.8 L512.9,1298.8 L513.9,1298.8 L514.9,1298.8 L515.9,1298.8 L516.9,1298.8 L517.9,1298.8 L518.9,1298.8 L519.9,1298.8 L520.9,1298.8 L521.9,1298.8 L522.9,1298.8 L523.9,1298.8 L524.9,1298.8 L525.9,1298.8 L526.9,1298.8 L527.9,1298.8 L528.9,1298.8 L529.9,1298.8 L530.9,1298.8 L531.9,1298.8 L532.9,1298.8 L533.9,1298.8 L534.9,1298.8 L535.9,1298.8 L536.9,1298.8 L537.9,1298.8 L538.9,1298.8 L539.9,1298.8 L540.9,1298.8 L541.9,1298.8 L542.9,1298.8 L543.9,1298.8 L544.9,1298.8 L545.9,1298.8 L546.9,1298.8 L547.9,1298.8 L548.9,1298.8 L549.9,1298.8 L550.9,1298.8 L551.9,1298.8 L552.9,1298.8 L553.9,1298.8 L554.9,1298.8 L555.9,1298.8 L556.9,1298.8 L557.9,1298.8 L558.9,1298.8 L559.9,1298.8 L560.9,1298.8 L561.9,1298.8 L562.9,1298.8 L563.9,1298.8 L564.9,1298.8 L565.9,1298.8 L566.9,1298.8 L567.9,1298.8 L568.9,1298.8 L569.9,1298.8 L570.9,1298.8 L571.9,1298.8 L572.9,1298.8 L573.9,1298.8 L574.9,1298.8 L575.9,1298.8 L576.9,1298.8 L577.9,1298.8 L578.9,1298.8 L579.9,1298.8 L580.9,1298.8 L581.9,1298.8 L582.9,1298.8 L583.9,1298.8 L584.9,1298.8 L585.9,1298.8 L586.9,1298.8 L587.9,1298.8 L588.9,1298.8 L589.9,1298.8 L590.9,1298.8 L591.9,1298.8 L592.9,1298.8 L593.9,1298.8 L594.9,1298.8 L595.9,1298.8 L596.9,1298.8 L597.9,1298.8 L598.9,1298.8 L599.9,1298.8 L600.9,1298.8 L601.9,1298.8 L602.9,1298.8 L603.9,1298.8 L604.9,1298.8 L605.9,1298.8 L606.9,1298.8 L607.9,1298.8 L608.9,1298.8 L609.9,1298.8 L610.9,1298.8 L611.9,1298.8 L612.9,1298.8 L613.9,1298.8 L614.9,1298.8 L615.9,1298.8 L616.9,1298.8 L617.9,1298.8 L618.9,1298.8 L619.9,1298.8 L620.9,1298.8 L621.9,1298.8 L622.9,1298.8 L623.9,1298.8 L624.9,1298.8 L625.9,1298.8 L626.9,1298.8 L627.9,1298.8 L628.9,1298.8 L629.9,1298.8 L630.9,1298.8 L631.9,1298.8 L632.9,1298.8 L633.9,1298.8 L634.9,1298.8 L635.9,1298.8 L636.9,1298.8 L637.9,1298.8 L638.9,1298.8 L639.9,1298.8 L640.9,1298.8 L641.9,1298.8 L642.9,1298.8 L643.9,1298.8 L644.9,1298.8 L645.9,1298.8 L646.9,1298.8 L647.9,1298.8 L648.9,1298.8 L649.9,1298.8 L650.9,1298.8 L651.9,1298.8 L652.9,1298.8 L653.9,1298.8 L654.9,1298.8 L655.9,1298.8 L656.9,1298.8 L657.9,1298.8 L658.9,1298.8 L659.9,1298.8 L660.9,1298.8 L661.9,1298.8 L662.9,1298.8 L663.9,1298.8 L664.9,1298.8 L665.9,1298.8 L666.9,1298.8 L667.9,1298.8 L668.9,1298.8 L669.9,1298.8 L670.9,1298.8 L671.9,1298.8 L672.9,1298.8 L673.9,1298.8 L674.9,1298.8 L675.9,1298.8 L676.9,1298.8 L677.9,1298.8 L678.9,1298.8 L679.9,1298.8 L680.9,1298.8 L681.9,1298.8 L682.9,1298.8 L683.9,1298.8 L684.9,1298.8 L685.9,1298.8 L686.9,1298.8 L687.9,1298.8 L688.9,1298.8 L689.9,1298.8 L690.9,1298.8 L691.9,1298.8 L692.9,1298.7 L693.9,1298.7 L694.9,1298.6 L695.9,1298.5 L696.9,1298.3 L697.9,1298.1 L698.9,1297.9 L699.9,1297.6 L700.9,1297.3 L701.9,1297.0 L702.9,1296.6 L703.9,1296.2 L704.9,1295.8 L705.9,1295.4 L706.9,1295.0 L707.9,1294.6 L708.9,1294.2 L709.9,1293.9 L710.9,1293.5 L711.9,1293.1 L712.9,1292.8 L713.9,1292.4 L714.9,1292.1 L715.9,1291.7 L716.9,1291.4 L717.9,1291.1 L718.9,1290.7 L719.9,1290.4 L720.9,1290.0 L721.9,1289.7 L722.9,1289.4 L723.9,1289.0 L724.9,1288.7 L725.9,1288.4 L726.9,1288.0 L727.9,1287.7 L728.9,1287.3 L729.9,1287.0 L730.9,1286.6 L731.9,1286.3 L732.9,1285.9 L733.9,1285.6 L734.9,1285.2 L735.9,1284.8 L736.9,1284.5 L737.9,1284.1 L738.9,1283.7 L739.9,1283.3 L740.9,1282.9 L741.9,1282.6 L742.9,1282.2 L743.9,1281.8 L744.9,1281.4 L745.9,1281.0 L746.9,1280.6 L747.9,1280.1 L748.9,1279.7 L749.9,1279.3 L750.9,1278.9 L751.9,1278.4 L752.9,1278.0 L753.9,1277.5 L754.9,1277.1 L755.9,1276.6 L756.9,1276.1 L757.9,1275.7 L758.9,1275.2 L759.9,1274.7 L760.9,1274.3 L761.9,1273.9 L762.9,1273.4 L763.9,1273.0 L764.9,1272.6 L765.9,1272.2 L766.9,1271.8 L767.9,1271.4 L768.9,1271.0 L769.9,1270.6 L770.9,1270.2 L771.9,1269.8 L772.9,1269.4 L773.9,1269.1 L774.9,1268.7 L775.9,1268.3 L776.9,1268.0 L777.9,1267.6 L778.9,1267.2 L779.9,1266.9 L780.9,1266.5 L781.9,1266.1 L782.9,1265.8 L783.9,1265.4 L784.9,1265.1 L785.9,1264.7 L786.9,1264.4 L787.9,1264.0 L788.9,1263.7 L789.9,1263.4 L790.9,1263.0 L791.9,1262.7 L792.9,1262.4 L793.9,1262.0 L794.9,1261.7 L795.9,1261.4 L796.9,1261.1 L797.9,1260.7 L798.9,1260.4 L799.9,1260.1 L800.9,1259.8 L801.9,1259.5 L802.9,1259.2 L803.9,1258.9 L804.9,1258.6 L805.9,1258.3 L806.9,1258.0 L807.9,1257.7 L808.9,1257.4 L809.9,1257.2 L810.9,1256.9 L811.9,1256.7 L812.9,1256.5 L813.9,1256.3 L814.9,1256.1 L815.9,1255.9 L816.9,1255.7 L817.9,1255.5 L818.9,1255.3 L819.9,1255.1 L820.9,1254.9 L821.9,1254.7 L822.9,1254.6 L823.9,1254.4 L824.9,1254.2 L825.9,1254.0 L826.9,1253.9 L827.9,1253.7 L828.9,1253.6 L829.9,1253.4 L830.9,1253.2 L831.9,1253.1 L832.9,1253.0 L833.9,1252.8 L834.9,1252.7 L835.9,1252.6 L836.9,1252.5 L837.9,1252.4 L838.9,1252.3 L839.9,1252.1 L840.9,1252.0 L841.9,1252.0 L842.9,1251.9 L843.9,1251.8 L844.9,1251.7 L845.9,1251.6 L846.9,1251.5 L847.9,1251.4 L848.9,1251.4 L849.9,1251.3 L850.9,1251.2 L851.9,1251.2 L852.9,1251.1 L853.9,1251.1 L854.9,1251.0 L855.9,1251.0 L856.9,1250.9 L857.9,1250.9 L858.9,1250.9 L859.9,1250.8 L860.9,1250.8 L861.9,1250.8 L862.9,1250.7 L863.9,1250.7 L864.9,1250.7 L865.9,1250.7 L866.9,1250.7 L867.9,1250.6 L868.9,1250.6 L869.9,1250.6 L870.9,1250.6 L871.9,1250.7 L872.9,1250.7 L873.9,1250.7 L874.9,1250.7 L875.9,1250.8 L876.9,1250.8 L877.9,1250.9 L878.9,1250.9 L879.9,1251.0 L880.9,1251.1 L881.9,1251.2 L882.9,1251.2 L883.9,1251.3 L884.9,1251.4 L885.9,1251.5 L886.9,1251.7 L887.9,1251.8 L888.9,1251.9 L889.9,1252.1 L890.9,1252.3 L891.9,1252.5 L892.9,1252.6 L893.9,1252.8 L894.9,1253.0 L895.9,1253.2 L896.9,1253.4 L897.9,1253.6 L898.9,1253.8 L899.9,1254.0 L900.9,1254.2 L901.9,1254.4 L902.9,1254.6 L903.9,1254.8 L904.9,1255.1 L905.9,1255.3 L906.9,1255.5 L907.9,1255.7 L908.9,1255.9 L909.9,1256.2 L910.9,1256.4 L911.9,1256.6 L912.9,1256.8 L913.9,1257.1 L914.9,1257.3 L915.9,1257.5 L916.9,1257.7 L917.9,1258.0 L918.9,1258.2 L919.9,1258.4 L920.9,1258.7 L921.9,1258.9 L922.9,1259.1 L923.9,1259.3 L924.9,1259.6 L925.9,1259.8 L926.9,1260.0 L927.9,1260.2 L928.9,1260.5 L929.9,1260.7 L930.9,1260.9 L931.9,1261.1 L932.9,1261.3 L933.9,1261.5 L934.9,1261.8 L935.9,1262.0 L936.9,1262.2 L937.9,1262.4 L938.9,1262.7 L939.9,1262.9 L940.9,1263.1 L941.9,1263.3 L942.9,1263.6 L943.9,1263.8 L944.9,1264.0 L945.9,1264.3 L946.9,1264.6 L947.9,1264.8 L948.9,1265.1 L949.9,1265.4 L950.9,1265.7 L951.9,1266.1 L952.9,1266.4 L953.9,1266.7 L954.9,1267.1 L955.9,1267.4 L956.9,1267.7 L957.9,1268.0 L958.9,1268.3 L959.9,1268.6 L960.9,1268.9 L961.9,1269.1 L962.9,1269.4 L963.9,1269.6 L964.9,1269.8 L965.9,1270.1 L966.9,1270.4 L967.9,1270.6 L968.9,1270.9 L969.9,1271.2 L970.9,1271.5 L971.9,1271.8 L972.9,1272.1 L973.9,1272.5 L974.9,1272.8 L975.9,1273.1 L976.9,1273.4 L977.9,1273.7 L978.9,1274.0 L979.9,1274.3 L980.9,1274.6 L981.9,1274.8 L982.9,1275.1 L983.9,1275.4 L984.9,1275.6 L985.9,1275.9 L986.9,1276.2 L987.9,1276.5 L988.9,1276.8 L989.9,1277.1 L990.9,1277.4 L991.9,1277.7 L992.9,1277.9 L993.9,1278.2 L994.9,1278.5 L995.9,1278.8 L996.9,1279.1 L997.9,1279.4 L998.9,1279.6 L999.9,1279.9 L1000.9,1280.1 L1001.9,1280.3 L1002.9,1280.6 L1003.9,1280.8 L1004.9,1281.1 L1005.9,1281.3 L1006.9,1281.5 L1007.9,1281.8 L1008.9,1282.0 L1009.9,1282.3 L1010.9,1282.5 L1011.9,1282.7 L1012.9,1283.0 L1013.9,1283.2 L1014.9,1283.5 L1015.9,1283.7 L1016.9,1284.0 L1017.9,1284.2 L1018.9,1284.4 L1019.9,1284.7 L1020.9,1284.9 L1021.9,1285.1 L1022.9,1285.3 L1023.9,1285.5 L1024.9,1285.7 L1025.9,1285.9 L1026.9,1286.2 L1027.9,1286.4 L1028.9,1286.6 L1029.9,1286.8 L1030.9,1287.0 L1031.9,1287.2 L1032.9,1287.3 L1033.9,1287.5 L1034.9,1287.7 L1035.9,1287.9 L1036.9,1288.1 L1037.9,1288.3 L1038.9,1288.5 L1039.9,1288.7 L1040.9,1288.9 L1041.9,1289.0 L1042.9,1289.2 L1043.9,1289.4 L1044.9,1289.6 L1045.9,1289.7 L1046.9,1289.9 L1047.9,1290.0 L1048.9,1290.2 L1049.9,1290.3 L1050.9,1290.5 L1051.9,1290.6 L1052.9,1290.8 L1053.9,1290.9 L1054.9,1291.1 L1055.9,1291.2 L1056.9,1291.3 L1057.9,1291.5 L1058.9,1291.6 L1059.9,1291.7 L1060.9,1291.9 L1061.9,1292.0 L1062.9,1292.1 L1063.9,1292.2 L1064.9,1292.3 L1065.9,1292.4 L1066.9,1292.6 L1067.9,1292.7 L1068.9,1292.8 L1069.9,1292.9 L1070.9,1293.0 L1071.9,1293.1 L1072.9,1293.2 L1073.9,1293.3 L1074.9,1293.4 L1075.9,1293.5 L1076.9,1293.5 L1077.9,1293.6 L1078.9,1293.7 L1079.9,1293.8 L1080.9,1293.9 L1081.9,1294.0 L1082.9,1294.0 L1083.9,1294.1 L1084.9,1294.2 L1085.9,1294.2 L1086.9,1294.3 L1087.9,1294.4 L1088.9,1294.4 L1089.9,1294.5 L1090.9,1294.6 L1091.9,1294.6 L1092.9,1294.7 L1093.9,1294.7 L1094.9,1294.8 L1095.9,1294.8 L1096.9,1294.9 L1097.9,1294.9 L1098.9,1295.0 L1099.9,1295.0 L1100.9,1295.1 L1101.9,1295.1 L1102.9,1295.1 L1103.9,1295.2 L1104.9,1295.2 L1105.9,1295.2 L1106.9,1295.3 L1107.9,1295.3 L1108.9,1295.3 L1109.9,1295.4 L1110.9,1295.4 L1111.9,1295.4 L1112.9,1295.4 L1113.9,1295.5 L1114.9,1295.5 L1115.9,1295.5 L1116.9,1295.5 L1117.9,1295.6 L1118.9,1295.6 L1119.9,1295.6 L1120.9,1295.6 L1121.9,1295.7 L1122.9,1295.7 L1123.9,1295.7 L1124.9,1295.7 L1125.9,1295.7 L1126.9,1295.7 L1127.9,1295.7 L1128.9,1295.8 L1129.9,1295.8 L1130.9,1295.8 L1131.9,1295.8 L1132.9,1295.8 L1133.9,1295.8 L1134.9,1295.8 L1135.9,1295.8 L1136.9,1295.8 L1137.9,1295.8 L1138.9,1295.8 L1139.9,1295.8 L1140.9,1295.8 L1141.9,1295.8 L1142.9,1295.8 L1143.9,1295.8 L1144.9,1295.8 L1145.9,1295.8 L1146.9,1295.8 L1147.9,1295.8 L1148.9,1295.8 L1149.9,1295.8 L1150.9,1295.8 L1151.9,1295.8 L1152.9,1295.8 L1153.9,1295.8 L1154.9,1295.8 L1155.9,1295.8 L1156.9,1295.8 L1157.9,1295.8 L1158.9,1295.8 L1159.9,1295.8 L1160.9,1295.8 L1161.9,1295.8 L1162.9,1295.8 L1163.9,1295.8 L1164.9,1295.9 L1165.9,1295.9 L1166.9,1295.9 L1167.9,1295.9 L1168.9,1295.9 L1169.9,1295.9 L1170.9,1295.9 L1171.9,1295.9 L1172.9,1295.9 L1173.9,1295.9 L1174.9,1295.9 L1175.9,1295.9 L1176.9,1295.9 L1177.9,1296.0 L1178.9,1296.0 L1179.9,1296.0 L1180.9,1296.0 L1181.9,1296.0 L1182.9,1296.0 L1183.9,1296.0 L1184.9,1296.0 L1185.9,1296.0 L1186.9,1296.1 L1187.9,1296.1 L1188.9,1296.1 L1189.9,1296.1 L1190.9,1296.1 L1191.9,1296.1 L1192.9,1296.1 L1193.9,1296.1 L1194.9,1296.2 L1195.9,1296.2 L1196.9,1296.2 L1197.9,1296.2 L1198.9,1296.2 L1199.9,1296.2 L1200.9,1296.2 L1201.9,1296.3 L1202.9,1296.3 L1203.9,1296.3 L1204.9,1296.3 L1205.9,1296.3 L1206.9,1296.3 L1207.9,1296.4 L1208.9,1296.4 L1209.9,1296.4 L1210.9,1296.4 L1211.9,1296.4 L1212.9,1296.5 L1213.9,1296.5 L1214.9,1296.5 L1215.9,1296.5 L1216.9,1296.6 L1217.9,1296.6 L1218.9,1296.6 L1219.9,1296.6 L1220.9,1296.7 L1221.9,1296.7 L1222.9,1296.7 L1223.9,1296.7 L1224.9,1296.8 L1225.9,1296.8 L1226.9,1296.8 L1227.9,1296.9 L1228.9,1296.9 L1229.9,1296.9 L1230.9,1297.0 L1231.9,1297.0 L1232.9,1297.0 L1233.9,1297.1 L1234.9,1297.1 L1235.9,1297.1 L1236.9,1297.2 L1237.9,1297.2 L1238.9,1297.3 L1239.9,1297.3 L1240.9,1297.3 L1241.9,1297.4 L1242.9,1297.4 L1243.9,1297.4 L1244.9,1297.5 L1245.9,1297.5 L1246.9,1297.5 L1247.9,1297.6 L1248.9,1297.6 L1249.9,1297.7 L1250.9,1297.7 L1251.9,1297.7 L1252.9,1297.8 L1253.9,1297.8 L1254.9,1297.9 L1255.9,1297.9 L1256.9,1297.9 L1257.9,1298.0 L1258.9,1298.0 L1259.9,1298.1 L1260.9,1298.1 L1261.9,1298.1 L1262.9,1298.2 L1263.9,1298.2 L1264.9,1298.2 L1265.9,1298.3 L1266.9,1298.3 L1267.9,1298.3 L1268.9,1298.4 L1269.9,1298.4 L1270.9,1298.4 L1271.9,1298.5 L1272.9,1298.5 L1273.9,1298.5 L1274.9,1298.5 L1275.9,1298.6 L1276.9,1298.6 L1277.9,1298.6 L1278.9,1298.6 L1279.9,1298.6 L1280.9,1298.7 L1281.9,1298.7 L1282.9,1298.7 L1283.9,1298.7 L1284.9,1298.7 L1285.9,1298.7 L1286.9,1298.7 L1287.9,1298.7 L1288.9,1298.8 L1289.9,1298.8 L1290.9,1298.8 L1291.9,1298.8 L1292.9,1298.8 L1293.9,1298.8 L1294.9,1298.8 L1295.9,1298.8 L1296.9,1298.8 L1297.9,1298.8 L1298.9,1298.8 L1299.9,1298.8 L1300.9,1298.8 L1301.9,1298.8 L1302.9,1298.8 L1303.9,1298.8 L1304.9,1298.8 L1305.9,1298.8 L1306.9,1298.8 L1307.9,1298.8 L1308.9,1298.8 L1309.9,1298.8 L1310.9,1298.8 L1311.9,1298.8 L1312.9,1298.8 L1313.9,1298.8 L1314.9,1298.8 L1315.9,1298.8 L1316.9,1298.8 L1317.9,1298.8 L1318.9,1298.8 L1319.9,1298.8 L1320.9,1298.8 L1321.9,1298.8 L1322.9,1298.8 L1323.9,1298.8 L1324.9,1298.8 L1325.9,1298.8 L1326.9,1298.8 L1327.9,1298.8 L1328.9,1298.8 L1329.9,1298.8 L1330.9,1298.8 L1331.9,1298.8 L1332.9,1298.8 L1333.9,1298.8 L1334.9,1298.8 L1335.9,1298.8 L1336.9,1298.8 L1337.9,1298.8 L1338.9,1298.8 L1339.9,1298.8 L1340.9,1298.8 L1341.9,1298.8 L1342.9,1298.8 L1343.9,1298.8 L1344.9,1298.8 L1345.9,1298.8 L1346.9,1298.8 L1347.9,1298.8 L1348.9,1298.8 L1349.9,1298.8 L1350.9,1298.8 L1351.9,1298.8 L1352.9,1298.8 L1353.9,1298.8 L1354.9,1298.8 L1355.9,1298.8 L1356.9,1298.8 L1357.9,1298.8 L1358.9,1298.8 L1359.9,1298.8 L1360.9,1298.8 L1361.9,1298.8 L1362.9,1298.8 L1363.9,1298.8 L1364.9,1298.8 L1365.9,1298.8 L1366.9,1298.8 L1367.9,1298.8 L1368.9,1298.8 L1369.9,1298.8 L1370.9,1298.8 L1371.9,1298.8 L1372.9,1298.8 L1373.9,1298.8 L1374.9,1298.8 L1375.9,1298.8 L1376.9,1298.8 L1377.9,1298.8 L1378.9,1298.8 L1379.9,1298.8 L1380.9,1298.8 L1381.9,1298.8 L1382.9,1298.8 L1383.9,1298.8 L1384.9,1298.8 L1385.9,1298.8 L1386.9,1298.8 L1387.9,1298.8 L1388.9,1298.8 L1389.9,1298.8 L1390.9,1298.8 L1391.9,1298.8 L1392.9,1298.8 L1393.9,1298.8 L1394.9,1298.8 L1395.9,1298.8 L1396.9,1298.8 L1397.9,1298.8 L1398.9,1298.8 L1399.9,1298.8 L1400.9,1298.8 L1401.9,1298.8 L1402.9,1298.8 L1403.9,1298.8 L1404.9,1298.8 L1405.9,1298.8 L1406.9,1298.8 L1407.9,1298.8 L1408.9,1298.8 L1409.9,1298.8 L1410.9,1298.8 L1411.9,1298.8 L1412.9,1298.8 L1413.9,1298.8 L1414.9,1298.8 L1415.9,1298.8 L1416.9,1298.8 L1417.9,1298.8 L1418.9,1298.8 L1419.9,1298.8 L1420.9,1298.8 L1421.9,1298.8 L1422.9,1298.8 L1423.9,1298.8 L1424.9,1298.8 L1425.9,1298.8 L1426.9,1298.8 L1427.9,1298.8 L1428.9,1298.8 L1429.9,1298.8 L1430.9,1298.8 L1431.9,1298.8 L1432.9,1298.8 L1433.9,1298.8 L1434.9,1298.8 L1435.9,1298.8 L1436.9,1298.8 L1437.9,1298.8 L1438.9,1298.8 L1439.9,1298.8 L1440.9,1298.8 L1441.9,1298.8 L1442.9,1298.8 L1443.9,1298.7 L1444.9,1298.7 L1445.9,1298.7 L1446.9,1298.7 L1447.9,1298.6 L1448.9,1298.6 L1449.9,1298.5 L1450.9,1298.5 L1451.9,1298.4 L1452.9,1298.4 L1453.9,1298.3 L1454.9,1298.3 L1455.9,1298.2 L1456.9,1298.1 L1457.9,1298.0 L1458.9,1297.9 L1459.9,1297.7 L1460.9,1297.6 L1461.9,1297.5 L1462.9,1297.3 L1463.9,1297.2 L1464.9,1297.0 L1465.9,1296.8 L1466.9,1296.7 L1467.9,1296.5 L1468.9,1296.2 L1469.9,1296.0 L1470.9,1295.6 L1471.9,1295.3 L1472.9,1294.8 L1473.9,1294.3 L1474.9,1293.7 L1475.9,1293.0 L1476.9,1292.2 L1477.9,1291.5 L1478.9,1290.7 L1479.9,1289.9 L1480.9,1289.2 L1481.9,1288.4 L1482.9,1287.6 L1483.9,1286.8 L1484.9,1286.0 L1485.9,1285.2 L1486.9,1284.3 L1487.9,1283.4 L1488.9,1282.5 L1489.9,1281.5 L1490.9,1280.4 L1491.9,1279.3 L1492.9,1278.0 L1493.9,1276.7 L1494.9,1275.5 L1495.9,1274.2 L1496.9,1273.1 L1497.9,1272.0 L1498.9,1271.0 L1499.9,1270.1 L1500.9,1269.2 L1501.9,1268.2 L1502.9,1267.2 L1503.9,1266.1 L1504.9,1265.0 L1505.9,1263.9 L1506.9,1262.7 L1507.9,1261.5 L1508.9,1260.3 L1509.9,1259.0 L1510.9,1257.7 L1511.9,1256.4 L1512.9,1255.0 L1513.9,1253.6 L1514.9,1252.2 L1515.9,1250.8 L1516.9,1249.4 L1517.9,1247.9 L1518.9,1246.5 L1519.9,1245.0 L1520.9,1243.5 L1521.9,1242.0 L1522.9,1240.5 L1523.9,1239.0 L1524.9,1237.5 L1525.9,1235.9 L1526.9,1234.4 L1527.9,1232.9 L1528.9,1231.4 L1529.9,1229.9 L1530.9,1228.4 L1531.9,1226.8 L1532.9,1225.3 L1533.9,1223.8 L1534.9,1222.3 L1535.9,1220.8 L1536.9,1219.3 L1537.9,1217.8 L1538.9,1216.2 L1539.9,1214.7 L1540.9,1213.1 L1541.9,1211.6 L1542.9,1210.0 L1543.9,1208.4 L1544.9,1206.8 L1545.9,1205.2 L1546.9,1203.6 L1547.9,1202.0 L1548.9,1200.4 L1549.9,1198.8 L1550.9,1197.2 L1551.9,1195.6 L1552.9,1194.0 L1553.9,1192.4 L1554.9,1190.8 L1555.9,1189.2 L1556.9,1187.7 L1557.9,1186.1 L1558.9,1184.6 L1559.9,1183.0 L1560.9,1181.5 L1561.9,1180.0 L1562.9,1178.5 L1563.9,1177.0 L1564.9,1175.5 L1565.9,1174.0 L1566.9,1172.5 L1567.9,1171.0 L1568.9,1169.5 L1569.9,1167.9 L1570.9,1166.4 L1571.9,1164.9 L1572.9,1163.4 L1573.9,1161.9 L1574.9,1160.5 L1575.9,1159.0 L1576.9,1157.6 L1577.9,1156.2 L1578.9,1154.8 L1579.9,1153.4 L1580.9,1152.1 L1581.9,1150.8 L1582.9,1149.6 L1583.9,1148.4 L1584.9,1147.2 L1585.9,1146.1 L1586.9,1145.0 L1587.9,1143.9 L1588.9,1142.9 L1589.9,1141.9 L1590.9,1140.9 L1591.9,1139.9 L1592.9,1138.9 L1593.9,1137.9 L1594.9,1137.0 L1595.9,1136.1 L1596.9,1135.2 L1597.9,1134.4 L1598.9,1133.6 L1599.9,1132.8 L1600.9,1132.1 L1601.9,1131.4 L1602.9,1130.8 L1603.9,1130.2 L1604.9,1129.6 L1605.9,1129.1 L1606.9,1128.7 L1607.9,1128.2 L1608.9,1127.8 L1609.9,1127.4 L1610.9,1127.0 L1611.9,1126.6 L1612.9,1126.2 L1613.9,1125.9 L1614.9,1125.6 L1615.9,1125.3 L1616.9,1125.1 L1617.9,1124.9 L1618.9,1124.8 L1619.9,1124.7 L1620.9,1124.7 L1621.9,1124.7 L1622.9,1124.7 L1623.9,1124.9 L1624.9,1125.0 L1625.9,1125.2 L1626.9,1125.4 L1627.9,1125.7 L1628.9,1126.0 L1629.9,1126.3 L1630.9,1126.6 L1631.9,1127.0 L1632.9,1127.4 L1633.9,1127.7 L1634.9,1128.1 L1635.9,1128.5 L1636.9,1128.9 L1637.9,1129.3 L1638.9,1129.7 L1639.9,1130.2 L1640.9,1130.7 L1641.9,1131.2 L1642.9,1131.7 L1643.9,1132.2 L1644.9,1132.8 L1645.9,1133.4 L1646.9,1134.0 L1647.9,1134.7 L1648.9,1135.3 L1649.9,1136.0 L1650.9,1136.7 L1651.9,1137.5 L1652.9,1138.2 L1653.9,1139.0 L1654.9,1139.8 L1655.9,1140.6 L1656.9,1141.5 L1657.9,1142.4 L1658.9,1143.4 L1659.9,1144.4 L1660.9,1145.5 L1661.9,1146.6 L1662.9,1147.8 L1663.9,1149.0 L1664.9,1150.3 L1665.9,1151.7 L1666.9,1153.1 L1667.9,1154.6 L1668.9,1156.1 L1669.9,1157.6 L1670.9,1159.3 L1671.9,1160.9 L1672.9,1162.7 L1673.9,1164.5 L1674.9,1166.4 L1675.9,1168.4 L1676.9,1170.5 L1677.9,1172.7 L1678.9,1175.0 L1679.9,1177.3 L1680.9,1179.7 L1681.9,1182.0 L1682.9,1184.3 L1683.9,1186.6 L1684.9,1188.8 L1685.9,1190.9 L1686.9,1193.0 L1687.9,1195.0 L1688.9,1197.1 L1689.9,1199.1 L1690.9,1201.0 L1691.9,1203.0 L1692.9,1204.9 L1693.9,1206.9 L1694.9,1208.8 L1695.9,1210.7 L1696.9,1212.7 L1697.9,1214.6 L1698.9,1216.5 L1699.9,1218.3 L1700.9,1220.2 L1701.9,1222.1 L1702.9,1223.9 L1703.9,1225.8 L1704.9,1227.7 L1705.9,1229.6 L1706.9,1231.5 L1707.9,1233.5 L1708.9,1235.5 L1709.9,1237.5 L1710.9,1239.7 L1711.9,1241.8 L1712.9,1244.0 L1713.9,1246.2 L1714.9,1248.3 L1715.9,1250.5 L1716.9,1252.6 L1717.9,1254.6 L1718.9,1256.6 L1719.9,1258.5 L1720.9,1260.4 L1721.9,1262.2 L1722.9,1263.9 L1723.9,1265.5 L1724.9,1267.2 L1725.9,1268.8 L1726.9,1270.3 L1727.9,1271.8 L1728.9,1273.3 L1729.9,1274.8 L1730.9,1276.2 L1731.9,1277.6 L1732.9,1279.0 L1733.9,1280.3 L1734.9,1281.6 L1735.9,1282.9 L1736.9,1284.1 L1737.9,1285.4 L1738.9,1286.5 L1739.9,1287.7 L1740.9,1288.8 L1741.9,1289.9 L1742.9,1290.9 L1743.9,1291.9 L1744.9,1292.8 L1745.9,1293.7 L1746.9,1294.6 L1747.9,1295.4 L1748.9,1296.1 L1749.9,1296.8 L1750.9,1297.4 L1751.9,1297.9 L1752.9,1298.2 L1753.9,1298.5 L1754.9,1298.6 L1755.9,1298.7 L1756.9,1298.8 L1757.9,1298.8 L1758.9,1298.8 L1759.9,1298.8 L1760.9,1298.8 L1761.9,1298.8 L1762.9,1298.8 L1763.9,1298.8 L1764.9,1298.8 L1765.9,1298.8 L1766.9,1298.8 L1767.9,1298.8 L1768.9,1298.8 L1769.9,1298.8 L1770.9,1298.8 L1771.9,1298.8 L1772.9,1298.8 L1773.9,1298.8 L1774.9,1298.8 L1775.9,1298.8 L1776.9,1298.8 L1777.9,1298.8 L1778.9,1298.8 L1779.9,1298.8 L1780.9,1298.8 L1781.9,1298.8 L1782.9,1298.8 L1783.9,1298.8 L1784.9,1298.8 L1785.9,1298.8 L1786.9,1298.8 L1787.9,1298.8 L1788.9,1298.8 L1789.9,1298.8 L1790.9,1298.8 L1791.9,1298.8 L1792.9,1298.8 L1793.9,1298.8 L1794.9,1298.8 L1795.9,1298.8 L1796.9,1298.8 L1797.9,1298.8 L1798.9,1298.8 L1799.9,1298.8 L1800.9,1298.8 L1801.9,1298.8 L1802.9,1298.8 L1803.9,1298.8 L1804.9,1298.8 L1805.9,1298.8 L1806.9,1298.8 L1807.9,1298.8 L1808.9,1298.8 L1809.9,1298.8 L1810.9,1298.8 L1811.9,1298.8 L1812.9,1298.8 L1813.9,1298.8 L1814.9,1298.8 L1815.9,1298.8 L1816.9,1298.8 L1817.9,1298.8 L1818.9,1298.8 L1819.9,1298.8 L1820.9,1298.8 L1821.9,1298.8 L1822.9,1298.8 L1823.9,1298.8 L1824.9,1298.8 L1825.9,1298.8 L1826.9,1298.8 L1827.9,1298.8 L1828.9,1298.8 L1829.9,1298.8 L1830.9,1298.8 L1831.9,1298.8 L1832.9,1298.8 L1833.9,1298.8 L1834.9,1298.8 L1835.9,1298.8 L1836.9,1298.8 L1837.9,1298.8 L1838.9,1298.8 L1839.9,1298.8 L1840.9,1298.8 L1841.9,1298.8 L1842.9,1298.8 L1843.9,1298.8 L1844.9,1298.8 L1845.9,1298.8 L1846.9,1298.8 L1847.9,1298.8 L1848.9,1298.8 L1849.9,1298.8 L1850.9,1298.8 L1851.9,1298.8 L1852.9,1298.8 L1853.9,1298.8 L1854.9,1298.8 L1855.9,1298.8 L1856.9,1298.8 L1857.9,1298.8 L1858.9,1298.8 L1859.9,1298.8 L1860.9,1298.8 L1861.9,1298.8 L1862.9,1298.8 L1863.9,1298.8 L1864.9,1298.8 L1865.9,1298.8 L1866.9,1298.8 L1867.9,1298.8 L1868.9,1298.8 L1869.9,1298.8 L1870.9,1298.8 L1871.9,1298.8 L1872.9,1298.8 L1873.9,1298.8 L1874.9,1298.8 L1875.9,1298.8 L1876.9,1298.8 L1877.9,1298.8 L1878.9,1298.8 L1879.9,1298.8 L1880.9,1298.8 L1881.9,1298.8 L1882.9,1298.8 L1883.9,1298.8 L1884.9,1298.8 L1885.9,1298.8 L1886.9,1298.8 L1887.9,1298.8 L1888.9,1298.8 L1889.9,1298.8 L1890.9,1298.8 L1891.9,1298.8 L1892.9,1298.8 L1893.9,1298.8 L1894.9,1298.8 L1895.9,1298.8 L1896.9,1298.8 L1897.9,1298.8 L1898.9,1298.8 L1899.9,1298.8 L1900.9,1298.8 L1901.9,1298.8 L1902.9,1298.8 L1903.9,1298.8 L1904.9,1298.8 L1905.9,1298.8 L1906.9,1298.8 L1907.9,1298.8 L1908.9,1298.8 L1909.9,1298.8 L1910.9,1298.8 L1911.9,1298.8 L1912.9,1298.8 L1913.9,1298.8 L1914.9,1298.8 L1915.9,1298.8 L1916.9,1298.8 L1917.9,1298.8 L1918.9,1298.8 L1919.9,1298.8 L1920.9,1298.8 L1921.9,1298.8 L1922.9,1298.8 L1923.9,1298.8 L1924.9,1298.8 L1925.9,1298.8 L1926.9,1298.8 L1927.9,1298.8 L1928.9,1298.8 L1929.9,1298.8 L1930.9,1298.8 L1931.9,1298.8 L1932.9,1298.8 L1933.9,1298.8 L1934.9,1298.8 L1935.9,1298.8 L1936.9,1298.8 L1937.9,1298.8 L1938.9,1298.8 L1939.9,1298.8 L1940.9,1298.8 L1941.9,1298.8 L1942.9,1298.8 L1943.9,1298.8 L1944.9,1298.8 L1945.9,1298.8 L1946.9,1298.8 L1947.9,1298.8 L1948.9,1298.8 L1949.9,1298.8 L1950.9,1298.8 L1951.9,1298.8 L1952.9,1298.8 L1953.9,1298.8 L1954.9,1298.8 L1955.9,1298.8 L1956.9,1298.8 L1957.9,1298.8 L1958.9,1298.8 L1959.9,1298.8 L1960.9,1298.8 L1961.9,1298.8 L1962.9,1298.8 L1963.9,1298.8 L1964.9,1298.8 L1965.9,1298.8 L1966.9,1298.8 L1967.9,1298.8 L1968.9,1298.8 L1969.9,1298.8 L1970.9,1298.8 L1971.9,1298.8 L1972.9,1298.8 L1973.9,1298.8 L1974.9,1298.8 L1975.9,1298.8 L1976.9,1298.8 L1977.9,1298.8 L1978.9,1298.8 L1979.9,1298.8 L1980.9,1298.8 L1981.9,1298.8 L1982.9,1298.8 L1983.9,1298.8 L1984.9,1298.8 L1985.9,1298.8 L1986.9,1298.8 L1987.9,1298.8 L1988.9,1298.8 L1989.9,1298.8 L1990.9,1298.8 L1991.9,1298.8 L1992.9,1298.8 L1993.9,1298.8 L1994.9,1298.8 L1995.9,1298.8 L1996.9,1298.8 L1997.9,1298.8 L1998.9,1298.8 L1999.9,1298.8 L2000.9,1298.8 L2001.9,1298.8 L2002.9,1298.8 L2003.9,1298.8 L2004.9,1298.8 L2005.9,1298.8 L2006.9,1298.8 L2007.9,1298.8 L2008.9,1298.8 L2009.9,1298.8 L2010.9,1298.8 L2011.9,1298.8 L2012.9,1298.8 L2013.9,1298.8 L2014.9,1298.8 L2015.9,1298.8 L2016.9,1298.8 L2017.9,1298.8 L2018.9,1298.8 L2019.9,1298.8 L2020.9,1298.8 L2021.9,1298.8 L2022.9,1298.8 L2023.9,1298.8 L2024.9,1298.8 L2025.9,1298.8 L2026.9,1298.8 L2027.9,1298.8 L2028.9,1298.8 L2029.9,1298.8 L2030.9,1298.8 L2031.9,1298.8 L2032.9,1298.8 L2033.9,1298.8 L2034.9,1298.8 L2035.9,1298.8 L2036.9,1298.8 L2037.9,1298.8 L2038.9,1298.8 L2039.9,1298.8 L2040.9,1298.8 L2041.9,1298.8 L2042.9,1298.8 L2043.9,1298.8 L2044.9,1298.8 L2045.9,1298.8 L2046.9,1298.8 L2047.9,1298.8 L2048.9,1298.8 L2049.9,1298.8 L2050.9,1298.8 L2051.9,1298.8 L2052.9,1298.8 L2053.9,1298.8 L2054.9,1298.8 L2055.9,1298.8 L2056.9,1298.8 L2057.9,1298.8 L2058.9,1298.8 L2059.9,1298.8 L2060.9,1298.8 L2061.9,1298.8 L2062.9,1298.8 L2063.9,1298.8 L2064.9,1298.8 L2065.9,1298.8 L2066.9,1298.8 L2067.9,1298.8 L2068.9,1298.8 L2069.9,1298.8 L2070.9,1298.8 L2071.9,1298.8 L2072.9,1298.8 L2073.9,1298.8 L2074.9,1298.8 L2075.9,1298.8 L2076.9,1298.8 L2077.9,1298.8 L2078.9,1298.8 L2079.9,1298.8 L2080.9,1298.8 L2081.9,1298.8 L2082.9,1298.8 L2083.9,1298.8 L2084.9,1298.8 L2085.9,1298.8 L2086.9,1298.8 L2087.9,1298.8 L2088.9,1298.8 L2089.9,1298.8 L2090.9,1298.8 L2091.9,1298.8 L2092.9,1298.8 L2093.9,1298.8 L2094.9,1298.8 L2095.9,1298.8 L2096.9,1298.8 L2097.9,1298.8 L2098.9,1298.8 L2099.9,1298.8 L2100.9,1298.8 L2101.9,1298.8 L2102.9,1298.8 L2103.9,1298.8 L2104.9,1298.8 L2105.9,1298.8 L2106.9,1298.8 L2107.9,1298.8 L2108.9,1298.8 L2109.9,1298.8 L2110.9,1298.8 L2111.9,1298.8 L2112.9,1298.8 L2113.9,1298.8 L2114.9,1298.8 L2115.9,1298.8 L2116.9,1298.8 L2117.9,1298.8 L2118.9,1298.8 L2119.9,1298.8 L2120.9,1298.8 L2121.9,1298.8 L2122.9,1298.8 L2123.9,1298.8 L2124.9,1298.8 L2125.9,1298.8 L2126.9,1298.8 L2127.9,1298.8 L2128.9,1298.8 L2129.9,1298.8 L2130.9,1298.8 L2131.9,1298.8 L2132.9,1298.8 L2133.9,1298.8 L2134.9,1298.8 L2135.9,1298.8 L2136.9,1298.8 L2137.9,1298.8 L2138.9,1298.8 L2139.9,1298.8 L2140.9,1298.8 L2141.9,1298.8 L2142.9,1298.8 L2143.9,1298.8 L2144.9,1298.8 L2145.9,1298.8 L2146.9,1298.8 L2147.9,1298.8 L2148.9,1298.8 L2149.9,1298.8 L2150.9,1298.8 L2151.9,1298.8 L2152.9,1298.8 L2153.9,1298.8 L2154.9,1298.8 L2155.9,1298.8 L2156.9,1298.8 L2157.9,1298.8 L2158.9,1298.8 L2159.9,1298.8 L2160.9,1298.8 L2161.9,1298.8 L2162.9,1298.8 L2163.9,1298.8 L2164.9,1298.8 L2165.9,1298.8 L2166.9,1298.8 L2167.9,1298.8 L2168.9,1298.8 L2169.9,1298.8 L2170.9,1298.8 L2171.9,1298.8 L2172.9,1298.8 L2173.9,1298.8 L2174.9,1298.8 L2175.9,1298.8 L2176.9,1298.8 L2177.9,1298.8 L2178.9,1298.8 L2179.9,1298.8 L2180.9,1298.8 L2181.9,1298.8 L2182.9,1298.8 L2183.9,1298.8 L2184.9,1298.8 L2185.9,1298.8 L2186.9,1298.8 L2187.9,1298.8 L2188.9,1298.8 L2189.9,1298.8 L2190.9,1298.8 L2191.9,1298.8 L2192.9,1298.8 L2193.9,1298.8 L2194.9,1298.8 L2195.9,1298.8 L2196.9,1298.8 L2197.9,1298.8 L2198.9,1298.8 L2199.9,1298.8 L2200.9,1298.8 L2201.9,1298.8 L2202.9,1298.8 L2203.9,1298.8 L2204.9,1298.8 L2205.9,1298.8 L2206.9,1298.8 L2207.9,1298.8 L2208.9,1298.8 L2209.9,1298.8 L2210.9,1298.8 L2211.9,1298.8 L2212.9,1298.8 L2213.9,1298.8 L2214.9,1298.8 L2215.9,1298.8 L2216.9,1298.8 L2217.9,1298.8 L2218.9,1298.8 L2219.9,1298.8 L2220.9,1298.8 L2221.9,1298.8 L2222.9,1298.8 L2223.9,1298.8 L2224.9,1298.8 L2225.9,1298.8 L2226.9,1298.8 L2227.9,1298.8 L2228.9,1298.8 L2229.9,1298.8 L2230.9,1298.8 L2231.9,1298.8 L2232.9,1298.8 L2233.9,1298.8 L2234.9,1298.8 L2235.9,1298.8 L2236.9,1298.8 L2237.9,1298.8 L2238.9,1298.8 L2239.9,1298.8 L2240.9,1298.8 L2241.9,1298.8 L2242.9,1298.8 L2243.9,1298.8 L2244.9,1298.8 L2245.9,1298.8 L2246.9,1298.8 L2247.9,1298.8 L2248.9,1298.8 L2249.9,1298.8 L2250.9,1298.8 L2251.9,1298.8 L2252.9,1298.8 L2253.9,1298.8 L2254.9,1298.8 L2255.9,1298.8 L2256.9,1298.8 L2257.9,1298.8 L2258.9,1298.8 L2259.9,1298.8 L2260.9,1298.8 L2261.9,1298.8 L2262.9,1298.8 L2263.9,1298.8 L2264.9,1298.8 L2265.9,1298.8 L2266.9,1298.8 L2267.9,1298.8 L2268.9,1298.8 L2269.9,1298.8 L2270.9,1298.8 L2271.9,1298.8 L2272.9,1298.8 L2273.9,1298.8 L2274.9,1298.8 L2275.9,1298.8 L2276.9,1298.8 L2277.9,1298.8 L2278.9,1298.8 L2279.9,1298.8 L2280.9,1298.8 L2281.9,1298.8 L2282.9,1298.8 L2283.9,1298.8 L2284.9,1298.8 L2285.9,1298.8 L2286.9,1298.8 L2287.9,1298.8 L2288.9,1298.8 L2289.9,1298.8 L2290.9,1298.8 L2291.9,1298.8 L2292.9,1298.8 L2293.9,1298.8 L2294.9,1298.8 L2295.9,1298.8 L2296.9,1298.8 L2297.9,1298.8 L2298.9,1298.8 L2299.9,1298.8 L2300.9,1298.8 L2301.9,1298.8 L2302.9,1298.8 L2303.9,1298.8 L2304.9,1298.8 L2305.9,1298.8 L2306.9,1298.8 L2307.9,1298.8 L2308.9,1298.8 L2309.9,1298.8 L2310.9,1298.8 L2311.9,1298.8 L2312.9,1298.8 L2313.9,1298.8 L2314.9,1298.8 L2315.9,1298.8 L2316.9,1298.8 L2317.9,1298.8 L2318.9,1298.8 L2319.9,1298.8 L2320.9,1298.8 L2321.9,1298.8 L2322.9,1298.8 L2323.9,1298.8 L2324.9,1298.8 L2325.9,1298.8 L2326.9,1298.8 L2327.9,1298.8 L2328.9,1298.8 L2329.9,1298.8 L2330.9,1298.8 L2331.9,1298.8 L2332.9,1298.8 L2333.9,1298.8 L2334.9,1298.8 L2335.9,1298.8 L2336.9,1298.8 L2337.9,1298.8 L2338.9,1298.8 L2339.9,1298.8 L2340.0,1298.8" stroke="#00b0f0" stroke-width="13.5" stroke-linecap="round" stroke-dasharray="27 27.3" stroke-dashoffset="52.2"/>
</g>
<rect x="716.0" y="320.3" width="809.7" height="767.9000000000001" fill="#fff" stroke="none"/>
<g stroke="#000" stroke-width="11.3" fill="none">
<rect x="716.0" y="320.3" width="809.7" height="767.9000000000001"/>
<line x1="716.0" y1="1088.2" x2="716.0" y2="1111.2"/>
<line x1="984.8" y1="1088.2" x2="984.8" y2="1111.2"/>
<line x1="1257.2" y1="1088.2" x2="1257.2" y2="1111.2"/>
<line x1="1525.7" y1="1088.2" x2="1525.7" y2="1111.2"/>
<line x1="695" y1="636.5" x2="716.0" y2="636.5"/>
<line x1="695" y1="1088.2" x2="716.0" y2="1088.2"/>
</g>
<g clip-path="url(#ci)" fill="none" stroke-linejoin="round">
<path d="M700.0,1088.7 L701.0,1088.7 L702.0,1088.7 L703.0,1088.7 L704.0,1088.7 L705.0,1088.7 L706.0,1088.7 L707.0,1088.7 L708.0,1088.7 L709.0,1088.7 L710.0,1088.7 L711.0,1088.7 L712.0,1088.7 L713.0,1088.7 L714.0,1088.7 L715.0,1088.7 L716.0,1088.7 L717.0,1088.7 L718.0,1088.7 L719.0,1088.7 L720.0,1088.7 L721.0,1088.7 L722.0,1088.7 L723.0,1088.7 L724.0,1088.7 L725.0,1088.7 L726.0,1088.7 L727.0,1088.7 L728.0,1088.7 L729.0,1088.7 L730.0,1088.7 L731.0,1088.7 L732.0,1088.7 L733.0,1088.7 L734.0,1088.7 L735.0,1088.6 L736.0,1088.6 L737.0,1088.5 L738.0,1088.4 L739.0,1088.3 L740.0,1088.1 L741.0,1087.9 L742.0,1087.7 L743.0,1087.5 L744.0,1087.2 L745.0,1086.9 L746.0,1086.6 L747.0,1086.2 L748.0,1085.8 L749.0,1085.3 L750.0,1084.8 L751.0,1084.2 L752.0,1083.6 L753.0,1082.9 L754.0,1082.2 L755.0,1081.5 L756.0,1080.7 L757.0,1079.9 L758.0,1079.1 L759.0,1078.2 L760.0,1077.3 L761.0,1076.3 L762.0,1075.2 L763.0,1074.1 L764.0,1072.9 L765.0,1071.5 L766.0,1070.1 L767.0,1068.5 L768.0,1066.8 L769.0,1064.8 L770.0,1062.7 L771.0,1060.4 L772.0,1057.9 L773.0,1055.3 L774.0,1052.5 L775.0,1049.6 L776.0,1046.6 L777.0,1043.6 L778.0,1040.5 L779.0,1037.4 L780.0,1034.3 L781.0,1031.2 L782.0,1028.0 L783.0,1024.9 L784.0,1021.6 L785.0,1018.4 L786.0,1015.0 L787.0,1011.7 L788.0,1008.2 L789.0,1004.8 L790.0,1001.3 L791.0,997.9 L792.0,994.5 L793.0,991.1 L794.0,987.7 L795.0,984.4 L796.0,981.2 L797.0,978.0 L798.0,974.9 L799.0,971.8 L800.0,968.7 L801.0,965.7 L802.0,962.7 L803.0,959.7 L804.0,956.8 L805.0,953.9 L806.0,951.0 L807.0,948.2 L808.0,945.3 L809.0,942.5 L810.0,939.7 L811.0,937.0 L812.0,934.3 L813.0,931.6 L814.0,928.9 L815.0,926.3 L816.0,923.7 L817.0,921.1 L818.0,918.5 L819.0,916.0 L820.0,913.4 L821.0,910.9 L822.0,908.4 L823.0,905.9 L824.0,903.5 L825.0,901.0 L826.0,898.6 L827.0,896.2 L828.0,893.9 L829.0,891.5 L830.0,889.2 L831.0,887.0 L832.0,884.8 L833.0,882.6 L834.0,880.4 L835.0,878.3 L836.0,876.2 L837.0,874.2 L838.0,872.2 L839.0,870.3 L840.0,868.3 L841.0,866.4 L842.0,864.6 L843.0,862.7 L844.0,860.9 L845.0,859.1 L846.0,857.3 L847.0,855.6 L848.0,853.8 L849.0,852.1 L850.0,850.4 L851.0,848.8 L852.0,847.1 L853.0,845.4 L854.0,843.8 L855.0,842.2 L856.0,840.6 L857.0,839.0 L858.0,837.4 L859.0,835.9 L860.0,834.3 L861.0,832.8 L862.0,831.2 L863.0,829.7 L864.0,828.2 L865.0,826.7 L866.0,825.2 L867.0,823.7 L868.0,822.2 L869.0,820.7 L870.0,819.3 L871.0,817.9 L872.0,816.4 L873.0,815.0 L874.0,813.7 L875.0,812.3 L876.0,811.0 L877.0,809.6 L878.0,808.3 L879.0,807.0 L880.0,805.8 L881.0,804.5 L882.0,803.2 L883.0,802.0 L884.0,800.7 L885.0,799.5 L886.0,798.3 L887.0,797.0 L888.0,795.8 L889.0,794.6 L890.0,793.3 L891.0,792.1 L892.0,790.8 L893.0,789.6 L894.0,788.3 L895.0,787.0 L896.0,785.7 L897.0,784.4 L898.0,783.1 L899.0,781.7 L900.0,780.4 L901.0,779.0 L902.0,777.6 L903.0,776.2 L904.0,774.7 L905.0,773.2 L906.0,771.7 L907.0,770.2 L908.0,768.6 L909.0,767.1 L910.0,765.4 L911.0,763.8 L912.0,762.2 L913.0,760.5 L914.0,758.8 L915.0,757.1 L916.0,755.4 L917.0,753.6 L918.0,751.8 L919.0,750.0 L920.0,748.2 L921.0,746.3 L922.0,744.4 L923.0,742.5 L924.0,740.6 L925.0,738.6 L926.0,736.6 L927.0,734.6 L928.0,732.5 L929.0,730.4 L930.0,728.3 L931.0,726.1 L932.0,723.9 L933.0,721.6 L934.0,719.3 L935.0,717.0 L936.0,714.5 L937.0,712.0 L938.0,709.5 L939.0,706.8 L940.0,704.0 L941.0,701.2 L942.0,698.3 L943.0,695.4 L944.0,692.4 L945.0,689.3 L946.0,686.3 L947.0,683.2 L948.0,680.1 L949.0,677.0 L950.0,673.9 L951.0,670.8 L952.0,667.8 L953.0,664.7 L954.0,661.7 L955.0,658.7 L956.0,655.7 L957.0,652.7 L958.0,649.7 L959.0,646.6 L960.0,643.6 L961.0,640.5 L962.0,637.5 L963.0,634.4 L964.0,631.3 L965.0,628.2 L966.0,625.0 L967.0,621.9 L968.0,618.7 L969.0,615.4 L970.0,612.1 L971.0,608.8 L972.0,605.4 L973.0,602.0 L974.0,598.6 L975.0,595.1 L976.0,591.6 L977.0,588.1 L978.0,584.6 L979.0,581.1 L980.0,577.6 L981.0,574.1 L982.0,570.7 L983.0,567.4 L984.0,564.1 L985.0,560.8 L986.0,557.6 L987.0,554.4 L988.0,551.3 L989.0,548.2 L990.0,545.2 L991.0,542.1 L992.0,539.1 L993.0,536.1 L994.0,533.1 L995.0,530.2 L996.0,527.2 L997.0,524.3 L998.0,521.4 L999.0,518.5 L1000.0,515.6 L1001.0,512.7 L1002.0,509.8 L1003.0,506.9 L1004.0,504.0 L1005.0,501.1 L1006.0,498.2 L1007.0,495.3 L1008.0,492.3 L1009.0,489.4 L1010.0,486.5 L1011.0,483.6 L1012.0,480.8 L1013.0,477.9 L1014.0,475.2 L1015.0,472.5 L1016.0,469.8 L1017.0,467.2 L1018.0,464.7 L1019.0,462.3 L1020.0,460.0 L1021.0,457.7 L1022.0,455.5 L1023.0,453.4 L1024.0,451.4 L1025.0,449.4 L1026.0,447.5 L1027.0,445.6 L1028.0,443.7 L1029.0,441.9 L1030.0,440.2 L1031.0,438.4 L1032.0,436.7 L1033.0,435.0 L1034.0,433.4 L1035.0,431.7 L1036.0,430.1 L1037.0,428.5 L1038.0,426.9 L1039.0,425.3 L1040.0,423.6 L1041.0,422.0 L1042.0,420.4 L1043.0,418.8 L1044.0,417.2 L1045.0,415.6 L1046.0,414.1 L1047.0,412.8 L1048.0,411.5 L1049.0,410.3 L1050.0,409.3 L1051.0,408.3 L1052.0,407.5 L1053.0,406.7 L1054.0,406.0 L1055.0,405.3 L1056.0,404.7 L1057.0,404.1 L1058.0,403.6 L1059.0,403.2 L1060.0,402.9 L1061.0,402.7 L1062.0,402.6 L1063.0,402.6 L1064.0,402.7 L1065.0,402.9 L1066.0,403.2 L1067.0,403.6 L1068.0,404.1 L1069.0,404.7 L1070.0,405.3 L1071.0,406.0 L1072.0,406.7 L1073.0,407.5 L1074.0,408.4 L1075.0,409.3 L1076.0,410.4 L1077.0,411.5 L1078.0,412.8 L1079.0,414.2 L1080.0,415.7 L1081.0,417.3 L1082.0,418.9 L1083.0,420.6 L1084.0,422.3 L1085.0,424.0 L1086.0,425.7 L1087.0,427.4 L1088.0,429.1 L1089.0,430.8 L1090.0,432.5 L1091.0,434.3 L1092.0,436.1 L1093.0,437.9 L1094.0,439.8 L1095.0,441.7 L1096.0,443.7 L1097.0,445.7 L1098.0,447.8 L1099.0,450.0 L1100.0,452.2 L1101.0,454.5 L1102.0,456.8 L1103.0,459.3 L1104.0,461.8 L1105.0,464.4 L1106.0,467.1 L1107.0,469.9 L1108.0,472.8 L1109.0,475.8 L1110.0,478.9 L1111.0,482.1 L1112.0,485.3 L1113.0,488.7 L1114.0,492.2 L1115.0,495.7 L1116.0,499.4 L1117.0,503.2 L1118.0,507.2 L1119.0,511.3 L1120.0,515.6 L1121.0,520.1 L1122.0,524.8 L1123.0,529.7 L1124.0,534.8 L1125.0,540.0 L1126.0,545.2 L1127.0,550.6 L1128.0,556.0 L1129.0,561.4 L1130.0,566.9 L1131.0,572.5 L1132.0,578.1 L1133.0,583.7 L1134.0,589.4 L1135.0,595.2 L1136.0,600.9 L1137.0,606.6 L1138.0,612.4 L1139.0,618.1 L1140.0,623.8 L1141.0,629.5 L1142.0,635.2 L1143.0,641.0 L1144.0,646.7 L1145.0,652.5 L1146.0,658.4 L1147.0,664.3 L1148.0,670.3 L1149.0,676.4 L1150.0,682.5 L1151.0,688.7 L1152.0,695.0 L1153.0,701.5 L1154.0,708.0 L1155.0,714.8 L1156.0,721.7 L1157.0,728.7 L1158.0,735.8 L1159.0,743.0 L1160.0,750.2 L1161.0,757.3 L1162.0,764.3 L1163.0,771.1 L1164.0,777.7 L1165.0,784.2 L1166.0,790.6 L1167.0,796.9 L1168.0,803.2 L1169.0,809.6 L1170.0,815.9 L1171.0,822.3 L1172.0,828.9 L1173.0,835.4 L1174.0,842.0 L1175.0,848.6 L1176.0,855.2 L1177.0,861.7 L1178.0,868.1 L1179.0,874.3 L1180.0,880.5 L1181.0,886.5 L1182.0,892.4 L1183.0,898.3 L1184.0,904.0 L1185.0,909.6 L1186.0,915.2 L1187.0,920.6 L1188.0,926.0 L1189.0,931.3 L1190.0,936.5 L1191.0,941.7 L1192.0,946.7 L1193.0,951.7 L1194.0,956.7 L1195.0,961.6 L1196.0,966.4 L1197.0,971.3 L1198.0,976.0 L1199.0,980.8 L1200.0,985.6 L1201.0,990.3 L1202.0,995.0 L1203.0,999.7 L1204.0,1004.3 L1205.0,1008.8 L1206.0,1013.1 L1207.0,1017.4 L1208.0,1021.5 L1209.0,1025.5 L1210.0,1029.3 L1211.0,1033.1 L1212.0,1036.7 L1213.0,1040.3 L1214.0,1043.7 L1215.0,1047.1 L1216.0,1050.3 L1217.0,1053.4 L1218.0,1056.4 L1219.0,1059.1 L1220.0,1061.7 L1221.0,1064.1 L1222.0,1066.2 L1223.0,1068.2 L1224.0,1069.9 L1225.0,1071.6 L1226.0,1073.1 L1227.0,1074.5 L1228.0,1075.9 L1229.0,1077.1 L1230.0,1078.2 L1231.0,1079.3 L1232.0,1080.3 L1233.0,1081.2 L1234.0,1082.0 L1235.0,1082.7 L1236.0,1083.3 L1237.0,1083.9 L1238.0,1084.4 L1239.0,1084.9 L1240.0,1085.4 L1241.0,1085.9 L1242.0,1086.3 L1243.0,1086.7 L1244.0,1087.1 L1245.0,1087.4 L1246.0,1087.7 L1247.0,1087.9 L1248.0,1088.2 L1249.0,1088.3 L1250.0,1088.5 L1251.0,1088.6 L1252.0,1088.6 L1253.0,1088.7 L1254.0,1088.7 L1255.0,1088.7 L1256.0,1088.7 L1257.0,1088.7 L1258.0,1088.7 L1259.0,1088.7 L1260.0,1088.7 L1261.0,1088.7 L1262.0,1088.7 L1263.0,1088.7 L1264.0,1088.7 L1265.0,1088.7 L1266.0,1088.7 L1267.0,1088.7 L1268.0,1088.7 L1269.0,1088.7 L1270.0,1088.7 L1271.0,1088.7 L1272.0,1088.7 L1273.0,1088.7 L1274.0,1088.7 L1275.0,1088.7 L1276.0,1088.7 L1277.0,1088.7 L1278.0,1088.7 L1279.0,1088.7 L1280.0,1088.7 L1281.0,1088.7 L1282.0,1088.7 L1283.0,1088.7 L1284.0,1088.7 L1285.0,1088.7 L1286.0,1088.7 L1287.0,1088.7 L1288.0,1088.7 L1289.0,1088.7 L1290.0,1088.7 L1291.0,1088.7 L1292.0,1088.7 L1293.0,1088.7 L1294.0,1088.7 L1295.0,1088.7 L1296.0,1088.7 L1297.0,1088.7 L1298.0,1088.7 L1299.0,1088.7 L1300.0,1088.7 L1301.0,1088.7 L1302.0,1088.7 L1303.0,1088.7 L1304.0,1088.7 L1305.0,1088.7 L1306.0,1088.7 L1307.0,1088.7 L1308.0,1088.7 L1309.0,1088.7 L1310.0,1088.7 L1311.0,1088.7 L1312.0,1088.7 L1313.0,1088.7 L1314.0,1088.7 L1315.0,1088.7 L1316.0,1088.6 L1317.0,1088.5 L1318.0,1088.3 L1319.0,1088.0 L1320.0,1087.5 L1321.0,1086.9 L1322.0,1086.1 L1323.0,1085.1 L1324.0,1084.0 L1325.0,1082.8 L1326.0,1081.5 L1327.0,1080.1 L1328.0,1078.6 L1329.0,1077.0 L1330.0,1075.2 L1331.0,1073.3 L1332.0,1071.3 L1333.0,1069.1 L1334.0,1066.9 L1335.0,1064.6 L1336.0,1062.2 L1337.0,1059.8 L1338.0,1057.4 L1339.0,1055.0 L1340.0,1052.5 L1341.0,1050.1 L1342.0,1047.6 L1343.0,1045.2 L1344.0,1042.7 L1345.0,1040.1 L1346.0,1037.6 L1347.0,1035.0 L1348.0,1032.4 L1349.0,1029.8 L1350.0,1027.2 L1351.0,1024.6 L1352.0,1022.0 L1353.0,1019.3 L1354.0,1016.7 L1355.0,1014.1 L1356.0,1011.4 L1357.0,1008.8 L1358.0,1006.2 L1359.0,1003.6 L1360.0,1000.9 L1361.0,998.3 L1362.0,995.6 L1363.0,993.0 L1364.0,990.3 L1365.0,987.6 L1366.0,984.9 L1367.0,982.2 L1368.0,979.5 L1369.0,976.8 L1370.0,974.2 L1371.0,971.5 L1372.0,968.9 L1373.0,966.3 L1374.0,963.7 L1375.0,961.2 L1376.0,958.8 L1377.0,956.3 L1378.0,954.0 L1379.0,951.6 L1380.0,949.3 L1381.0,947.0 L1382.0,944.7 L1383.0,942.4 L1384.0,940.1 L1385.0,937.8 L1386.0,935.5 L1387.0,933.3 L1388.0,931.1 L1389.0,929.0 L1390.0,926.9 L1391.0,924.9 L1392.0,923.0 L1393.0,921.1 L1394.0,919.4 L1395.0,917.7 L1396.0,916.1 L1397.0,914.6 L1398.0,913.2 L1399.0,911.9 L1400.0,910.6 L1401.0,909.4 L1402.0,908.2 L1403.0,907.1 L1404.0,905.9 L1405.0,904.8 L1406.0,903.7 L1407.0,902.6 L1408.0,901.6 L1409.0,900.6 L1410.0,899.7 L1411.0,898.8 L1412.0,898.0 L1413.0,897.2 L1414.0,896.5 L1415.0,895.9 L1416.0,895.4 L1417.0,894.9 L1418.0,894.6 L1419.0,894.3 L1420.0,894.2 L1421.0,894.1 L1422.0,894.2 L1423.0,894.3 L1424.0,894.6 L1425.0,894.9 L1426.0,895.4 L1427.0,895.9 L1428.0,896.5 L1429.0,897.2 L1430.0,897.9 L1431.0,898.7 L1432.0,899.6 L1433.0,900.6 L1434.0,901.5 L1435.0,902.6 L1436.0,903.7 L1437.0,904.8 L1438.0,905.9 L1439.0,907.1 L1440.0,908.3 L1441.0,909.6 L1442.0,910.9 L1443.0,912.3 L1444.0,913.9 L1445.0,915.5 L1446.0,917.3 L1447.0,919.3 L1448.0,921.4 L1449.0,923.7 L1450.0,926.1 L1451.0,928.6 L1452.0,931.3 L1453.0,933.9 L1454.0,936.7 L1455.0,939.4 L1456.0,942.2 L1457.0,945.0 L1458.0,947.7 L1459.0,950.5 L1460.0,953.2 L1461.0,956.0 L1462.0,958.8 L1463.0,961.7 L1464.0,964.5 L1465.0,967.4 L1466.0,970.4 L1467.0,973.4 L1468.0,976.3 L1469.0,979.3 L1470.0,982.4 L1471.0,985.4 L1472.0,988.4 L1473.0,991.4 L1474.0,994.4 L1475.0,997.4 L1476.0,1000.4 L1477.0,1003.3 L1478.0,1006.3 L1479.0,1009.4 L1480.0,1012.4 L1481.0,1015.5 L1482.0,1018.6 L1483.0,1021.6 L1484.0,1024.7 L1485.0,1027.8 L1486.0,1030.9 L1487.0,1033.9 L1488.0,1036.8 L1489.0,1039.7 L1490.0,1042.5 L1491.0,1045.1 L1492.0,1047.7 L1493.0,1050.2 L1494.0,1052.5 L1495.0,1054.7 L1496.0,1056.8 L1497.0,1058.8 L1498.0,1060.8 L1499.0,1062.6 L1500.0,1064.4 L1501.0,1066.2 L1502.0,1067.8 L1503.0,1069.4 L1504.0,1070.9 L1505.0,1072.3 L1506.0,1073.6 L1507.0,1074.9 L1508.0,1076.0 L1509.0,1077.1 L1510.0,1078.1 L1511.0,1079.1 L1512.0,1080.0 L1513.0,1080.8 L1514.0,1081.6 L1515.0,1082.4 L1516.0,1083.1 L1517.0,1083.7 L1518.0,1084.3 L1519.0,1084.9 L1520.0,1085.5 L1521.0,1086.1 L1522.0,1086.6 L1523.0,1087.0 L1524.0,1087.5 L1525.0,1087.8 L1526.0,1088.1 L1527.0,1088.3 L1528.0,1088.5 L1529.0,1088.6 L1530.0,1088.7 L1531.0,1088.7 L1532.0,1088.7 L1533.0,1088.7 L1534.0,1088.7 L1535.0,1088.7 L1536.0,1088.7 L1537.0,1088.7 L1538.0,1088.7 L1539.0,1088.7 L1540.0,1088.7 L1541.0,1088.7 L1542.0,1088.7 L1543.0,1088.7 L1544.0,1088.7 L1545.0,1088.7 L1546.0,1088.7 L1547.0,1088.7 L1548.0,1088.7 L1549.0,1088.7 L1550.0,1088.7 L1551.0,1088.7 L1552.0,1088.7 L1553.0,1088.7 L1554.0,1088.7 L1555.0,1088.7 L1556.0,1088.7 L1557.0,1088.7 L1558.0,1088.7 L1559.0,1088.7 L1560.0,1088.7" stroke="#ff33cc" stroke-width="19.5"/>
<path d="M700.0,1088.7 L701.0,1088.7 L702.0,1088.7 L703.0,1088.7 L704.0,1088.7 L705.0,1088.7 L706.0,1088.7 L707.0,1088.7 L708.0,1088.7 L709.0,1088.7 L710.0,1088.7 L711.0,1088.7 L712.0,1088.7 L713.0,1088.7 L714.0,1088.6 L715.0,1088.6 L716.0,1088.5 L717.0,1088.3 L718.0,1088.1 L719.0,1087.8 L720.0,1087.4 L721.0,1086.9 L722.0,1086.5 L723.0,1086.0 L724.0,1085.5 L725.0,1085.1 L726.0,1084.6 L727.0,1084.1 L728.0,1083.7 L729.0,1083.2 L730.0,1082.7 L731.0,1082.2 L732.0,1081.7 L733.0,1081.1 L734.0,1080.5 L735.0,1079.9 L736.0,1079.3 L737.0,1078.6 L738.0,1078.0 L739.0,1077.3 L740.0,1076.5 L741.0,1075.7 L742.0,1074.9 L743.0,1074.0 L744.0,1073.1 L745.0,1072.0 L746.0,1070.9 L747.0,1069.7 L748.0,1068.4 L749.0,1066.9 L750.0,1065.3 L751.0,1063.5 L752.0,1061.5 L753.0,1059.3 L754.0,1057.0 L755.0,1054.5 L756.0,1052.0 L757.0,1049.3 L758.0,1046.6 L759.0,1043.8 L760.0,1041.0 L761.0,1038.2 L762.0,1035.4 L763.0,1032.5 L764.0,1029.7 L765.0,1026.9 L766.0,1024.1 L767.0,1021.2 L768.0,1018.3 L769.0,1015.4 L770.0,1012.4 L771.0,1009.4 L772.0,1006.4 L773.0,1003.3 L774.0,1000.1 L775.0,997.0 L776.0,993.7 L777.0,990.5 L778.0,987.2 L779.0,983.8 L780.0,980.3 L781.0,976.8 L782.0,973.2 L783.0,969.5 L784.0,965.7 L785.0,961.9 L786.0,957.9 L787.0,953.9 L788.0,950.0 L789.0,946.0 L790.0,942.1 L791.0,938.2 L792.0,934.5 L793.0,930.8 L794.0,927.3 L795.0,923.9 L796.0,920.6 L797.0,917.4 L798.0,914.2 L799.0,911.1 L800.0,908.1 L801.0,905.2 L802.0,902.3 L803.0,899.4 L804.0,896.6 L805.0,893.8 L806.0,891.0 L807.0,888.3 L808.0,885.6 L809.0,882.9 L810.0,880.3 L811.0,877.6 L812.0,875.0 L813.0,872.5 L814.0,869.9 L815.0,867.4 L816.0,864.9 L817.0,862.4 L818.0,859.9 L819.0,857.5 L820.0,855.1 L821.0,852.7 L822.0,850.3 L823.0,847.9 L824.0,845.6 L825.0,843.3 L826.0,841.0 L827.0,838.7 L828.0,836.4 L829.0,834.1 L830.0,831.9 L831.0,829.6 L832.0,827.4 L833.0,825.2 L834.0,823.0 L835.0,820.8 L836.0,818.6 L837.0,816.4 L838.0,814.3 L839.0,812.1 L840.0,810.0 L841.0,807.9 L842.0,805.9 L843.0,803.8 L844.0,801.8 L845.0,799.7 L846.0,797.7 L847.0,795.7 L848.0,793.6 L849.0,791.6 L850.0,789.6 L851.0,787.5 L852.0,785.4 L853.0,783.3 L854.0,781.2 L855.0,779.1 L856.0,777.0 L857.0,774.8 L858.0,772.6 L859.0,770.3 L860.0,768.0 L861.0,765.7 L862.0,763.3 L863.0,760.9 L864.0,758.5 L865.0,756.0 L866.0,753.5 L867.0,750.9 L868.0,748.4 L869.0,745.8 L870.0,743.2 L871.0,740.6 L872.0,738.0 L873.0,735.5 L874.0,732.9 L875.0,730.4 L876.0,727.8 L877.0,725.3 L878.0,722.9 L879.0,720.5 L880.0,718.1 L881.0,715.8 L882.0,713.5 L883.0,711.2 L884.0,709.0 L885.0,706.8 L886.0,704.7 L887.0,702.5 L888.0,700.4 L889.0,698.3 L890.0,696.3 L891.0,694.2 L892.0,692.1 L893.0,690.1 L894.0,688.0 L895.0,685.9 L896.0,683.9 L897.0,681.8 L898.0,679.7 L899.0,677.5 L900.0,675.4 L901.0,673.2 L902.0,671.0 L903.0,668.8 L904.0,666.5 L905.0,664.2 L906.0,661.8 L907.0,659.5 L908.0,657.1 L909.0,654.7 L910.0,652.2 L911.0,649.8 L912.0,647.3 L913.0,644.8 L914.0,642.3 L915.0,639.8 L916.0,637.3 L917.0,634.7 L918.0,632.2 L919.0,629.6 L920.0,627.0 L921.0,624.4 L922.0,621.9 L923.0,619.3 L924.0,616.7 L925.0,614.0 L926.0,611.4 L927.0,608.7 L928.0,606.1 L929.0,603.3 L930.0,600.6 L931.0,597.8 L932.0,595.0 L933.0,592.2 L934.0,589.5 L935.0,586.7 L936.0,583.9 L937.0,581.2 L938.0,578.5 L939.0,575.8 L940.0,573.2 L941.0,570.6 L942.0,568.1 L943.0,565.7 L944.0,563.3 L945.0,561.0 L946.0,558.7 L947.0,556.5 L948.0,554.3 L949.0,552.1 L950.0,550.0 L951.0,547.9 L952.0,545.8 L953.0,543.7 L954.0,541.6 L955.0,539.6 L956.0,537.6 L957.0,535.6 L958.0,533.7 L959.0,531.8 L960.0,529.9 L961.0,528.0 L962.0,526.2 L963.0,524.3 L964.0,522.6 L965.0,520.8 L966.0,519.1 L967.0,517.4 L968.0,515.7 L969.0,514.1 L970.0,512.5 L971.0,510.9 L972.0,509.4 L973.0,507.8 L974.0,506.3 L975.0,504.8 L976.0,503.4 L977.0,501.9 L978.0,500.5 L979.0,499.2 L980.0,497.9 L981.0,496.6 L982.0,495.5 L983.0,494.4 L984.0,493.4 L985.0,492.4 L986.0,491.5 L987.0,490.7 L988.0,489.9 L989.0,489.1 L990.0,488.3 L991.0,487.5 L992.0,486.8 L993.0,486.1 L994.0,485.4 L995.0,484.7 L996.0,484.0 L997.0,483.4 L998.0,482.9 L999.0,482.3 L1000.0,481.8 L1001.0,481.4 L1002.0,481.0 L1003.0,480.7 L1004.0,480.4 L1005.0,480.2 L1006.0,480.1 L1007.0,480.0 L1008.0,480.0 L1009.0,480.1 L1010.0,480.2 L1011.0,480.4 L1012.0,480.6 L1013.0,480.9 L1014.0,481.3 L1015.0,481.7 L1016.0,482.2 L1017.0,482.7 L1018.0,483.2 L1019.0,483.8 L1020.0,484.4 L1021.0,485.1 L1022.0,485.8 L1023.0,486.5 L1024.0,487.3 L1025.0,488.1 L1026.0,488.9 L1027.0,489.7 L1028.0,490.7 L1029.0,491.6 L1030.0,492.7 L1031.0,493.9 L1032.0,495.2 L1033.0,496.7 L1034.0,498.3 L1035.0,500.0 L1036.0,501.9 L1037.0,503.8 L1038.0,505.8 L1039.0,507.9 L1040.0,510.1 L1041.0,512.3 L1042.0,514.6 L1043.0,517.0 L1044.0,519.5 L1045.0,522.1 L1046.0,524.7 L1047.0,527.5 L1048.0,530.3 L1049.0,533.1 L1050.0,536.1 L1051.0,539.1 L1052.0,542.1 L1053.0,545.3 L1054.0,548.4 L1055.0,551.6 L1056.0,554.9 L1057.0,558.2 L1058.0,561.6 L1059.0,565.0 L1060.0,568.5 L1061.0,572.2 L1062.0,575.9 L1063.0,579.7 L1064.0,583.6 L1065.0,587.5 L1066.0,591.5 L1067.0,595.5 L1068.0,599.5 L1069.0,603.5 L1070.0,607.5 L1071.0,611.5 L1072.0,615.5 L1073.0,619.4 L1074.0,623.4 L1075.0,627.3 L1076.0,631.2 L1077.0,635.2 L1078.0,639.1 L1079.0,643.1 L1080.0,647.1 L1081.0,651.1 L1082.0,655.2 L1083.0,659.4 L1084.0,663.5 L1085.0,667.8 L1086.0,672.0 L1087.0,676.4 L1088.0,680.8 L1089.0,685.2 L1090.0,689.7 L1091.0,694.2 L1092.0,698.8 L1093.0,703.4 L1094.0,708.1 L1095.0,712.8 L1096.0,717.6 L1097.0,722.5 L1098.0,727.4 L1099.0,732.3 L1100.0,737.4 L1101.0,742.4 L1102.0,747.6 L1103.0,752.8 L1104.0,758.0 L1105.0,763.3 L1106.0,768.6 L1107.0,774.1 L1108.0,779.6 L1109.0,785.1 L1110.0,790.7 L1111.0,796.3 L1112.0,801.9 L1113.0,807.4 L1114.0,812.8 L1115.0,818.2 L1116.0,823.5 L1117.0,828.7 L1118.0,833.8 L1119.0,838.9 L1120.0,843.8 L1121.0,848.8 L1122.0,853.7 L1123.0,858.6 L1124.0,863.6 L1125.0,868.5 L1126.0,873.4 L1127.0,878.3 L1128.0,883.3 L1129.0,888.2 L1130.0,893.1 L1131.0,898.1 L1132.0,903.1 L1133.0,908.2 L1134.0,913.4 L1135.0,918.7 L1136.0,924.2 L1137.0,929.8 L1138.0,935.5 L1139.0,941.4 L1140.0,947.4 L1141.0,953.3 L1142.0,959.2 L1143.0,964.9 L1144.0,970.4 L1145.0,975.6 L1146.0,980.6 L1147.0,985.4 L1148.0,990.0 L1149.0,994.4 L1150.0,998.7 L1151.0,1002.8 L1152.0,1006.8 L1153.0,1010.7 L1154.0,1014.5 L1155.0,1018.1 L1156.0,1021.7 L1157.0,1025.1 L1158.0,1028.5 L1159.0,1031.8 L1160.0,1035.0 L1161.0,1038.1 L1162.0,1041.2 L1163.0,1044.3 L1164.0,1047.2 L1165.0,1050.1 L1166.0,1052.8 L1167.0,1055.5 L1168.0,1058.0 L1169.0,1060.5 L1170.0,1062.7 L1171.0,1064.9 L1172.0,1066.8 L1173.0,1068.7 L1174.0,1070.5 L1175.0,1072.1 L1176.0,1073.7 L1177.0,1075.1 L1178.0,1076.5 L1179.0,1077.8 L1180.0,1079.0 L1181.0,1080.1 L1182.0,1081.1 L1183.0,1082.0 L1184.0,1082.8 L1185.0,1083.5 L1186.0,1084.2 L1187.0,1084.8 L1188.0,1085.4 L1189.0,1086.0 L1190.0,1086.5 L1191.0,1087.0 L1192.0,1087.4 L1193.0,1087.8 L1194.0,1088.1 L1195.0,1088.3 L1196.0,1088.4 L1197.0,1088.6 L1198.0,1088.6 L1199.0,1088.7 L1200.0,1088.7 L1201.0,1088.7 L1202.0,1088.7 L1203.0,1088.7 L1204.0,1088.7 L1205.0,1088.7 L1206.0,1088.7 L1207.0,1088.7 L1208.0,1088.7 L1209.0,1088.7 L1210.0,1088.7 L1211.0,1088.7 L1212.0,1088.7 L1213.0,1088.7 L1214.0,1088.7 L1215.0,1088.7 L1216.0,1088.7 L1217.0,1088.7 L1218.0,1088.7 L1219.0,1088.7 L1220.0,1088.7 L1221.0,1088.7 L1222.0,1088.7 L1223.0,1088.7 L1224.0,1088.7 L1225.0,1088.7 L1226.0,1088.7 L1227.0,1088.7 L1228.0,1088.7 L1229.0,1088.7 L1230.0,1088.7 L1231.0,1088.7 L1232.0,1088.7 L1233.0,1088.7 L1234.0,1088.7 L1235.0,1088.7 L1236.0,1088.7 L1237.0,1088.7 L1238.0,1088.7 L1239.0,1088.7 L1240.0,1088.7 L1241.0,1088.7 L1242.0,1088.7 L1243.0,1088.7 L1244.0,1088.7 L1245.0,1088.7 L1246.0,1088.7 L1247.0,1088.7 L1248.0,1088.7 L1249.0,1088.7 L1250.0,1088.7 L1251.0,1088.7 L1252.0,1088.7 L1253.0,1088.7 L1254.0,1088.7 L1255.0,1088.7 L1256.0,1088.7 L1257.0,1088.7 L1258.0,1088.7 L1259.0,1088.7 L1260.0,1088.7 L1261.0,1088.7 L1262.0,1088.7 L1263.0,1088.7 L1264.0,1088.7 L1265.0,1088.7 L1266.0,1088.7 L1267.0,1088.7 L1268.0,1088.7 L1269.0,1088.7 L1270.0,1088.7 L1271.0,1088.7 L1272.0,1088.7 L1273.0,1088.7 L1274.0,1088.7 L1275.0,1088.7 L1276.0,1088.7 L1277.0,1088.7 L1278.0,1088.7 L1279.0,1088.7 L1280.0,1088.7 L1281.0,1088.7 L1282.0,1088.7 L1283.0,1088.7 L1284.0,1088.7 L1285.0,1088.7 L1286.0,1088.7 L1287.0,1088.7 L1288.0,1088.7 L1289.0,1088.7 L1290.0,1088.6 L1291.0,1088.5 L1292.0,1088.4 L1293.0,1088.2 L1294.0,1087.8 L1295.0,1087.4 L1296.0,1086.8 L1297.0,1086.2 L1298.0,1085.4 L1299.0,1084.6 L1300.0,1083.7 L1301.0,1082.8 L1302.0,1081.9 L1303.0,1081.0 L1304.0,1080.0 L1305.0,1078.9 L1306.0,1077.8 L1307.0,1076.6 L1308.0,1075.4 L1309.0,1074.2 L1310.0,1072.9 L1311.0,1071.6 L1312.0,1070.2 L1313.0,1068.8 L1314.0,1067.4 L1315.0,1066.0 L1316.0,1064.6 L1317.0,1063.2 L1318.0,1061.7 L1319.0,1060.3 L1320.0,1058.9 L1321.0,1057.4 L1322.0,1056.0 L1323.0,1054.5 L1324.0,1052.9 L1325.0,1051.4 L1326.0,1049.8 L1327.0,1048.2 L1328.0,1046.6 L1329.0,1045.0 L1330.0,1043.4 L1331.0,1041.8 L1332.0,1040.2 L1333.0,1038.6 L1334.0,1037.1 L1335.0,1035.6 L1336.0,1034.1 L1337.0,1032.7 L1338.0,1031.3 L1339.0,1030.0 L1340.0,1028.7 L1341.0,1027.4 L1342.0,1026.2 L1343.0,1025.1 L1344.0,1023.9 L1345.0,1022.8 L1346.0,1021.6 L1347.0,1020.5 L1348.0,1019.4 L1349.0,1018.3 L1350.0,1017.3 L1351.0,1016.3 L1352.0,1015.3 L1353.0,1014.3 L1354.0,1013.4 L1355.0,1012.6 L1356.0,1011.8 L1357.0,1011.0 L1358.0,1010.3 L1359.0,1009.7 L1360.0,1009.1 L1361.0,1008.6 L1362.0,1008.1 L1363.0,1007.7 L1364.0,1007.3 L1365.0,1006.9 L1366.0,1006.6 L1367.0,1006.2 L1368.0,1005.9 L1369.0,1005.6 L1370.0,1005.3 L1371.0,1005.1 L1372.0,1004.8 L1373.0,1004.6 L1374.0,1004.4 L1375.0,1004.2 L1376.0,1004.0 L1377.0,1003.9 L1378.0,1003.8 L1379.0,1003.8 L1380.0,1003.8 L1381.0,1003.9 L1382.0,1004.0 L1383.0,1004.3 L1384.0,1004.6 L1385.0,1005.0 L1386.0,1005.5 L1387.0,1006.0 L1388.0,1006.7 L1389.0,1007.4 L1390.0,1008.2 L1391.0,1009.0 L1392.0,1009.9 L1393.0,1010.8 L1394.0,1011.7 L1395.0,1012.7 L1396.0,1013.7 L1397.0,1014.8 L1398.0,1015.8 L1399.0,1016.9 L1400.0,1018.0 L1401.0,1019.2 L1402.0,1020.4 L1403.0,1021.7 L1404.0,1023.0 L1405.0,1024.5 L1406.0,1026.1 L1407.0,1027.7 L1408.0,1029.4 L1409.0,1031.2 L1410.0,1033.0 L1411.0,1034.8 L1412.0,1036.6 L1413.0,1038.4 L1414.0,1040.2 L1415.0,1041.9 L1416.0,1043.6 L1417.0,1045.3 L1418.0,1046.9 L1419.0,1048.5 L1420.0,1050.2 L1421.0,1051.7 L1422.0,1053.3 L1423.0,1054.9 L1424.0,1056.4 L1425.0,1058.0 L1426.0,1059.5 L1427.0,1061.0 L1428.0,1062.4 L1429.0,1063.9 L1430.0,1065.2 L1431.0,1066.6 L1432.0,1067.9 L1433.0,1069.2 L1434.0,1070.5 L1435.0,1071.7 L1436.0,1073.0 L1437.0,1074.2 L1438.0,1075.4 L1439.0,1076.5 L1440.0,1077.7 L1441.0,1078.7 L1442.0,1079.7 L1443.0,1080.7 L1444.0,1081.6 L1445.0,1082.4 L1446.0,1083.2 L1447.0,1083.8 L1448.0,1084.5 L1449.0,1085.1 L1450.0,1085.6 L1451.0,1086.2 L1452.0,1086.6 L1453.0,1087.1 L1454.0,1087.5 L1455.0,1087.8 L1456.0,1088.1 L1457.0,1088.3 L1458.0,1088.5 L1459.0,1088.6 L1460.0,1088.6 L1461.0,1088.7 L1462.0,1088.7 L1463.0,1088.7 L1464.0,1088.7 L1465.0,1088.7 L1466.0,1088.7 L1467.0,1088.7 L1468.0,1088.7 L1469.0,1088.7 L1470.0,1088.7 L1471.0,1088.7 L1472.0,1088.7 L1473.0,1088.7 L1474.0,1088.7 L1475.0,1088.7 L1476.0,1088.7 L1477.0,1088.7 L1478.0,1088.7 L1479.0,1088.7 L1480.0,1088.7 L1481.0,1088.7 L1482.0,1088.7 L1483.0,1088.7 L1484.0,1088.7 L1485.0,1088.7 L1486.0,1088.7 L1487.0,1088.7 L1488.0,1088.7 L1489.0,1088.7 L1490.0,1088.7 L1491.0,1088.7 L1492.0,1088.7 L1493.0,1088.7 L1494.0,1088.7 L1495.0,1088.7 L1496.0,1088.7 L1497.0,1088.7 L1498.0,1088.7 L1499.0,1088.7 L1500.0,1088.7 L1501.0,1088.7 L1502.0,1088.7 L1503.0,1088.7 L1504.0,1088.7 L1505.0,1088.7 L1506.0,1088.7 L1507.0,1088.7 L1508.0,1088.7 L1509.0,1088.7 L1510.0,1088.7 L1511.0,1088.7 L1512.0,1088.7 L1513.0,1088.7 L1514.0,1088.7 L1515.0,1088.7 L1516.0,1088.7 L1517.0,1088.7 L1518.0,1088.7 L1519.0,1088.7 L1520.0,1088.7 L1521.0,1088.7 L1522.0,1088.7 L1523.0,1088.7 L1524.0,1088.7 L1525.0,1088.7 L1526.0,1088.7 L1527.0,1088.7 L1528.0,1088.7 L1529.0,1088.7 L1530.0,1088.7 L1531.0,1088.7 L1532.0,1088.7 L1533.0,1088.7 L1534.0,1088.7 L1535.0,1088.7 L1536.0,1088.7 L1537.0,1088.7 L1538.0,1088.7 L1539.0,1088.7 L1540.0,1088.7 L1541.0,1088.7 L1542.0,1088.7 L1543.0,1088.7 L1544.0,1088.7 L1545.0,1088.7 L1546.0,1088.7 L1547.0,1088.7 L1548.0,1088.7 L1549.0,1088.7 L1550.0,1088.7 L1551.0,1088.7 L1552.0,1088.7 L1553.0,1088.7 L1554.0,1088.7 L1555.0,1088.7 L1556.0,1088.7 L1557.0,1088.7 L1558.0,1088.7 L1559.0,1088.7 L1560.0,1088.7" stroke="#00cc99" stroke-width="13.5"/>
<path d="M700.0,1088.7 L701.0,1088.7 L702.0,1088.7 L703.0,1088.7 L704.0,1088.7 L705.0,1088.7 L706.0,1088.7 L707.0,1088.7 L708.0,1088.7 L709.0,1088.7 L710.0,1088.7 L711.0,1088.7 L712.0,1088.6 L713.0,1088.6 L714.0,1088.5 L715.0,1088.3 L716.0,1088.0 L717.0,1087.7 L718.0,1087.2 L719.0,1086.7 L720.0,1086.0 L721.0,1085.2 L722.0,1084.4 L723.0,1083.5 L724.0,1082.5 L725.0,1081.5 L726.0,1080.4 L727.0,1079.2 L728.0,1078.0 L729.0,1076.7 L730.0,1075.3 L731.0,1073.7 L732.0,1072.0 L733.0,1070.1 L734.0,1068.0 L735.0,1065.7 L736.0,1063.3 L737.0,1060.8 L738.0,1058.2 L739.0,1055.4 L740.0,1052.6 L741.0,1049.7 L742.0,1046.8 L743.0,1043.9 L744.0,1040.9 L745.0,1038.0 L746.0,1035.1 L747.0,1032.2 L748.0,1029.4 L749.0,1026.5 L750.0,1023.8 L751.0,1021.0 L752.0,1018.2 L753.0,1015.4 L754.0,1012.7 L755.0,1009.8 L756.0,1007.0 L757.0,1004.1 L758.0,1001.3 L759.0,998.3 L760.0,995.4 L761.0,992.4 L762.0,989.3 L763.0,986.2 L764.0,983.1 L765.0,979.9 L766.0,976.6 L767.0,973.3 L768.0,969.9 L769.0,966.4 L770.0,962.8 L771.0,959.2 L772.0,955.5 L773.0,951.8 L774.0,948.0 L775.0,944.2 L776.0,940.3 L777.0,936.4 L778.0,932.5 L779.0,928.6 L780.0,924.7 L781.0,920.8 L782.0,916.9 L783.0,913.0 L784.0,909.1 L785.0,905.3 L786.0,901.5 L787.0,897.8 L788.0,894.2 L789.0,890.6 L790.0,887.0 L791.0,883.5 L792.0,880.1 L793.0,876.7 L794.0,873.4 L795.0,870.1 L796.0,866.9 L797.0,863.7 L798.0,860.5 L799.0,857.3 L800.0,854.1 L801.0,850.9 L802.0,847.7 L803.0,844.4 L804.0,841.2 L805.0,837.9 L806.0,834.6 L807.0,831.2 L808.0,827.8 L809.0,824.3 L810.0,820.9 L811.0,817.3 L812.0,813.8 L813.0,810.2 L814.0,806.6 L815.0,803.0 L816.0,799.4 L817.0,795.8 L818.0,792.2 L819.0,788.5 L820.0,784.9 L821.0,781.3 L822.0,777.7 L823.0,774.2 L824.0,770.6 L825.0,767.1 L826.0,763.6 L827.0,760.2 L828.0,756.8 L829.0,753.5 L830.0,750.2 L831.0,746.9 L832.0,743.7 L833.0,740.6 L834.0,737.5 L835.0,734.4 L836.0,731.4 L837.0,728.4 L838.0,725.5 L839.0,722.5 L840.0,719.6 L841.0,716.8 L842.0,713.9 L843.0,711.1 L844.0,708.3 L845.0,705.5 L846.0,702.8 L847.0,700.1 L848.0,697.3 L849.0,694.6 L850.0,691.9 L851.0,689.2 L852.0,686.5 L853.0,683.8 L854.0,681.1 L855.0,678.5 L856.0,675.8 L857.0,673.1 L858.0,670.4 L859.0,667.8 L860.0,665.1 L861.0,662.5 L862.0,659.8 L863.0,657.2 L864.0,654.6 L865.0,652.0 L866.0,649.4 L867.0,646.8 L868.0,644.3 L869.0,641.7 L870.0,639.2 L871.0,636.7 L872.0,634.2 L873.0,631.7 L874.0,629.3 L875.0,626.9 L876.0,624.4 L877.0,622.1 L878.0,619.7 L879.0,617.4 L880.0,615.1 L881.0,612.8 L882.0,610.6 L883.0,608.3 L884.0,606.2 L885.0,604.0 L886.0,601.8 L887.0,599.7 L888.0,597.6 L889.0,595.5 L890.0,593.4 L891.0,591.3 L892.0,589.2 L893.0,587.1 L894.0,585.1 L895.0,583.0 L896.0,581.0 L897.0,579.0 L898.0,577.1 L899.0,575.1 L900.0,573.3 L901.0,571.4 L902.0,569.6 L903.0,567.9 L904.0,566.2 L905.0,564.5 L906.0,563.0 L907.0,561.4 L908.0,560.0 L909.0,558.6 L910.0,557.3 L911.0,556.0 L912.0,554.7 L913.0,553.5 L914.0,552.4 L915.0,551.2 L916.0,550.1 L917.0,549.1 L918.0,548.0 L919.0,547.1 L920.0,546.1 L921.0,545.3 L922.0,544.5 L923.0,543.7 L924.0,543.0 L925.0,542.4 L926.0,541.9 L927.0,541.4 L928.0,541.0 L929.0,540.6 L930.0,540.2 L931.0,539.8 L932.0,539.4 L933.0,539.1 L934.0,538.8 L935.0,538.5 L936.0,538.2 L937.0,537.9 L938.0,537.7 L939.0,537.5 L940.0,537.3 L941.0,537.2 L942.0,537.1 L943.0,537.0 L944.0,537.0 L945.0,537.0 L946.0,537.0 L947.0,537.1 L948.0,537.3 L949.0,537.5 L950.0,537.8 L951.0,538.2 L952.0,538.5 L953.0,539.0 L954.0,539.4 L955.0,539.9 L956.0,540.4 L957.0,541.0 L958.0,541.6 L959.0,542.2 L960.0,542.8 L961.0,543.4 L962.0,544.1 L963.0,544.7 L964.0,545.4 L965.0,546.2 L966.0,546.9 L967.0,547.8 L968.0,548.6 L969.0,549.6 L970.0,550.6 L971.0,551.6 L972.0,552.8 L973.0,553.9 L974.0,555.2 L975.0,556.4 L976.0,557.7 L977.0,559.1 L978.0,560.4 L979.0,561.8 L980.0,563.3 L981.0,564.8 L982.0,566.2 L983.0,567.8 L984.0,569.3 L985.0,570.9 L986.0,572.5 L987.0,574.2 L988.0,575.9 L989.0,577.7 L990.0,579.5 L991.0,581.4 L992.0,583.4 L993.0,585.4 L994.0,587.4 L995.0,589.5 L996.0,591.7 L997.0,593.8 L998.0,596.1 L999.0,598.4 L1000.0,600.7 L1001.0,603.1 L1002.0,605.6 L1003.0,608.1 L1004.0,610.6 L1005.0,613.3 L1006.0,616.0 L1007.0,618.7 L1008.0,621.6 L1009.0,624.7 L1010.0,627.8 L1011.0,631.0 L1012.0,634.4 L1013.0,637.8 L1014.0,641.4 L1015.0,645.0 L1016.0,648.7 L1017.0,652.5 L1018.0,656.3 L1019.0,660.2 L1020.0,664.1 L1021.0,668.0 L1022.0,671.9 L1023.0,675.8 L1024.0,679.7 L1025.0,683.6 L1026.0,687.4 L1027.0,691.2 L1028.0,694.9 L1029.0,698.6 L1030.0,702.2 L1031.0,705.8 L1032.0,709.3 L1033.0,712.7 L1034.0,716.1 L1035.0,719.5 L1036.0,722.9 L1037.0,726.2 L1038.0,729.5 L1039.0,732.8 L1040.0,736.2 L1041.0,739.5 L1042.0,742.9 L1043.0,746.3 L1044.0,749.8 L1045.0,753.3 L1046.0,756.9 L1047.0,760.5 L1048.0,764.2 L1049.0,767.9 L1050.0,771.7 L1051.0,775.6 L1052.0,779.5 L1053.0,783.4 L1054.0,787.4 L1055.0,791.4 L1056.0,795.4 L1057.0,799.5 L1058.0,803.6 L1059.0,807.7 L1060.0,811.8 L1061.0,815.9 L1062.0,820.0 L1063.0,824.1 L1064.0,828.2 L1065.0,832.3 L1066.0,836.4 L1067.0,840.4 L1068.0,844.5 L1069.0,848.5 L1070.0,852.5 L1071.0,856.4 L1072.0,860.4 L1073.0,864.3 L1074.0,868.3 L1075.0,872.2 L1076.0,876.2 L1077.0,880.1 L1078.0,884.0 L1079.0,887.8 L1080.0,891.7 L1081.0,895.5 L1082.0,899.3 L1083.0,903.1 L1084.0,906.9 L1085.0,910.6 L1086.0,914.4 L1087.0,918.1 L1088.0,921.9 L1089.0,925.6 L1090.0,929.3 L1091.0,933.0 L1092.0,936.7 L1093.0,940.4 L1094.0,944.1 L1095.0,947.7 L1096.0,951.4 L1097.0,955.0 L1098.0,958.6 L1099.0,962.1 L1100.0,965.6 L1101.0,969.1 L1102.0,972.6 L1103.0,976.0 L1104.0,979.4 L1105.0,982.7 L1106.0,986.0 L1107.0,989.3 L1108.0,992.5 L1109.0,995.6 L1110.0,998.7 L1111.0,1001.8 L1112.0,1004.8 L1113.0,1007.9 L1114.0,1010.8 L1115.0,1013.8 L1116.0,1016.7 L1117.0,1019.5 L1118.0,1022.3 L1119.0,1025.1 L1120.0,1027.9 L1121.0,1030.6 L1122.0,1033.3 L1123.0,1036.0 L1124.0,1038.6 L1125.0,1041.1 L1126.0,1043.7 L1127.0,1046.2 L1128.0,1048.8 L1129.0,1051.3 L1130.0,1053.8 L1131.0,1056.3 L1132.0,1058.7 L1133.0,1061.1 L1134.0,1063.4 L1135.0,1065.6 L1136.0,1067.7 L1137.0,1069.6 L1138.0,1071.3 L1139.0,1072.9 L1140.0,1074.3 L1141.0,1075.6 L1142.0,1076.8 L1143.0,1078.0 L1144.0,1079.0 L1145.0,1080.0 L1146.0,1080.9 L1147.0,1081.7 L1148.0,1082.5 L1149.0,1083.2 L1150.0,1083.8 L1151.0,1084.4 L1152.0,1084.9 L1153.0,1085.4 L1154.0,1085.7 L1155.0,1086.1 L1156.0,1086.4 L1157.0,1086.7 L1158.0,1087.0 L1159.0,1087.3 L1160.0,1087.6 L1161.0,1087.8 L1162.0,1088.0 L1163.0,1088.2 L1164.0,1088.3 L1165.0,1088.4 L1166.0,1088.5 L1167.0,1088.6 L1168.0,1088.6 L1169.0,1088.7 L1170.0,1088.7 L1171.0,1088.7 L1172.0,1088.7 L1173.0,1088.7 L1174.0,1088.7 L1175.0,1088.7 L1176.0,1088.7 L1177.0,1088.7 L1178.0,1088.7 L1179.0,1088.7 L1180.0,1088.7 L1181.0,1088.7 L1182.0,1088.7 L1183.0,1088.7 L1184.0,1088.7 L1185.0,1088.7 L1186.0,1088.7 L1187.0,1088.7 L1188.0,1088.7 L1189.0,1088.7 L1190.0,1088.7 L1191.0,1088.7 L1192.0,1088.7 L1193.0,1088.7 L1194.0,1088.7 L1195.0,1088.7 L1196.0,1088.7 L1197.0,1088.7 L1198.0,1088.7 L1199.0,1088.7 L1200.0,1088.7 L1201.0,1088.7 L1202.0,1088.7 L1203.0,1088.7 L1204.0,1088.7 L1205.0,1088.7 L1206.0,1088.7 L1207.0,1088.7 L1208.0,1088.7 L1209.0,1088.7 L1210.0,1088.7 L1211.0,1088.7 L1212.0,1088.7 L1213.0,1088.7 L1214.0,1088.7 L1215.0,1088.7 L1216.0,1088.7 L1217.0,1088.7 L1218.0,1088.7 L1219.0,1088.7 L1220.0,1088.7 L1221.0,1088.7 L1222.0,1088.7 L1223.0,1088.7 L1224.0,1088.7 L1225.0,1088.7 L1226.0,1088.7 L1227.0,1088.7 L1228.0,1088.7 L1229.0,1088.7 L1230.0,1088.7 L1231.0,1088.7 L1232.0,1088.7 L1233.0,1088.7 L1234.0,1088.7 L1235.0,1088.7 L1236.0,1088.7 L1237.0,1088.7 L1238.0,1088.7 L1239.0,1088.7 L1240.0,1088.7 L1241.0,1088.7 L1242.0,1088.7 L1243.0,1088.7 L1244.0,1088.7 L1245.0,1088.7 L1246.0,1088.7 L1247.0,1088.7 L1248.0,1088.7 L1249.0,1088.7 L1250.0,1088.7 L1251.0,1088.7 L1252.0,1088.7 L1253.0,1088.7 L1254.0,1088.7 L1255.0,1088.7 L1256.0,1088.7 L1257.0,1088.7 L1258.0,1088.7 L1259.0,1088.7 L1260.0,1088.7 L1261.0,1088.7 L1262.0,1088.7 L1263.0,1088.7 L1264.0,1088.7 L1265.0,1088.7 L1266.0,1088.7 L1267.0,1088.7 L1268.0,1088.7 L1269.0,1088.7 L1270.0,1088.7 L1271.0,1088.7 L1272.0,1088.7 L1273.0,1088.7 L1274.0,1088.7 L1275.0,1088.7 L1276.0,1088.7 L1277.0,1088.7 L1278.0,1088.7 L1279.0,1088.7 L1280.0,1088.7 L1281.0,1088.7 L1282.0,1088.7 L1283.0,1088.7 L1284.0,1088.7 L1285.0,1088.7 L1286.0,1088.7 L1287.0,1088.7 L1288.0,1088.7 L1289.0,1088.7 L1290.0,1088.7 L1291.0,1088.7 L1292.0,1088.7 L1293.0,1088.7 L1294.0,1088.7 L1295.0,1088.7 L1296.0,1088.7 L1297.0,1088.7 L1298.0,1088.7 L1299.0,1088.7 L1300.0,1088.6 L1301.0,1088.5 L1302.0,1088.5 L1303.0,1088.3 L1304.0,1088.1 L1305.0,1087.9 L1306.0,1087.7 L1307.0,1087.4 L1308.0,1087.1 L1309.0,1086.8 L1310.0,1086.5 L1311.0,1086.2 L1312.0,1085.8 L1313.0,1085.5 L1314.0,1085.2 L1315.0,1084.9 L1316.0,1084.6 L1317.0,1084.3 L1318.0,1084.0 L1319.0,1083.8 L1320.0,1083.5 L1321.0,1083.2 L1322.0,1083.0 L1323.0,1082.7 L1324.0,1082.4 L1325.0,1082.2 L1326.0,1081.9 L1327.0,1081.7 L1328.0,1081.5 L1329.0,1081.3 L1330.0,1081.1 L1331.0,1080.9 L1332.0,1080.8 L1333.0,1080.7 L1334.0,1080.7 L1335.0,1080.7 L1336.0,1080.7 L1337.0,1080.9 L1338.0,1081.0 L1339.0,1081.3 L1340.0,1081.5 L1341.0,1081.8 L1342.0,1082.2 L1343.0,1082.6 L1344.0,1083.0 L1345.0,1083.4 L1346.0,1083.8 L1347.0,1084.3 L1348.0,1084.7 L1349.0,1085.1 L1350.0,1085.6 L1351.0,1086.0 L1352.0,1086.5 L1353.0,1086.9 L1354.0,1087.3 L1355.0,1087.7 L1356.0,1088.0 L1357.0,1088.3 L1358.0,1088.5 L1359.0,1088.6 L1360.0,1088.6 L1361.0,1088.7 L1362.0,1088.7 L1363.0,1088.7 L1364.0,1088.7 L1365.0,1088.7 L1366.0,1088.7 L1367.0,1088.7 L1368.0,1088.7 L1369.0,1088.7 L1370.0,1088.7 L1371.0,1088.7 L1372.0,1088.7 L1373.0,1088.7 L1374.0,1088.7 L1375.0,1088.7 L1376.0,1088.7 L1377.0,1088.7 L1378.0,1088.7 L1379.0,1088.7 L1380.0,1088.7 L1381.0,1088.7 L1382.0,1088.7 L1383.0,1088.7 L1384.0,1088.7 L1385.0,1088.7 L1386.0,1088.7 L1387.0,1088.7 L1388.0,1088.7 L1389.0,1088.7 L1390.0,1088.7 L1391.0,1088.7 L1392.0,1088.7 L1393.0,1088.7 L1394.0,1088.7 L1395.0,1088.7 L1396.0,1088.7 L1397.0,1088.7 L1398.0,1088.7 L1399.0,1088.7 L1400.0,1088.7 L1401.0,1088.7 L1402.0,1088.7 L1403.0,1088.7 L1404.0,1088.7 L1405.0,1088.7 L1406.0,1088.7 L1407.0,1088.7 L1408.0,1088.7 L1409.0,1088.7 L1410.0,1088.7 L1411.0,1088.7 L1412.0,1088.7 L1413.0,1088.7 L1414.0,1088.7 L1415.0,1088.7 L1416.0,1088.7 L1417.0,1088.7 L1418.0,1088.7 L1419.0,1088.7 L1420.0,1088.7 L1421.0,1088.7 L1422.0,1088.7 L1423.0,1088.7 L1424.0,1088.7 L1425.0,1088.7 L1426.0,1088.7 L1427.0,1088.7 L1428.0,1088.7 L1429.0,1088.7 L1430.0,1088.7 L1431.0,1088.7 L1432.0,1088.7 L1433.0,1088.7 L1434.0,1088.7 L1435.0,1088.7 L1436.0,1088.7 L1437.0,1088.7 L1438.0,1088.7 L1439.0,1088.7 L1440.0,1088.7 L1441.0,1088.7 L1442.0,1088.7 L1443.0,1088.7 L1444.0,1088.7 L1445.0,1088.7 L1446.0,1088.7 L1447.0,1088.7 L1448.0,1088.7 L1449.0,1088.7 L1450.0,1088.7 L1451.0,1088.7 L1452.0,1088.7 L1453.0,1088.7 L1454.0,1088.7 L1455.0,1088.7 L1456.0,1088.7 L1457.0,1088.7 L1458.0,1088.7 L1459.0,1088.7 L1460.0,1088.7 L1461.0,1088.7 L1462.0,1088.7 L1463.0,1088.7 L1464.0,1088.7 L1465.0,1088.7 L1466.0,1088.7 L1467.0,1088.7 L1468.0,1088.7 L1469.0,1088.7 L1470.0,1088.7 L1471.0,1088.7 L1472.0,1088.7 L1473.0,1088.7 L1474.0,1088.7 L1475.0,1088.7 L1476.0,1088.7 L1477.0,1088.7 L1478.0,1088.7 L1479.0,1088.7 L1480.0,1088.7 L1481.0,1088.7 L1482.0,1088.7 L1483.0,1088.7 L1484.0,1088.7 L1485.0,1088.7 L1486.0,1088.7 L1487.0,1088.7 L1488.0,1088.7 L1489.0,1088.7 L1490.0,1088.7 L1491.0,1088.7 L1492.0,1088.7 L1493.0,1088.7 L1494.0,1088.7 L1495.0,1088.7 L1496.0,1088.7 L1497.0,1088.7 L1498.0,1088.7 L1499.0,1088.7 L1500.0,1088.7 L1501.0,1088.7 L1502.0,1088.7 L1503.0,1088.7 L1504.0,1088.7 L1505.0,1088.7 L1506.0,1088.7 L1507.0,1088.7 L1508.0,1088.7 L1509.0,1088.7 L1510.0,1088.7 L1511.0,1088.7 L1512.0,1088.7 L1513.0,1088.7 L1514.0,1088.7 L1515.0,1088.7 L1516.0,1088.7 L1517.0,1088.7 L1518.0,1088.7 L1519.0,1088.7 L1520.0,1088.7 L1521.0,1088.7 L1522.0,1088.7 L1523.0,1088.7 L1524.0,1088.7 L1525.0,1088.7 L1526.0,1088.7 L1527.0,1088.7 L1528.0,1088.7 L1529.0,1088.7 L1530.0,1088.7 L1531.0,1088.7 L1532.0,1088.7 L1533.0,1088.7 L1534.0,1088.7 L1535.0,1088.7 L1536.0,1088.7 L1537.0,1088.7 L1538.0,1088.7 L1539.0,1088.7 L1540.0,1088.7 L1541.0,1088.7 L1542.0,1088.7 L1543.0,1088.7 L1544.0,1088.7 L1545.0,1088.7 L1546.0,1088.7 L1547.0,1088.7 L1548.0,1088.7 L1549.0,1088.7 L1550.0,1088.7 L1551.0,1088.7 L1552.0,1088.7 L1553.0,1088.7 L1554.0,1088.7 L1555.0,1088.7 L1556.0,1088.7 L1557.0,1088.7 L1558.0,1088.7 L1559.0,1088.7 L1560.0,1088.7" stroke="#ff6a00" stroke-width="13.5" stroke-linecap="round" stroke-dasharray="94.5 54" stroke-dashoffset="13.5"/>
<path d="M700.0,1088.7 L701.0,1088.7 L702.0,1088.7 L703.0,1088.7 L704.0,1088.7 L705.0,1088.7 L706.0,1088.7 L707.0,1088.7 L708.0,1088.7 L709.0,1088.6 L710.0,1088.5 L711.0,1088.2 L712.0,1087.7 L713.0,1087.0 L714.0,1086.0 L715.0,1084.7 L716.0,1083.0 L717.0,1081.0 L718.0,1078.7 L719.0,1076.1 L720.0,1073.1 L721.0,1070.0 L722.0,1066.5 L723.0,1063.0 L724.0,1059.3 L725.0,1055.6 L726.0,1051.9 L727.0,1048.3 L728.0,1044.7 L729.0,1041.2 L730.0,1037.9 L731.0,1034.6 L732.0,1031.3 L733.0,1028.2 L734.0,1025.0 L735.0,1021.9 L736.0,1018.8 L737.0,1015.7 L738.0,1012.6 L739.0,1009.5 L740.0,1006.4 L741.0,1003.3 L742.0,1000.2 L743.0,997.1 L744.0,994.0 L745.0,990.9 L746.0,987.8 L747.0,984.6 L748.0,981.4 L749.0,978.2 L750.0,975.0 L751.0,971.7 L752.0,968.4 L753.0,965.1 L754.0,961.7 L755.0,958.3 L756.0,954.8 L757.0,951.4 L758.0,947.9 L759.0,944.3 L760.0,940.8 L761.0,937.2 L762.0,933.5 L763.0,929.8 L764.0,926.1 L765.0,922.4 L766.0,918.6 L767.0,914.7 L768.0,910.8 L769.0,906.9 L770.0,902.8 L771.0,898.7 L772.0,894.5 L773.0,890.3 L774.0,886.1 L775.0,881.8 L776.0,877.5 L777.0,873.2 L778.0,869.0 L779.0,864.9 L780.0,860.8 L781.0,856.8 L782.0,852.9 L783.0,849.1 L784.0,845.3 L785.0,841.6 L786.0,837.9 L787.0,834.3 L788.0,830.7 L789.0,827.1 L790.0,823.6 L791.0,820.1 L792.0,816.7 L793.0,813.2 L794.0,809.8 L795.0,806.4 L796.0,803.1 L797.0,799.7 L798.0,796.4 L799.0,793.1 L800.0,789.8 L801.0,786.5 L802.0,783.2 L803.0,780.0 L804.0,776.8 L805.0,773.6 L806.0,770.4 L807.0,767.3 L808.0,764.2 L809.0,761.1 L810.0,758.1 L811.0,755.0 L812.0,752.0 L813.0,749.0 L814.0,746.1 L815.0,743.1 L816.0,740.1 L817.0,737.2 L818.0,734.2 L819.0,731.3 L820.0,728.4 L821.0,725.6 L822.0,722.8 L823.0,720.1 L824.0,717.4 L825.0,714.8 L826.0,712.3 L827.0,709.9 L828.0,707.5 L829.0,705.3 L830.0,703.1 L831.0,701.1 L832.0,699.1 L833.0,697.2 L834.0,695.3 L835.0,693.5 L836.0,691.7 L837.0,690.0 L838.0,688.3 L839.0,686.7 L840.0,685.1 L841.0,683.4 L842.0,681.8 L843.0,680.2 L844.0,678.7 L845.0,677.1 L846.0,675.6 L847.0,674.2 L848.0,672.7 L849.0,671.4 L850.0,670.0 L851.0,668.8 L852.0,667.5 L853.0,666.4 L854.0,665.3 L855.0,664.2 L856.0,663.2 L857.0,662.3 L858.0,661.3 L859.0,660.4 L860.0,659.5 L861.0,658.6 L862.0,657.8 L863.0,657.0 L864.0,656.2 L865.0,655.5 L866.0,654.8 L867.0,654.2 L868.0,653.6 L869.0,653.0 L870.0,652.5 L871.0,652.0 L872.0,651.6 L873.0,651.2 L874.0,650.8 L875.0,650.4 L876.0,650.1 L877.0,649.7 L878.0,649.4 L879.0,649.1 L880.0,648.8 L881.0,648.6 L882.0,648.3 L883.0,648.1 L884.0,648.0 L885.0,647.8 L886.0,647.7 L887.0,647.7 L888.0,647.7 L889.0,647.8 L890.0,647.9 L891.0,648.1 L892.0,648.4 L893.0,648.8 L894.0,649.2 L895.0,649.7 L896.0,650.2 L897.0,650.7 L898.0,651.4 L899.0,652.0 L900.0,652.7 L901.0,653.5 L902.0,654.3 L903.0,655.3 L904.0,656.3 L905.0,657.5 L906.0,658.8 L907.0,660.3 L908.0,661.8 L909.0,663.4 L910.0,665.1 L911.0,666.9 L912.0,668.6 L913.0,670.4 L914.0,672.2 L915.0,674.0 L916.0,675.8 L917.0,677.6 L918.0,679.5 L919.0,681.4 L920.0,683.3 L921.0,685.2 L922.0,687.2 L923.0,689.1 L924.0,691.2 L925.0,693.2 L926.0,695.2 L927.0,697.3 L928.0,699.3 L929.0,701.4 L930.0,703.4 L931.0,705.5 L932.0,707.6 L933.0,709.6 L934.0,711.7 L935.0,713.8 L936.0,715.9 L937.0,718.1 L938.0,720.2 L939.0,722.3 L940.0,724.4 L941.0,726.5 L942.0,728.6 L943.0,730.7 L944.0,732.8 L945.0,734.8 L946.0,736.8 L947.0,738.8 L948.0,740.8 L949.0,742.8 L950.0,744.8 L951.0,746.8 L952.0,748.8 L953.0,750.8 L954.0,752.9 L955.0,754.9 L956.0,757.0 L957.0,759.1 L958.0,761.1 L959.0,763.2 L960.0,765.4 L961.0,767.5 L962.0,769.7 L963.0,772.0 L964.0,774.4 L965.0,776.8 L966.0,779.4 L967.0,782.1 L968.0,784.9 L969.0,787.9 L970.0,791.0 L971.0,794.2 L972.0,797.3 L973.0,800.4 L974.0,803.4 L975.0,806.2 L976.0,808.9 L977.0,811.5 L978.0,813.9 L979.0,816.2 L980.0,818.5 L981.0,820.8 L982.0,823.0 L983.0,825.3 L984.0,827.6 L985.0,830.1 L986.0,832.6 L987.0,835.3 L988.0,838.0 L989.0,840.9 L990.0,843.9 L991.0,846.9 L992.0,849.9 L993.0,852.8 L994.0,855.7 L995.0,858.5 L996.0,861.2 L997.0,863.8 L998.0,866.3 L999.0,868.8 L1000.0,871.3 L1001.0,873.8 L1002.0,876.2 L1003.0,878.7 L1004.0,881.3 L1005.0,883.9 L1006.0,886.5 L1007.0,889.2 L1008.0,891.9 L1009.0,894.7 L1010.0,897.4 L1011.0,900.1 L1012.0,902.8 L1013.0,905.4 L1014.0,907.9 L1015.0,910.4 L1016.0,912.7 L1017.0,915.1 L1018.0,917.3 L1019.0,919.5 L1020.0,921.7 L1021.0,923.9 L1022.0,926.1 L1023.0,928.2 L1024.0,930.4 L1025.0,932.6 L1026.0,934.8 L1027.0,937.1 L1028.0,939.3 L1029.0,941.6 L1030.0,943.9 L1031.0,946.1 L1032.0,948.4 L1033.0,950.6 L1034.0,952.8 L1035.0,955.0 L1036.0,957.1 L1037.0,959.2 L1038.0,961.3 L1039.0,963.3 L1040.0,965.3 L1041.0,967.2 L1042.0,969.2 L1043.0,971.1 L1044.0,972.9 L1045.0,974.8 L1046.0,976.7 L1047.0,978.5 L1048.0,980.3 L1049.0,982.1 L1050.0,983.9 L1051.0,985.7 L1052.0,987.5 L1053.0,989.3 L1054.0,991.0 L1055.0,992.8 L1056.0,994.5 L1057.0,996.2 L1058.0,997.9 L1059.0,999.5 L1060.0,1001.1 L1061.0,1002.7 L1062.0,1004.2 L1063.0,1005.7 L1064.0,1007.2 L1065.0,1008.6 L1066.0,1010.0 L1067.0,1011.4 L1068.0,1012.8 L1069.0,1014.2 L1070.0,1015.5 L1071.0,1016.9 L1072.0,1018.2 L1073.0,1019.4 L1074.0,1020.7 L1075.0,1021.9 L1076.0,1023.1 L1077.0,1024.3 L1078.0,1025.4 L1079.0,1026.5 L1080.0,1027.6 L1081.0,1028.6 L1082.0,1029.7 L1083.0,1030.7 L1084.0,1031.7 L1085.0,1032.7 L1086.0,1033.7 L1087.0,1034.6 L1088.0,1035.6 L1089.0,1036.5 L1090.0,1037.4 L1091.0,1038.3 L1092.0,1039.1 L1093.0,1040.0 L1094.0,1040.8 L1095.0,1041.6 L1096.0,1042.3 L1097.0,1043.1 L1098.0,1043.8 L1099.0,1044.5 L1100.0,1045.1 L1101.0,1045.8 L1102.0,1046.4 L1103.0,1047.1 L1104.0,1047.7 L1105.0,1048.3 L1106.0,1048.9 L1107.0,1049.4 L1108.0,1050.0 L1109.0,1050.6 L1110.0,1051.1 L1111.0,1051.6 L1112.0,1052.1 L1113.0,1052.6 L1114.0,1053.1 L1115.0,1053.5 L1116.0,1053.9 L1117.0,1054.3 L1118.0,1054.7 L1119.0,1055.0 L1120.0,1055.4 L1121.0,1055.7 L1122.0,1056.0 L1123.0,1056.3 L1124.0,1056.5 L1125.0,1056.8 L1126.0,1057.1 L1127.0,1057.3 L1128.0,1057.6 L1129.0,1057.8 L1130.0,1058.1 L1131.0,1058.3 L1132.0,1058.5 L1133.0,1058.8 L1134.0,1059.0 L1135.0,1059.2 L1136.0,1059.4 L1137.0,1059.6 L1138.0,1059.8 L1139.0,1059.9 L1140.0,1060.1 L1141.0,1060.2 L1142.0,1060.4 L1143.0,1060.5 L1144.0,1060.6 L1145.0,1060.7 L1146.0,1060.8 L1147.0,1060.9 L1148.0,1061.0 L1149.0,1061.0 L1150.0,1061.1 L1151.0,1061.1 L1152.0,1061.1 L1153.0,1061.2 L1154.0,1061.2 L1155.0,1061.2 L1156.0,1061.2 L1157.0,1061.3 L1158.0,1061.3 L1159.0,1061.3 L1160.0,1061.3 L1161.0,1061.3 L1162.0,1061.3 L1163.0,1061.3 L1164.0,1061.4 L1165.0,1061.4 L1166.0,1061.4 L1167.0,1061.4 L1168.0,1061.4 L1169.0,1061.4 L1170.0,1061.4 L1171.0,1061.4 L1172.0,1061.5 L1173.0,1061.5 L1174.0,1061.5 L1175.0,1061.5 L1176.0,1061.5 L1177.0,1061.6 L1178.0,1061.6 L1179.0,1061.6 L1180.0,1061.7 L1181.0,1061.7 L1182.0,1061.7 L1183.0,1061.8 L1184.0,1061.8 L1185.0,1061.9 L1186.0,1062.0 L1187.0,1062.0 L1188.0,1062.1 L1189.0,1062.2 L1190.0,1062.3 L1191.0,1062.3 L1192.0,1062.4 L1193.0,1062.5 L1194.0,1062.6 L1195.0,1062.7 L1196.0,1062.8 L1197.0,1062.9 L1198.0,1063.0 L1199.0,1063.1 L1200.0,1063.2 L1201.0,1063.3 L1202.0,1063.4 L1203.0,1063.5 L1204.0,1063.6 L1205.0,1063.7 L1206.0,1063.8 L1207.0,1063.9 L1208.0,1064.1 L1209.0,1064.2 L1210.0,1064.3 L1211.0,1064.4 L1212.0,1064.5 L1213.0,1064.7 L1214.0,1064.8 L1215.0,1064.9 L1216.0,1065.1 L1217.0,1065.2 L1218.0,1065.4 L1219.0,1065.5 L1220.0,1065.7 L1221.0,1065.8 L1222.0,1066.0 L1223.0,1066.2 L1224.0,1066.3 L1225.0,1066.5 L1226.0,1066.7 L1227.0,1066.9 L1228.0,1067.1 L1229.0,1067.2 L1230.0,1067.4 L1231.0,1067.6 L1232.0,1067.9 L1233.0,1068.1 L1234.0,1068.3 L1235.0,1068.5 L1236.0,1068.8 L1237.0,1069.0 L1238.0,1069.3 L1239.0,1069.6 L1240.0,1069.9 L1241.0,1070.1 L1242.0,1070.4 L1243.0,1070.7 L1244.0,1071.0 L1245.0,1071.4 L1246.0,1071.7 L1247.0,1072.0 L1248.0,1072.3 L1249.0,1072.6 L1250.0,1072.9 L1251.0,1073.2 L1252.0,1073.6 L1253.0,1073.9 L1254.0,1074.2 L1255.0,1074.5 L1256.0,1074.8 L1257.0,1075.2 L1258.0,1075.5 L1259.0,1075.8 L1260.0,1076.2 L1261.0,1076.5 L1262.0,1076.9 L1263.0,1077.2 L1264.0,1077.6 L1265.0,1078.0 L1266.0,1078.3 L1267.0,1078.7 L1268.0,1079.1 L1269.0,1079.5 L1270.0,1079.8 L1271.0,1080.2 L1272.0,1080.6 L1273.0,1080.9 L1274.0,1081.3 L1275.0,1081.6 L1276.0,1082.0 L1277.0,1082.3 L1278.0,1082.7 L1279.0,1083.0 L1280.0,1083.3 L1281.0,1083.6 L1282.0,1083.9 L1283.0,1084.2 L1284.0,1084.5 L1285.0,1084.8 L1286.0,1085.1 L1287.0,1085.3 L1288.0,1085.6 L1289.0,1085.8 L1290.0,1086.0 L1291.0,1086.3 L1292.0,1086.5 L1293.0,1086.7 L1294.0,1086.9 L1295.0,1087.1 L1296.0,1087.3 L1297.0,1087.5 L1298.0,1087.6 L1299.0,1087.7 L1300.0,1087.9 L1301.0,1088.0 L1302.0,1088.1 L1303.0,1088.1 L1304.0,1088.2 L1305.0,1088.3 L1306.0,1088.4 L1307.0,1088.4 L1308.0,1088.5 L1309.0,1088.5 L1310.0,1088.6 L1311.0,1088.6 L1312.0,1088.6 L1313.0,1088.7 L1314.0,1088.7 L1315.0,1088.7 L1316.0,1088.7 L1317.0,1088.7 L1318.0,1088.7 L1319.0,1088.7 L1320.0,1088.7 L1321.0,1088.7 L1322.0,1088.7 L1323.0,1088.7 L1324.0,1088.7 L1325.0,1088.7 L1326.0,1088.7 L1327.0,1088.7 L1328.0,1088.7 L1329.0,1088.7 L1330.0,1088.7 L1331.0,1088.7 L1332.0,1088.7 L1333.0,1088.7 L1334.0,1088.7 L1335.0,1088.7 L1336.0,1088.7 L1337.0,1088.7 L1338.0,1088.7 L1339.0,1088.7 L1340.0,1088.7 L1341.0,1088.7 L1342.0,1088.7 L1343.0,1088.7 L1344.0,1088.7 L1345.0,1088.7 L1346.0,1088.7 L1347.0,1088.7 L1348.0,1088.7 L1349.0,1088.7 L1350.0,1088.7 L1351.0,1088.7 L1352.0,1088.7 L1353.0,1088.7 L1354.0,1088.7 L1355.0,1088.7 L1356.0,1088.7 L1357.0,1088.7 L1358.0,1088.7 L1359.0,1088.7 L1360.0,1088.7 L1361.0,1088.7 L1362.0,1088.7 L1363.0,1088.7 L1364.0,1088.7 L1365.0,1088.7 L1366.0,1088.7 L1367.0,1088.7 L1368.0,1088.7 L1369.0,1088.7 L1370.0,1088.7 L1371.0,1088.7 L1372.0,1088.7 L1373.0,1088.7 L1374.0,1088.7 L1375.0,1088.7 L1376.0,1088.7 L1377.0,1088.7 L1378.0,1088.7 L1379.0,1088.7 L1380.0,1088.7 L1381.0,1088.7 L1382.0,1088.7 L1383.0,1088.7 L1384.0,1088.7 L1385.0,1088.7 L1386.0,1088.7 L1387.0,1088.7 L1388.0,1088.7 L1389.0,1088.7 L1390.0,1088.7 L1391.0,1088.7 L1392.0,1088.7 L1393.0,1088.7 L1394.0,1088.7 L1395.0,1088.7 L1396.0,1088.7 L1397.0,1088.7 L1398.0,1088.7 L1399.0,1088.7 L1400.0,1088.7 L1401.0,1088.7 L1402.0,1088.7 L1403.0,1088.7 L1404.0,1088.7 L1405.0,1088.7 L1406.0,1088.7 L1407.0,1088.7 L1408.0,1088.7 L1409.0,1088.7 L1410.0,1088.7 L1411.0,1088.7 L1412.0,1088.7 L1413.0,1088.7 L1414.0,1088.7 L1415.0,1088.7 L1416.0,1088.7 L1417.0,1088.7 L1418.0,1088.7 L1419.0,1088.7 L1420.0,1088.7 L1421.0,1088.7 L1422.0,1088.7 L1423.0,1088.7 L1424.0,1088.7 L1425.0,1088.7 L1426.0,1088.7 L1427.0,1088.7 L1428.0,1088.7 L1429.0,1088.7 L1430.0,1088.7 L1431.0,1088.7 L1432.0,1088.7 L1433.0,1088.7 L1434.0,1088.7 L1435.0,1088.7 L1436.0,1088.7 L1437.0,1088.7 L1438.0,1088.7 L1439.0,1088.7 L1440.0,1088.7 L1441.0,1088.7 L1442.0,1088.7 L1443.0,1088.7 L1444.0,1088.7 L1445.0,1088.7 L1446.0,1088.7 L1447.0,1088.7 L1448.0,1088.7 L1449.0,1088.7 L1450.0,1088.7 L1451.0,1088.7 L1452.0,1088.7 L1453.0,1088.7 L1454.0,1088.7 L1455.0,1088.6 L1456.0,1088.6 L1457.0,1088.5 L1458.0,1088.3 L1459.0,1088.2 L1460.0,1088.0 L1461.0,1087.7 L1462.0,1087.4 L1463.0,1087.1 L1464.0,1086.8 L1465.0,1086.4 L1466.0,1086.0 L1467.0,1085.5 L1468.0,1085.1 L1469.0,1084.5 L1470.0,1083.9 L1471.0,1083.1 L1472.0,1082.3 L1473.0,1081.4 L1474.0,1080.3 L1475.0,1079.2 L1476.0,1077.9 L1477.0,1076.6 L1478.0,1075.3 L1479.0,1073.9 L1480.0,1072.4 L1481.0,1070.8 L1482.0,1069.1 L1483.0,1067.3 L1484.0,1065.2 L1485.0,1062.8 L1486.0,1059.9 L1487.0,1056.4 L1488.0,1052.3 L1489.0,1047.3 L1490.0,1041.7 L1491.0,1035.4 L1492.0,1028.7 L1493.0,1021.8 L1494.0,1014.7 L1495.0,1007.6 L1496.0,1000.5 L1497.0,993.3 L1498.0,986.0 L1499.0,978.7 L1500.0,971.2 L1501.0,963.5 L1502.0,955.6 L1503.0,947.5 L1504.0,938.9 L1505.0,929.7 L1506.0,919.8 L1507.0,909.1 L1508.0,897.7 L1509.0,885.8 L1510.0,873.8 L1511.0,862.0 L1512.0,850.6 L1513.0,839.9 L1514.0,829.6 L1515.0,819.6 L1516.0,809.5 L1517.0,799.2 L1518.0,788.4 L1519.0,777.1 L1520.0,765.2 L1521.0,752.5 L1522.0,739.2 L1523.0,725.2 L1524.0,710.7 L1525.0,695.9 L1526.0,680.8 L1527.0,665.6 L1528.0,650.3 L1529.0,634.9 L1530.0,619.4 L1531.0,603.7 L1532.0,587.9 L1533.0,572.1 L1534.0,556.2 L1535.0,540.4 L1536.0,524.9 L1537.0,510.2 L1538.0,496.7 L1539.0,485.0 L1540.0,475.7" stroke="#00b0f0" stroke-width="13.5" stroke-linecap="round" stroke-dasharray="27 27.3" stroke-dashoffset="26.0"/>
<ellipse cx="1528.2" cy="1067.5" rx="2" ry="5.5" fill="#ff6a00" stroke="none" transform="rotate(8 1528.2 1067.5)"/>
</g>
<path d="M1065,445 C1064.3,453.9 1065.2,480.9 1061.0,498.6 C1056.8,516.3 1049.6,534.0 1040.0,551.0 C1030.4,568.0 1018.4,584.8 1003.6,600.5 C988.8,616.2 966.3,634.6 951.0,645.0 C935.7,655.4 922.3,659.0 912.0,663.0 C901.7,667.0 893.2,667.9 889.4,668.9" stroke="#000" stroke-width="12.5" fill="none" stroke-linecap="butt"/>
<path d="M930.9,643.7 L889.4,668.9 L934.1,687.7" stroke="#000" stroke-width="12.5" fill="none" stroke-linecap="round" stroke-linejoin="miter" stroke-miterlimit="10"/>
<path d="M1420.9,904.3 C1420.7,910.0 1420.9,927.8 1419.6,938.3 C1418.3,948.8 1416.1,958.3 1413.1,967.0 C1410.0,975.7 1405.9,985.5 1401.3,990.5 C1396.7,995.5 1390.4,993.5 1385.6,997.0 C1380.8,1000.5 1376.5,1003.8 1372.6,1011.4 C1368.7,1019.0 1364.7,1031.9 1362.1,1042.8 C1359.5,1053.7 1357.7,1071.2 1356.8,1076.9" stroke="#000" stroke-width="12.5" fill="none" stroke-linecap="butt"/>
<path d="M1338.4,1029.9 L1356.8,1076.9 L1384.0,1034.4" stroke="#000" stroke-width="12.5" fill="none" stroke-linecap="round" stroke-linejoin="miter" stroke-miterlimit="10"/>
<path d="M1864,215.3 C1863.9,230.6 1864.0,274.1 1863.3,306.8 C1862.6,339.5 1861.5,380.8 1860.1,411.3 C1858.7,441.8 1857.2,466.2 1854.9,489.7 C1852.6,513.1 1850.1,526.2 1846.4,552.0 C1842.7,577.8 1838.4,611.6 1832.7,644.5 C1827.0,677.4 1819.6,714.2 1812.3,749.1 C1805.0,784.0 1795.5,822.1 1788.8,853.6 C1782.1,885.1 1776.7,916.0 1772.0,938.0 C1767.3,960.0 1766.0,968.7 1760.9,985.3 C1755.8,1001.9 1748.9,1020.2 1741.3,1037.6 C1733.7,1055.0 1722.9,1075.9 1715.2,1089.9 C1707.5,1103.9 1702.4,1112.2 1695.0,1121.5 C1687.6,1130.8 1679.2,1138.7 1671.0,1145.4 C1662.8,1152.1 1649.8,1159.1 1645.5,1161.8" stroke="#000" stroke-width="12.5" fill="none" stroke-linecap="butt"/>
<path d="M1686.4,1135.7 L1645.5,1161.8 L1690.6,1179.6" stroke="#000" stroke-width="12.5" fill="none" stroke-linecap="round" stroke-linejoin="miter" stroke-miterlimit="10"/>
<g font-family="'Liberation Serif','Times New Roman',serif" fill="#000">
<text transform="translate(337.5,97.3) scale(0.968,1)" font-size="103.5" text-anchor="end">0.25</text>
<text transform="translate(337.5,343.9) scale(0.968,1)" font-size="103.5" text-anchor="end">0.20</text>
<text transform="translate(337.5,590.6) scale(0.968,1)" font-size="103.5" text-anchor="end">0.15</text>
<text transform="translate(337.5,837.3) scale(0.968,1)" font-size="103.5" text-anchor="end">0.10</text>
<text transform="translate(337.5,1083.9) scale(0.968,1)" font-size="103.5" text-anchor="end">0.05</text>
<text transform="translate(337.5,1330.5) scale(0.968,1)" font-size="103.5" text-anchor="end">0.00</text>
<text transform="translate(424.9,1450.8) scale(0.968,1)" font-size="103.5" text-anchor="middle">5</text>
<text transform="translate(694.3,1450.8) scale(0.968,1)" font-size="103.5" text-anchor="middle">4</text>
<text transform="translate(965.2,1450.8) scale(0.968,1)" font-size="103.5" text-anchor="middle">3</text>
<text transform="translate(1237.0,1450.8) scale(0.968,1)" font-size="103.5" text-anchor="middle">2</text>
<text transform="translate(1508.5,1450.8) scale(0.968,1)" font-size="103.5" text-anchor="middle">1</text>
<text transform="translate(1780.0,1450.8) scale(0.968,1)" font-size="103.5" text-anchor="middle">0</text>
<text transform="translate(2051.3,1450.8) scale(0.968,1)" font-size="103.5" text-anchor="middle">-1</text>
<text transform="translate(2322.5,1450.8) scale(0.968,1)" font-size="103.5" text-anchor="middle">-2</text>
<text transform="translate(716.0,1199.3) scale(0.955,1)" font-size="70.5" text-anchor="middle">4</text>
<text transform="translate(984.8,1199.3) scale(0.955,1)" font-size="70.5" text-anchor="middle">3</text>
<text transform="translate(1257.2,1199.3) scale(0.955,1)" font-size="70.5" text-anchor="middle">2</text>
<text transform="translate(1525.7,1199.3) scale(0.955,1)" font-size="70.5" text-anchor="middle">1</text>
<text transform="translate(648.5,658.3) scale(0.955,1)" font-size="70.5" text-anchor="end">0.01</text>
<text transform="translate(648.5,1110.0) scale(0.955,1)" font-size="70.5" text-anchor="end">0.00</text>
<text x="1007.5" y="1599.5" font-size="114" font-weight="bold">log <tspan font-style="italic" font-weight="normal" stroke="#000" stroke-width="2.4">f</tspan><tspan dx="8">, [Hz]</tspan></text>
<text transform="translate(107.5,671) rotate(-90)" font-size="115" font-weight="bold" text-anchor="middle">γ(τ), Ω cm<tspan font-size="80" dy="-33">2</tspan></text>
</g>
<g fill="none" stroke-linecap="round">
<line x1="547" y1="128.5" x2="728" y2="128.5" stroke="#ff33cc" stroke-width="18.5"/>
<line x1="1185" y1="128.5" x2="1366" y2="128.5" stroke="#00cc99" stroke-width="13.5"/>
<line x1="547.5" y1="228.5" x2="728" y2="228.5" stroke="#ff6a00" stroke-width="13.5" stroke-dasharray="94.5 54"/>
<line x1="1185" y1="228.5" x2="1366.5" y2="228.5" stroke="#00b0f0" stroke-width="13.5" stroke-dasharray="27 27.3"/>
</g>
<g font-family="'Liberation Serif','Times New Roman',serif" font-size="103" font-weight="bold">
<text x="749" y="160" fill="#ff33cc">600 °C</text>
<text x="1385" y="160" fill="#00cc99">650 °C</text>
<text x="749" y="259.8" fill="#ff6a00">700 °C</text>
<text x="1385" y="259.8" fill="#00b0f0">750 °C</text>
</g>
</svg>
</body>
</html>
